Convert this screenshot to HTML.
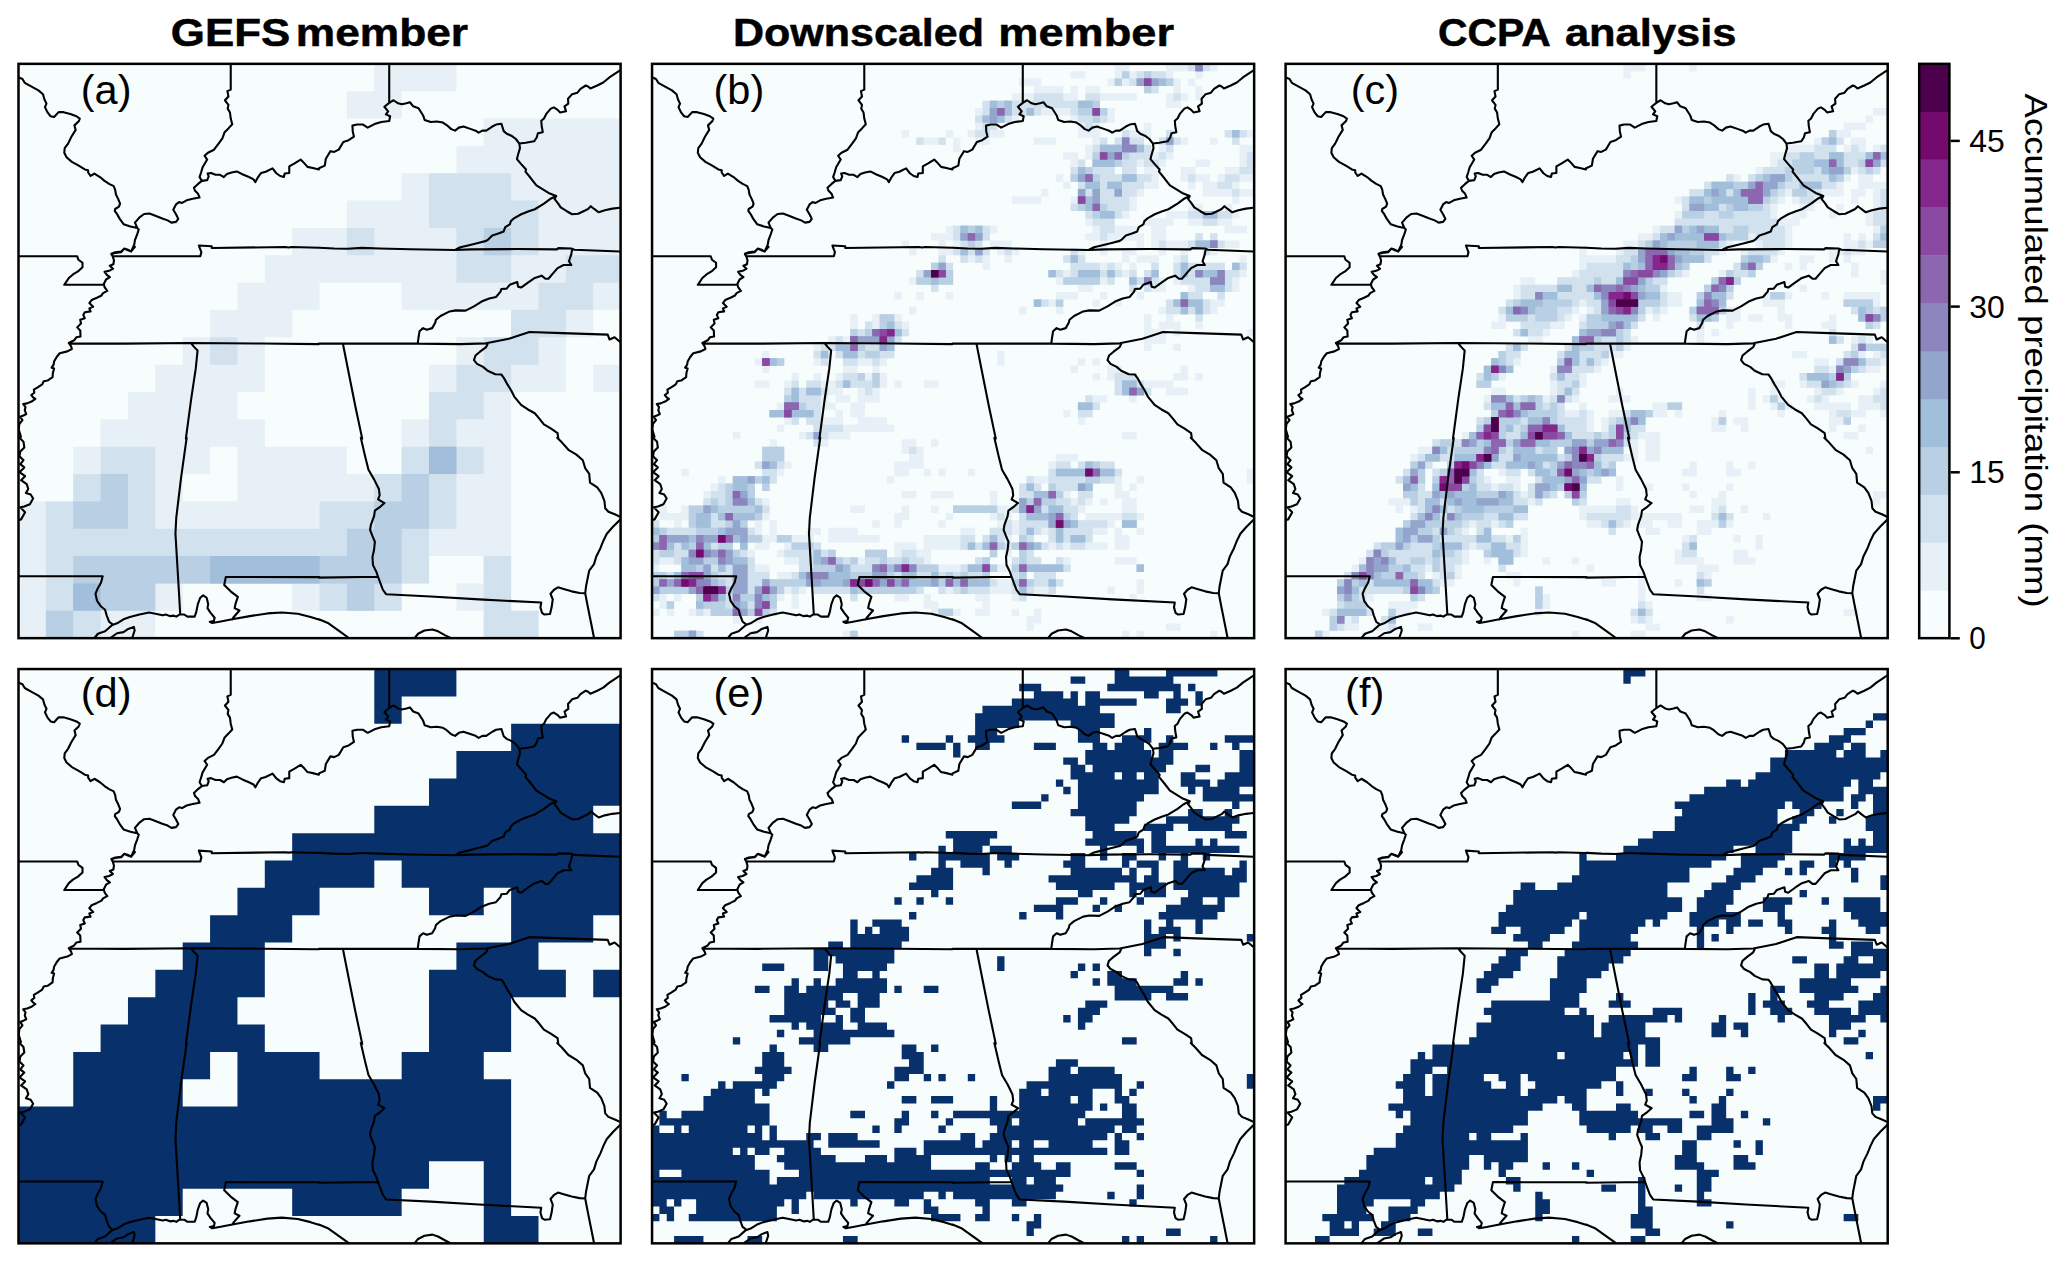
<!DOCTYPE html>
<html><head><meta charset="utf-8"><title>Precipitation downscaling figure</title>
<style>html,body{margin:0;padding:0;background:#fff}svg{display:block}text{font-family:"Liberation Sans",sans-serif;fill:#000}</style></head><body>
<svg width="2067" height="1263" viewBox="0 0 2067 1263">
<defs><clipPath id="pc"><rect x="0" y="0" width="602.1" height="574.3"/></clipPath>
<path id="bd" fill="none" stroke="#000" stroke-width="2.1" stroke-linejoin="round" stroke-linecap="round" d="M0.92 13.94L3.96 15.15L6.24 18.95L13.08 22.75L19.92 26.55L24.48 30.35L26 35.68L27.98 39.78L26.46 43.28L29.04 48.6L32.08 52.4L35.58 53.16L40.14 48.29L45.01 48.29L51.85 50.12L57.93 52.4L61.27 54.68L60.21 57.41L55.95 61.52L57.17 66.08L52.91 72.92L49.57 79.76L46.22 84.32L45.77 88.88L48.05 93.44L53.37 98L60.21 101.8L66.29 105.61L69.63 106.37L69.63 108.65L72.07 112.14L75.87 109.71L81.49 113.21L86.05 117.01L90.61 120.05L95.17 122.33L96.69 126.13L97.45 130.69L99.73 135.25L101.56 139.81L100.49 142.85L96.69 145.13L96.24 147.11L98.21 149.69L101.25 155.01L105.06 160.33L111.9 162.61L118.74 164.13M118.74 164.13L120.26 165.65L118.74 170.21L116.46 176.3L115.7 180.86L112.66 187.7L108.86 186.18L105.82 184.66L102.77 187.7L96.69 188.46L92.89 189.98M118.74 164.13L116.46 158.81L121.02 153.49L125.58 150.15L130.9 149.69L136.22 151.67L143.82 154.71L149.14 156.53L152.94 158.81L157.5 158.05L159.78 155.01L157.5 150.45L154.77 145.89L157.5 140.57L160.54 138.29L163.58 139.05L168.14 136.47L174.23 134.95L181.07 133.73L179.55 129.93L176.51 126.89L175.44 123.85L179.55 120.05L183.35 117.01M183.35 117.01L181.07 113.21L182.59 108.65L184.11 103.32L188.67 95.72L186.08 91.92L189.43 88.88L195.51 85.84L200.07 79.76L203.87 74.44L206.15 68.36L209.95 64.56L213.75 60.45L212.23 54.68L211.47 48.6L209.19 44.8L209.95 41L206.45 36.44L209.95 32.63L208.89 27.31L212.23 25.79L212.23 1.47M183.35 117.01L188.67 116.25L190.19 112.45L189.12 109.71L192.47 109.1L197.03 110.93L201.59 110.93L205.39 113.21L208.43 110.17L212.99 108.65L218.31 107.58L224.39 110.62L230.47 113.21L235.03 115.49L236.86 118.22L239.59 113.21L242.64 109.1L247.2 107.89L254.04 104.54L257.84 109.41L261.64 112.14L265.44 113.21L266.2 109.71L270.76 109.1L270.76 102.56L276.08 99.52L282.16 95.72L285.96 99.52L289 103.02L294.32 104.08L300.4 105.61M180.31 181.62L193.23 182.38L193.23 184.2L266.96 183.14L270 183.59L273.04 183.14L300.4 183.9M300.5 104.35L306.28 101.76L307.34 94.92L311.9 87.32L315.7 88.08L320.26 85.8L324.82 78.2L330.14 76.38L335.47 72.88L334.25 67.56L333.94 61.78L338.51 60.72L344.59 60.72L349.15 63.76L355.99 60.26L362.83 58.13L370.73 57.22L371.65 52.36L367.39 50.53L369.67 47.49L365.87 42.93L370.73 38.98M370.73 38.98L370.73 0.67M370.73 38.98L374.99 36.4L379.55 39.44L383.35 40.5L387.91 39.44L391.41 38.37L394.75 42.48L400.07 44.45L404.63 51.6L406.16 56.16L412.24 58.13L418.32 57.68L424.4 58.74L428.2 61.17L432.76 65.28L436.56 66.8L440.36 63.76L444.92 62.7L452.52 65.28L457.08 66.8L460.12 68.78L463.92 66.8L467.72 66.8L473.8 62.7L477.61 60.72L482.93 59.96L485.21 67.26L488.25 69.84L492.81 71.82L497.37 75.16L500.86 79.72M500.86 79.72L507.25 78.96L515.61 77.44L518.2 73.64L519.41 69.38L524.28 68.32L523.21 62.24L522.76 56.92L525.49 54.64L527.77 50.08L532.33 44.76L535.37 43.54L539.17 45.97L541.45 48.56L547.54 47.49L546.02 42.48L549.82 39.89L549.51 34.88L553.62 30.31L558.94 28.79L561.98 24.99L567.3 21.65L569.58 22.71L571.86 24.69L578.7 21.65L584.78 18.61L590.86 13.59L596.94 9.49L601.5 6.45M500.86 79.72L501.47 84.28L499.65 90.36L498.43 95.23L502.69 100.24L507.55 105.57L506.95 107.85L512.57 114.69L517.89 121.53L523.97 125.33L530.05 129.13L537.65 132.17M537.65 132.17L531.57 135.21L525.49 139.77L516.37 145.4L510.29 147.37L502.69 150.41L495.85 154.21L492.35 157.25L491.29 160.6L486.73 163.33L485.21 167.59L479.89 169.72L473.8 171.69L470 175.5L467.72 177.02L458.6 179.3L449.48 181.58L441.88 183.4L436.56 186.14M537.65 132.17L536.13 135.21L539.17 139.01L542.21 143.57L548.3 147.37L553.62 150.41L559.7 149.96L565.02 147.37L569.58 145.09L572.32 142.35L575.66 145.09L580.22 148.44L586.3 146.31L593.9 144.79L601.5 143.87M300.5 183.86L315.7 184.62L329.38 184.92L343.07 184.01L361.31 184.62L391.71 185.38L436.56 186.14L452.52 185.53L498.13 185.22L538.41 185.53L539.93 184.31L552.86 184.62L555.9 185.83L601.5 187.66M116.46 182.95L112.66 187.51L108.86 185.69L105.82 184.77L102.77 188.27L96.69 189.03L92.89 190.25L94.41 192.83L95.48 196.63L94.87 200.43L91.37 201.95L94.41 204.99L90.61 206.97L86.05 208.03L88.33 211.07L91.37 213.35L87.57 215.63L85.29 220.2L86.05 223.24L88.79 227.04L84.53 229.32L83.01 231.6L78.45 233.88L73.13 236.16L70.85 239.2L74.65 243L70.85 244.52L72.07 247.56L66.29 248.32L64.77 251.06L66.29 254.4L61.73 255.92L62.49 259.72L58.69 263.52L61.73 266.56L62.03 272.64L57.93 273.4L55.65 276.44L50.33 279.03L52.61 282.52L53.37 285.11L48.81 287.54L41.21 289.37L38.17 293.17L35.58 297.73L35.13 300.77L33.15 303.81L35.58 304.57L34.37 309.13L34.06 313.38L29.04 316.73L25.24 317.49L23.72 320.53L19.16 323.57L15.36 325.85L15.82 328.89L12.78 331.17L14.6 333.45L16.88 334.97L13.08 337.71L8.52 339.53L4.72 340.29L7 343.33L6.24 346.37L7.76 350.17L5.48 351.39L1.68 352.91L3.96 356.25L0.92 360.06L0.16 365.38L2.44 372.98M0.16 192.38L58.69 192.38L59.9 195.87L64.01 198.91L64.01 203.47L59.45 207.58L54.43 210.62L50.33 214.11L45.77 220.96L84.53 220.96M94.41 192.38L181.83 192.38L182.89 188.27L180.76 182.95M50.33 279.48L105.82 279.79L172.7 279.18L242.64 279.64L300.4 280.24M172.7 279.48L175.75 283.28L179.09 286.63L177.27 304.57L172.7 334.97L167.38 374.8M553.52 185.99L552.76 190.55L550.48 197.39L552.76 201.19L545.16 201.19L539.07 204.23L534.51 209.55L529.95 214.87L526.91 214.87L523.11 211.83L516.27 214.11L509.43 218.68L502.59 223.69L499.55 222.78L498.79 218.22L491.19 220.96L488.15 224.76L482.83 225.21L482.07 227.8L477.51 233.12L470.66 234.64L463.06 237.68L455.46 242.54L447.1 246.8L437.22 246.5L431.14 247.56L422.02 252.12L417.46 255.92L416.7 258.96L413.66 264.28L408.34 265.8L404.53 264.28L401.04 267.32L399.97 274.16L399.21 279.79M300.4 279.79L399.21 279.79L441.78 280.24L467.62 279.48L490.43 274.92L510.95 268.08L543.64 269.3L589.24 270.82L591.07 275.68L596.08 273.4L601.4 277.96M469.14 280.24L467.62 283.28L461.54 287.85L456.98 291.65L455.46 296.21L458.5 300.01L464.58 303.05L469.14 306.85L476.75 310.34L482.83 310.65L485.11 313.69L488.91 320.53L492.71 326.61L495.75 332.69L502.59 341.05L509.43 345.61L516.27 349.41L520.83 354.73L525.39 360.51L532.23 364.62L539.07 369.18L539.83 374.8M324.72 281.46L330.8 312.17L336.89 342.57L343.73 374.8M1 373.95L5 377.95L5.8 383.55L1.8 387.55L1 392.34L5 396.34L1.8 400.34L5.8 403.54L1 408.34L6.6 412.34L2.6 416.34L8.2 420.34L9.8 425.13L7.4 429.13L12.2 430.73L14.6 434.73L11.4 440.33L5.8 442.73L1.8 443.53L6.6 448.33L2.6 455.52L-0.6 456.32M0.2 512.47L84.17 512.47L82.57 518.7L79.37 524.3L76.98 529.9L78.57 537.1L82.57 542.7L86.57 545.89L88.17 551.49L90.57 557.89L93.77 560.29M168.15 373.95L162.55 413.94L157.75 453.92L156.95 469.92L159.35 509.91L161.75 550.69M301.06 513.27L207.33 513.11L205.73 521.1L212.13 527.5L219.33 533.1L216.93 540.3L216.13 544.3L220.93 546.69L215.33 553.09L213.73 555.49M76.18 573.89L79.37 569.89L86.57 567.49L93.77 561.09L98.57 559.49L104.97 555.49L111.36 553.09L120.96 550.69L130.56 548.61L136.96 549.89L144.15 551.49L147.35 550.69L151.35 552.29L155.35 551.81L157.75 552.77L160.95 550.69L165.75 550.69L168.95 552.77L176.14 552.77L177.74 548.29L179.34 540.3L181.74 533.9L184.62 531.5L188.14 533.9L189.74 540.3L188.94 544.3L192.14 549.09L196.14 553.89L195.34 557.09L191.34 557.89L193.74 559.17L200.94 557.89L213.73 555.49L231.33 552.29L248.92 549.57L263.32 548.61L279.31 549.89L292.11 553.09L301.06 555.97M92.17 573.89L98.57 569.41L104.97 568.29L109.76 565.09L115.36 563.01L116.16 566.69L113.76 573.89M342.31 373.95L346.79 393.14L349.98 405.94L355.58 415.54L360.38 425.13L361.18 431.53L359.58 435.53L365.98 439.21L361.98 442.73L356.38 446.73L355.58 452.32L352.38 461.12L351.58 465.92L353.98 472.32L356.38 477.92L355.58 485.91L353.98 493.11L354.46 501.11L357.98 508.31L359.58 513.11M300.4 513.75L359.58 512.95M359.58 513.11L361.98 519.5L364.38 525.9L367.58 530.38L412.36 532.62L460.35 535.5L522.73 538.7L521.93 543.5L523.53 549.09L525.93 550.69L531.53 550.21L533.13 543.5L534.25 535.5L532.01 529.9L535.52 525.9L539.52 523.5L545.12 525.1L553.12 527.5L561.12 529.1L566.71 529.42M538.72 373.95L543.52 378.75L549.92 385.95L557.92 390.74L564.32 396.34L566.71 404.34L570.71 409.94L571.51 418.74L578.71 423.53L582.71 429.13L585.91 437.13L586.71 444.33L589.91 447.85L596.31 450.41L602.06 453.12M602.06 455.52L594.71 462.72L588.31 469.92L585.11 476.32L581.91 484.31L577.91 492.31L575.51 500.31L570.71 506.71L569.11 514.7L567.51 522.7L566.71 529.42L569.11 541.9L572.31 557.89L575.51 573.89M396.37 573.89L399.57 569.89L405.97 566.69L413.96 565.57L419.56 567.49L426.76 571.49L431.56 573.89M300.4 555.49L310 559.49L321.19 567.49L329.99 573.89"/></defs>
<rect width="2067" height="1263" fill="#fff"/>
<text x="170.8" y="46.3" font-size="38.6" font-weight="bold" stroke="#000" stroke-width="0.5" textLength="119.5" lengthAdjust="spacingAndGlyphs">GEFS</text>
<text x="295.8" y="46.3" font-size="38.6" font-weight="bold" stroke="#000" stroke-width="0.5" textLength="172.3" lengthAdjust="spacingAndGlyphs">member</text>
<text x="733" y="46.3" font-size="38.6" font-weight="bold" stroke="#000" stroke-width="0.5" textLength="251" lengthAdjust="spacingAndGlyphs">Downscaled</text>
<text x="998.3" y="46.3" font-size="38.6" font-weight="bold" stroke="#000" stroke-width="0.5" textLength="175.7" lengthAdjust="spacingAndGlyphs">member</text>
<text x="1438" y="46.3" font-size="38.6" font-weight="bold" stroke="#000" stroke-width="0.5" textLength="112.8" lengthAdjust="spacingAndGlyphs">CCPA</text>
<text x="1564.9" y="46.3" font-size="38.6" font-weight="bold" stroke="#000" stroke-width="0.5" textLength="171.6" lengthAdjust="spacingAndGlyphs">analysis</text>
<g transform="translate(18.5,63.85)">
<rect width="602.1" height="574.3" fill="#f7fcfd"/>
<path fill="#e6f0f6" fill-rule="evenodd" d="M328.42 27.35L328.42 54.7L383.15 54.7L383.15 27.35L437.89 27.35L437.89 0L355.79 0L355.79 27.35ZM191.58 246.13L191.58 273.48L164.21 273.48L164.21 300.82L136.84 300.82L136.84 328.17L109.47 328.17L109.47 355.52L82.1 355.52L82.1 382.87L54.74 382.87L54.74 437.56L0 437.56L0 574.3L136.84 574.3L136.84 546.95L164.21 546.95L164.21 519.6L273.68 519.6L273.68 546.95L383.15 546.95L383.15 519.6L410.52 519.6L410.52 492.26L465.26 492.26L465.26 519.6L437.89 519.6L437.89 546.95L465.26 546.95L465.26 574.3L520 574.3L520 546.95L492.63 546.95L492.63 328.17L547.36 328.17L547.36 273.48L574.73 273.48L574.73 246.13L602.1 246.13L602.1 54.7L465.26 54.7L465.26 82.04L437.89 82.04L437.89 109.39L383.15 109.39L383.15 136.74L328.42 136.74L328.42 164.09L273.68 164.09L273.68 191.43L246.31 191.43L246.31 218.78L218.95 218.78L218.95 246.13ZM328.42 410.21L328.42 382.87L246.31 382.87L246.31 355.52L218.95 355.52L218.95 328.17L246.31 328.17L246.31 273.48L273.68 273.48L273.68 246.13L301.05 246.13L301.05 218.78L383.15 218.78L383.15 246.13L492.63 246.13L492.63 273.48L437.89 273.48L437.89 300.82L410.52 300.82L410.52 355.52L383.15 355.52L383.15 410.21ZM218.95 437.56L164.21 437.56L164.21 410.21L191.58 410.21L191.58 382.87L218.95 382.87ZM574.73 300.82L574.73 328.17L602.1 328.17L602.1 300.82Z"/>
<path fill="#d1e1ee" fill-rule="evenodd" d="M355.79 164.09L328.42 164.09L328.42 191.43L355.79 191.43ZM191.58 273.48L191.58 300.82L218.95 300.82L218.95 273.48ZM410.52 382.87L383.15 382.87L383.15 410.21L355.79 410.21L355.79 437.56L301.05 437.56L301.05 464.91L136.84 464.91L136.84 382.87L82.1 382.87L82.1 410.21L54.74 410.21L54.74 437.56L27.37 437.56L27.37 574.3L82.1 574.3L82.1 546.95L136.84 546.95L136.84 519.6L301.05 519.6L301.05 546.95L383.15 546.95L383.15 519.6L410.52 519.6L410.52 464.91L437.89 464.91L437.89 410.21L465.26 410.21L465.26 382.87L437.89 382.87L437.89 355.52L465.26 355.52L465.26 328.17L492.63 328.17L492.63 300.82L520 300.82L520 273.48L547.36 273.48L547.36 246.13L574.73 246.13L574.73 218.78L602.1 218.78L602.1 191.43L547.36 191.43L547.36 218.78L520 218.78L520 246.13L492.63 246.13L492.63 273.48L465.26 273.48L465.26 300.82L437.89 300.82L437.89 328.17L410.52 328.17ZM437.89 164.09L437.89 218.78L492.63 218.78L492.63 191.43L520 191.43L520 136.74L492.63 136.74L492.63 109.39L410.52 109.39L410.52 164.09ZM520 574.3L520 546.95L492.63 546.95L492.63 492.26L465.26 492.26L465.26 574.3Z"/>
<path fill="#b9cfe4" fill-rule="evenodd" d="M82.1 437.56L54.74 437.56L54.74 464.91L109.47 464.91L109.47 410.21L82.1 410.21ZM54.74 492.26L54.74 546.95L136.84 546.95L136.84 519.6L328.42 519.6L328.42 546.95L355.79 546.95L355.79 519.6L383.15 519.6L383.15 464.91L410.52 464.91L410.52 410.21L383.15 410.21L383.15 437.56L355.79 437.56L355.79 464.91L328.42 464.91L328.42 492.26ZM54.74 574.3L54.74 546.95L27.37 546.95L27.37 574.3ZM492.63 164.09L465.26 164.09L465.26 191.43L492.63 191.43ZM437.89 382.87L410.52 382.87L410.52 410.21L437.89 410.21Z"/>
<path fill="#a1bedb" fill-rule="evenodd" d="M410.52 382.87L410.52 410.21L437.89 410.21L437.89 382.87ZM191.58 519.6L301.05 519.6L301.05 492.26L191.58 492.26ZM54.74 546.95L82.1 546.95L82.1 519.6L54.74 519.6Z"/>
<use href="#bd" clip-path="url(#pc)"/>
<rect width="602.1" height="574.3" fill="none" stroke="#000" stroke-width="2.5"/>
<text x="62.3" y="40.15" font-size="41.5">(a)</text>
</g>
<g transform="translate(652.05,63.85)">
<rect width="602.1" height="574.3" fill="#f7fcfd"/>
<path fill="#e6f0f6" fill-rule="evenodd" d="M117.48 309.24L117.48 301.88L132.17 301.88L132.17 294.51L117.48 294.51L117.48 287.15L110.14 287.15L110.14 294.51L102.8 294.51L102.8 301.88L110.14 301.88L110.14 309.24ZM139.51 309.24L139.51 316.6L132.17 316.6L132.17 338.69L124.83 338.69L124.83 346.05L117.48 346.05L117.48 353.42L132.17 353.42L132.17 360.78L146.85 360.78L146.85 353.42L154.2 353.42L154.2 360.78L161.54 360.78L161.54 368.14L146.85 368.14L146.85 375.5L161.54 375.5L161.54 382.87L176.22 382.87L176.22 375.5L198.25 375.5L198.25 368.14L242.31 368.14L242.31 360.78L234.97 360.78L234.97 353.42L212.94 353.42L212.94 338.69L227.62 338.69L227.62 323.96L234.97 323.96L234.97 309.24L227.62 309.24L227.62 301.88L234.97 301.88L234.97 294.51L242.31 294.51L242.31 279.79L249.65 279.79L249.65 272.42L256.99 272.42L256.99 257.7L249.65 257.7L249.65 250.34L220.28 250.34L220.28 257.7L212.94 257.7L212.94 265.06L205.6 265.06L205.6 250.34L198.25 250.34L198.25 272.42L176.22 272.42L176.22 279.79L161.54 279.79L161.54 301.88L176.22 301.88L176.22 287.15L183.57 287.15L183.57 294.51L190.91 294.51L190.91 309.24L183.57 309.24L183.57 316.6L168.88 316.6L168.88 309.24L161.54 309.24L161.54 316.6L154.2 316.6L154.2 323.96L146.85 323.96L146.85 309.24ZM205.6 309.24L205.6 301.88L220.28 301.88L220.28 309.24ZM168.88 346.05L183.57 346.05L183.57 353.42L168.88 353.42ZM183.57 338.69L198.25 338.69L198.25 353.42L205.6 353.42L205.6 360.78L190.91 360.78L190.91 346.05L183.57 346.05ZM176.22 338.69L176.22 331.33L183.57 331.33L183.57 338.69ZM198.25 331.33L190.91 331.33L190.91 323.96L205.6 323.96L205.6 338.69L198.25 338.69ZM117.48 316.6L102.8 316.6L102.8 323.96L117.48 323.96ZM124.83 360.78L124.83 368.14L132.17 368.14L132.17 360.78ZM88.11 368.14L80.77 368.14L80.77 375.5L88.11 375.5ZM110.14 404.96L110.14 412.32L80.77 412.32L80.77 419.68L73.43 419.68L73.43 412.32L66.08 412.32L66.08 419.68L58.74 419.68L58.74 427.04L51.4 427.04L51.4 441.77L29.37 441.77L29.37 449.13L14.69 449.13L14.69 441.77L7.34 441.77L7.34 456.49L0 456.49L0 537.49L7.34 537.49L7.34 544.85L14.69 544.85L14.69 552.21L22.03 552.21L22.03 537.49L29.37 537.49L29.37 530.12L44.06 530.12L44.06 544.85L36.71 544.85L36.71 552.21L80.77 552.21L80.77 559.57L88.11 559.57L88.11 552.21L102.8 552.21L102.8 559.57L110.14 559.57L110.14 552.21L124.83 552.21L124.83 537.49L132.17 537.49L132.17 530.12L139.51 530.12L139.51 544.85L146.85 544.85L146.85 530.12L154.2 530.12L154.2 522.76L161.54 522.76L161.54 530.12L198.25 530.12L198.25 537.49L205.6 537.49L205.6 530.12L242.31 530.12L242.31 537.49L256.99 537.49L256.99 530.12L271.68 530.12L271.68 522.76L286.36 522.76L286.36 530.12L323.08 530.12L323.08 537.49L330.42 537.49L330.42 544.85L323.08 544.85L323.08 552.21L337.76 552.21L337.76 530.12L359.79 530.12L359.79 537.49L374.48 537.49L374.48 530.12L403.85 530.12L403.85 522.76L411.19 522.76L411.19 515.4L403.85 515.4L403.85 508.03L418.53 508.03L418.53 493.31L403.85 493.31L403.85 500.67L389.16 500.67L389.16 493.31L381.82 493.31L381.82 485.95L455.25 485.95L455.25 478.58L440.56 478.58L440.56 471.22L455.25 471.22L455.25 463.86L462.59 463.86L462.59 456.49L469.93 456.49L469.93 463.86L484.62 463.86L484.62 456.49L491.96 456.49L491.96 449.13L484.62 449.13L484.62 434.41L477.27 434.41L477.27 427.04L469.93 427.04L469.93 404.96L462.59 404.96L462.59 397.59L425.88 397.59L425.88 390.23L403.85 390.23L403.85 397.59L396.5 397.59L396.5 412.32L374.48 412.32L374.48 419.68L367.13 419.68L367.13 441.77L345.11 441.77L345.11 427.04L337.76 427.04L337.76 441.77L301.05 441.77L301.05 449.13L337.76 449.13L337.76 456.49L345.11 456.49L345.11 463.86L337.76 463.86L337.76 471.22L330.42 471.22L330.42 478.58L323.08 478.58L323.08 463.86L308.39 463.86L308.39 471.22L271.68 471.22L271.68 485.95L264.34 485.95L264.34 478.58L242.31 478.58L242.31 493.31L234.97 493.31L234.97 485.95L212.94 485.95L212.94 493.31L183.57 493.31L183.57 485.95L168.88 485.95L168.88 478.58L161.54 478.58L161.54 471.22L168.88 471.22L168.88 463.86L154.2 463.86L154.2 471.22L124.83 471.22L124.83 456.49L117.48 456.49L117.48 434.41L102.8 434.41L102.8 419.68L110.14 419.68L110.14 427.04L117.48 427.04L117.48 419.68L124.83 419.68L124.83 412.32L132.17 412.32L132.17 404.96L139.51 404.96L139.51 397.59L132.17 397.59L132.17 382.87L124.83 382.87L124.83 375.5L117.48 375.5L117.48 382.87L110.14 382.87L110.14 397.59L102.8 397.59L102.8 404.96ZM22.03 456.49L22.03 463.86L7.34 463.86L7.34 456.49ZM14.69 537.49L14.69 530.12L22.03 530.12L22.03 537.49ZM425.88 404.96L418.53 404.96L418.53 397.59L425.88 397.59ZM117.48 471.22L110.14 471.22L110.14 456.49L117.48 456.49ZM374.48 515.4L374.48 508.03L381.82 508.03L381.82 515.4ZM337.76 515.4L337.76 508.03L359.79 508.03L359.79 515.4ZM337.76 500.67L337.76 493.31L345.11 493.31L345.11 485.95L352.45 485.95L352.45 493.31L359.79 493.31L359.79 500.67ZM323.08 493.31L323.08 500.67L279.02 500.67L279.02 485.95L337.76 485.95L337.76 493.31ZM359.79 485.95L367.13 485.95L367.13 493.31L359.79 493.31ZM117.48 500.67L102.8 500.67L102.8 485.95L117.48 485.95L117.48 478.58L132.17 478.58L132.17 485.95L124.83 485.95L124.83 493.31L132.17 493.31L132.17 500.67L146.85 500.67L146.85 508.03L124.83 508.03L124.83 515.4L117.48 515.4ZM95.45 485.95L95.45 478.58L102.8 478.58L102.8 485.95ZM80.77 478.58L88.11 478.58L88.11 485.95L80.77 485.95ZM36.71 456.49L36.71 463.86L29.37 463.86L29.37 456.49ZM102.8 463.86L95.45 463.86L95.45 456.49L102.8 456.49ZM7.34 508.03L7.34 500.67L29.37 500.67L29.37 508.03ZM433.22 441.77L440.56 441.77L440.56 419.68L462.59 419.68L462.59 434.41L469.93 434.41L469.93 449.13L433.22 449.13ZM433.22 456.49L425.88 456.49L425.88 449.13L433.22 449.13ZM425.88 427.04L425.88 434.41L418.53 434.41L418.53 427.04ZM359.79 449.13L367.13 449.13L367.13 456.49L359.79 456.49ZM396.5 419.68L396.5 427.04L389.16 427.04L389.16 419.68ZM367.13 478.58L359.79 478.58L359.79 471.22L367.13 471.22ZM381.82 478.58L381.82 471.22L396.5 471.22L396.5 478.58ZM29.37 404.96L29.37 412.32L36.71 412.32L36.71 404.96ZM0 544.85L0 552.21L7.34 552.21L7.34 544.85ZM22.03 566.94L22.03 574.3L51.4 574.3L51.4 566.94ZM95.45 566.94L95.45 574.3L110.14 574.3L110.14 566.94ZM256.99 176.71L249.65 176.71L249.65 184.07L256.99 184.07ZM242.31 228.25L242.31 235.61L249.65 235.61L249.65 228.25ZM242.31 316.6L242.31 323.96L249.65 323.96L249.65 316.6ZM256.99 412.32L256.99 404.96L271.68 404.96L271.68 382.87L264.34 382.87L264.34 375.5L249.65 375.5L249.65 390.23L256.99 390.23L256.99 397.59L242.31 397.59L242.31 412.32ZM234.97 412.32L234.97 419.68L242.31 419.68L242.31 412.32ZM212.94 441.77L198.25 441.77L198.25 449.13L212.94 449.13ZM256.99 441.77L249.65 441.77L249.65 449.13L242.31 449.13L242.31 463.86L249.65 463.86L249.65 456.49L256.99 456.49ZM220.28 456.49L220.28 463.86L227.62 463.86L227.62 456.49ZM176.22 463.86L176.22 478.58L227.62 478.58L227.62 471.22L205.6 471.22L205.6 463.86ZM205.6 566.94L190.91 566.94L190.91 574.3L205.6 574.3ZM323.08 73.63L323.08 80.99L337.76 80.99L337.76 73.63L352.45 73.63L352.45 66.27L345.11 66.27L345.11 58.9L367.13 58.9L367.13 51.54L418.53 51.54L418.53 58.9L425.88 58.9L425.88 73.63L440.56 73.63L440.56 80.99L433.22 80.99L433.22 95.72L425.88 95.72L425.88 88.35L411.19 88.35L411.19 95.72L418.53 95.72L418.53 117.81L425.88 117.81L425.88 132.53L418.53 132.53L418.53 147.26L433.22 147.26L433.22 161.98L440.56 161.98L440.56 169.34L433.22 169.34L433.22 176.71L447.9 176.71L447.9 191.43L455.25 191.43L455.25 176.71L484.62 176.71L484.62 184.07L491.96 184.07L491.96 169.34L484.62 169.34L484.62 161.98L462.59 161.98L462.59 154.62L477.27 154.62L477.27 147.26L484.62 147.26L484.62 132.53L491.96 132.53L491.96 125.17L506.65 125.17L506.65 103.08L513.99 103.08L513.99 95.72L521.33 95.72L521.33 80.99L536.02 80.99L536.02 73.63L521.33 73.63L521.33 66.27L513.99 66.27L513.99 73.63L506.65 73.63L506.65 88.35L499.3 88.35L499.3 80.99L491.96 80.99L491.96 73.63L499.3 73.63L499.3 58.9L491.96 58.9L491.96 66.27L469.93 66.27L469.93 73.63L462.59 73.63L462.59 80.99L455.25 80.99L455.25 73.63L447.9 73.63L447.9 58.9L462.59 58.9L462.59 44.18L447.9 44.18L447.9 36.81L484.62 36.81L484.62 29.45L447.9 29.45L447.9 22.09L433.22 22.09L433.22 36.81L425.88 36.81L425.88 22.09L418.53 22.09L418.53 29.45L411.19 29.45L411.19 22.09L389.16 22.09L389.16 14.73L367.13 14.73L367.13 22.09L381.82 22.09L381.82 29.45L359.79 29.45L359.79 36.81L330.42 36.81L330.42 44.18L323.08 44.18L323.08 66.27L315.74 66.27L315.74 73.63ZM440.56 95.72L440.56 103.08L433.22 103.08L433.22 95.72ZM484.62 103.08L491.96 103.08L491.96 110.44L484.62 110.44ZM462.59 103.08L469.93 103.08L469.93 110.44L462.59 110.44ZM249.65 66.27L249.65 73.63L256.99 73.63L256.99 66.27ZM293.71 66.27L293.71 73.63L301.05 73.63L301.05 66.27ZM301.05 73.63L301.05 88.35L308.39 88.35L308.39 73.63ZM264.34 73.63L264.34 80.99L293.71 80.99L293.71 73.63ZM286.36 198.8L279.02 198.8L279.02 206.16L264.34 206.16L264.34 213.52L256.99 213.52L256.99 220.88L279.02 220.88L279.02 228.25L286.36 228.25L286.36 220.88L301.05 220.88L301.05 198.8L293.71 198.8L293.71 191.43L308.39 191.43L308.39 198.8L330.42 198.8L330.42 206.16L337.76 206.16L337.76 184.07L330.42 184.07L330.42 176.71L337.76 176.71L337.76 169.34L345.11 169.34L345.11 161.98L293.71 161.98L293.71 169.34L279.02 169.34L279.02 176.71L286.36 176.71ZM301.05 184.07L293.71 184.07L293.71 176.71L301.05 176.71ZM256.99 184.07L256.99 191.43L264.34 191.43L264.34 184.07ZM293.71 228.25L293.71 235.61L301.05 235.61L301.05 228.25ZM264.34 228.25L264.34 235.61L271.68 235.61L271.68 228.25ZM264.34 242.97L256.99 242.97L256.99 250.34L264.34 250.34ZM271.68 316.6L271.68 323.96L286.36 323.96L286.36 316.6ZM279.02 375.5L279.02 382.87L286.36 382.87L286.36 375.5ZM286.36 404.96L286.36 412.32L293.71 412.32L293.71 404.96ZM271.68 404.96L271.68 412.32L279.02 412.32L279.02 404.96ZM323.08 404.96L315.74 404.96L315.74 412.32L323.08 412.32ZM301.05 427.04L279.02 427.04L279.02 434.41L301.05 434.41ZM249.65 427.04L249.65 434.41L264.34 434.41L264.34 427.04ZM279.02 441.77L279.02 449.13L286.36 449.13L286.36 441.77ZM293.71 449.13L293.71 456.49L301.05 456.49L301.05 449.13ZM293.71 456.49L286.36 456.49L286.36 463.86L293.71 463.86ZM308.39 544.85L286.36 544.85L286.36 537.49L279.02 537.49L279.02 530.12L271.68 530.12L271.68 544.85L279.02 544.85L279.02 552.21L308.39 552.21ZM418.53 7.36L418.53 14.73L433.22 14.73L433.22 7.36ZM381.82 73.63L381.82 80.99L403.85 80.99L403.85 73.63ZM411.19 117.81L411.19 110.44L403.85 110.44L403.85 117.81ZM411.19 117.81L411.19 125.17L418.53 125.17L418.53 117.81ZM389.16 125.17L389.16 132.53L396.5 132.53L396.5 125.17ZM389.16 132.53L359.79 132.53L359.79 139.89L389.16 139.89ZM359.79 191.43L367.13 191.43L367.13 184.07L359.79 184.07L359.79 176.71L337.76 176.71L337.76 184.07L345.11 184.07L345.11 191.43L352.45 191.43L352.45 198.8L359.79 198.8ZM433.22 184.07L418.53 184.07L418.53 191.43L411.19 191.43L411.19 198.8L418.53 198.8L418.53 206.16L396.5 206.16L396.5 213.52L403.85 213.52L403.85 220.88L425.88 220.88L425.88 228.25L440.56 228.25L440.56 220.88L462.59 220.88L462.59 213.52L477.27 213.52L477.27 228.25L484.62 228.25L484.62 220.88L491.96 220.88L491.96 228.25L513.99 228.25L513.99 213.52L506.65 213.52L506.65 191.43L484.62 191.43L484.62 198.8L477.27 198.8L477.27 206.16L469.93 206.16L469.93 198.8L433.22 198.8ZM499.3 198.8L499.3 206.16L491.96 206.16L491.96 213.52L484.62 213.52L484.62 198.8ZM403.85 242.97L403.85 250.34L411.19 250.34L411.19 235.61L425.88 235.61L425.88 228.25L403.85 228.25L403.85 235.61L381.82 235.61L381.82 242.97ZM367.13 242.97L367.13 250.34L374.48 250.34L374.48 242.97ZM345.11 287.15L345.11 301.88L352.45 301.88L352.45 287.15ZM418.53 301.88L418.53 309.24L425.88 309.24L425.88 301.88ZM418.53 346.05L411.19 346.05L411.19 353.42L418.53 353.42ZM381.82 559.57L389.16 559.57L389.16 544.85L381.82 544.85L381.82 552.21L374.48 552.21L374.48 566.94L381.82 566.94ZM359.79 544.85L359.79 552.21L367.13 552.21L367.13 544.85ZM462.59 14.73L455.25 14.73L455.25 22.09L491.96 22.09L491.96 29.45L506.65 29.45L506.65 22.09L521.33 22.09L521.33 29.45L513.99 29.45L513.99 44.18L528.67 44.18L528.67 36.81L536.02 36.81L536.02 29.45L528.67 29.45L528.67 14.73L521.33 14.73L521.33 7.36L543.36 7.36L543.36 14.73L550.7 14.73L550.7 7.36L565.39 7.36L565.39 0L513.99 0L513.99 7.36L477.27 7.36L477.27 0L462.59 0ZM477.27 198.8L477.27 191.43L484.62 191.43L484.62 184.07L469.93 184.07L469.93 198.8ZM447.9 235.61L455.25 235.61L455.25 228.25L447.9 228.25ZM440.56 235.61L440.56 242.97L447.9 242.97L447.9 235.61ZM462.59 235.61L462.59 242.97L469.93 242.97L469.93 235.61ZM447.9 294.51L440.56 294.51L440.56 301.88L447.9 301.88ZM425.88 294.51L425.88 301.88L433.22 301.88L433.22 294.51ZM462.59 331.33L477.27 331.33L477.27 338.69L484.62 338.69L484.62 331.33L499.3 331.33L499.3 323.96L513.99 323.96L513.99 331.33L536.02 331.33L536.02 323.96L521.33 323.96L521.33 316.6L484.62 316.6L484.62 309.24L469.93 309.24L469.93 301.88L455.25 301.88L455.25 316.6L462.59 316.6ZM447.9 309.24L440.56 309.24L440.56 316.6L447.9 316.6ZM425.88 360.78L433.22 360.78L433.22 353.42L440.56 353.42L440.56 346.05L447.9 346.05L447.9 338.69L455.25 338.69L455.25 331.33L433.22 331.33L433.22 338.69L425.88 338.69ZM447.9 434.41L447.9 441.77L455.25 441.77L455.25 434.41ZM477.27 471.22L469.93 471.22L469.93 463.86L462.59 463.86L462.59 485.95L477.27 485.95ZM462.59 493.31L462.59 500.67L484.62 500.67L484.62 493.31ZM462.59 522.76L455.25 522.76L455.25 530.12L462.59 530.12ZM469.93 566.94L469.93 574.3L477.27 574.3L477.27 566.94ZM499.3 184.07L506.65 184.07L506.65 191.43L513.99 191.43L513.99 184.07L528.67 184.07L528.67 191.43L521.33 191.43L521.33 220.88L536.02 220.88L536.02 228.25L528.67 228.25L528.67 235.61L513.99 235.61L513.99 242.97L506.65 242.97L506.65 250.34L513.99 250.34L513.99 257.7L506.65 257.7L506.65 265.06L499.3 265.06L499.3 250.34L491.96 250.34L491.96 287.15L499.3 287.15L499.3 279.79L513.99 279.79L513.99 265.06L521.33 265.06L521.33 272.42L528.67 272.42L528.67 257.7L521.33 257.7L521.33 250.34L543.36 250.34L543.36 265.06L550.7 265.06L550.7 250.34L565.39 250.34L565.39 242.97L572.73 242.97L572.73 228.25L587.41 228.25L587.41 213.52L594.76 213.52L594.76 191.43L587.41 191.43L587.41 198.8L580.07 198.8L580.07 206.16L572.73 206.16L572.73 198.8L536.02 198.8L536.02 184.07L550.7 184.07L550.7 191.43L565.39 191.43L565.39 184.07L587.41 184.07L587.41 176.71L565.39 176.71L565.39 169.34L558.04 169.34L558.04 176.71L550.7 176.71L550.7 169.34L543.36 169.34L543.36 176.71L513.99 176.71L513.99 161.98L521.33 161.98L521.33 154.62L536.02 154.62L536.02 161.98L572.73 161.98L572.73 169.34L594.76 169.34L594.76 161.98L580.07 161.98L580.07 154.62L587.41 154.62L587.41 147.26L580.07 147.26L580.07 139.89L572.73 139.89L572.73 147.26L550.7 147.26L550.7 139.89L536.02 139.89L536.02 147.26L513.99 147.26L513.99 154.62L491.96 154.62L491.96 161.98L499.3 161.98ZM565.39 228.25L565.39 235.61L550.7 235.61L550.7 228.25ZM484.62 228.25L484.62 235.61L491.96 235.61L491.96 228.25ZM521.33 279.79L521.33 287.15L528.67 287.15L528.67 279.79ZM484.62 368.14L469.93 368.14L469.93 375.5L484.62 375.5ZM491.96 419.68L491.96 412.32L484.62 412.32L484.62 419.68ZM477.27 419.68L477.27 427.04L484.62 427.04L484.62 419.68ZM484.62 463.86L484.62 471.22L491.96 471.22L491.96 463.86ZM491.96 500.67L484.62 500.67L484.62 508.03L491.96 508.03ZM484.62 530.12L491.96 530.12L491.96 515.4L484.62 515.4ZM484.62 530.12L477.27 530.12L477.27 537.49L484.62 537.49ZM513.99 559.57L513.99 566.94L528.67 566.94L528.67 559.57ZM484.62 566.94L484.62 574.3L491.96 574.3L491.96 566.94ZM536.02 14.73L536.02 22.09L543.36 22.09L543.36 14.73ZM543.36 22.09L543.36 36.81L550.7 36.81L550.7 22.09ZM587.41 73.63L602.1 73.63L602.1 66.27L572.73 66.27L572.73 73.63L580.07 73.63L580.07 80.99L587.41 80.99ZM558.04 73.63L558.04 80.99L565.39 80.99L565.39 73.63ZM565.39 110.44L565.39 117.81L558.04 117.81L558.04 110.44L543.36 110.44L543.36 103.08L528.67 103.08L528.67 117.81L536.02 117.81L536.02 125.17L543.36 125.17L543.36 117.81L550.7 117.81L550.7 132.53L580.07 132.53L580.07 139.89L587.41 139.89L587.41 132.53L602.1 132.53L602.1 125.17L587.41 125.17L587.41 117.81L602.1 117.81L602.1 80.99L587.41 80.99L587.41 103.08L572.73 103.08L572.73 110.44ZM543.36 95.72L543.36 103.08L558.04 103.08L558.04 95.72ZM594.76 265.06L594.76 272.42L602.1 272.42L602.1 265.06ZM536.02 301.88L528.67 301.88L528.67 309.24L521.33 309.24L521.33 316.6L536.02 316.6ZM543.36 309.24L543.36 316.6L550.7 316.6L550.7 309.24ZM594.76 404.96L594.76 419.68L602.1 419.68L602.1 404.96ZM558.04 566.94L558.04 574.3L565.39 574.3L565.39 566.94Z"/>
<path fill="#d1e1ee" fill-rule="evenodd" d="M132.17 301.88L132.17 294.51L110.14 294.51L110.14 301.88ZM139.51 316.6L139.51 323.96L132.17 323.96L132.17 346.05L117.48 346.05L117.48 353.42L139.51 353.42L139.51 360.78L146.85 360.78L146.85 353.42L154.2 353.42L154.2 360.78L161.54 360.78L161.54 368.14L154.2 368.14L154.2 375.5L161.54 375.5L161.54 382.87L168.88 382.87L168.88 375.5L176.22 375.5L176.22 368.14L190.91 368.14L190.91 360.78L168.88 360.78L168.88 331.33L176.22 331.33L176.22 323.96L168.88 323.96L168.88 316.6L154.2 316.6L154.2 323.96L146.85 323.96L146.85 316.6ZM110.14 397.59L102.8 397.59L102.8 404.96L110.14 404.96L110.14 412.32L80.77 412.32L80.77 419.68L66.08 419.68L66.08 427.04L58.74 427.04L58.74 434.41L51.4 434.41L51.4 441.77L36.71 441.77L36.71 463.86L7.34 463.86L7.34 456.49L0 456.49L0 500.67L7.34 500.67L7.34 493.31L22.03 493.31L22.03 500.67L29.37 500.67L29.37 508.03L0 508.03L0 537.49L7.34 537.49L7.34 530.12L44.06 530.12L44.06 552.21L51.4 552.21L51.4 544.85L58.74 544.85L58.74 552.21L124.83 552.21L124.83 530.12L132.17 530.12L132.17 522.76L139.51 522.76L139.51 530.12L146.85 530.12L146.85 522.76L161.54 522.76L161.54 530.12L198.25 530.12L198.25 537.49L205.6 537.49L205.6 530.12L271.68 530.12L271.68 522.76L286.36 522.76L286.36 530.12L293.71 530.12L293.71 522.76L301.05 522.76L301.05 530.12L337.76 530.12L337.76 522.76L345.11 522.76L345.11 515.4L337.76 515.4L337.76 508.03L345.11 508.03L345.11 500.67L337.76 500.67L337.76 493.31L323.08 493.31L323.08 500.67L308.39 500.67L308.39 508.03L286.36 508.03L286.36 500.67L271.68 500.67L271.68 493.31L264.34 493.31L264.34 485.95L249.65 485.95L249.65 493.31L234.97 493.31L234.97 485.95L212.94 485.95L212.94 500.67L205.6 500.67L205.6 493.31L183.57 493.31L183.57 485.95L168.88 485.95L168.88 478.58L139.51 478.58L139.51 485.95L132.17 485.95L132.17 493.31L146.85 493.31L146.85 508.03L139.51 508.03L139.51 515.4L117.48 515.4L117.48 508.03L102.8 508.03L102.8 493.31L95.45 493.31L95.45 478.58L110.14 478.58L110.14 471.22L102.8 471.22L102.8 463.86L95.45 463.86L95.45 456.49L110.14 456.49L110.14 449.13L117.48 449.13L117.48 441.77L110.14 441.77L110.14 434.41L102.8 434.41L102.8 419.68L110.14 419.68L110.14 427.04L117.48 427.04L117.48 419.68L124.83 419.68L124.83 404.96L132.17 404.96L132.17 382.87L110.14 382.87ZM80.77 485.95L80.77 478.58L88.11 478.58L88.11 485.95ZM139.51 471.22L124.83 471.22L124.83 478.58L139.51 478.58ZM22.03 544.85L22.03 537.49L14.69 537.49L14.69 544.85ZM51.4 566.94L22.03 566.94L22.03 574.3L51.4 574.3ZM271.68 73.63L264.34 73.63L264.34 80.99L271.68 80.99ZM293.71 73.63L286.36 73.63L286.36 80.99L293.71 80.99ZM308.39 176.71L308.39 184.07L301.05 184.07L301.05 191.43L308.39 191.43L308.39 198.8L315.74 198.8L315.74 191.43L323.08 191.43L323.08 198.8L330.42 198.8L330.42 191.43L337.76 191.43L337.76 184.07L330.42 184.07L330.42 176.71L337.76 176.71L337.76 161.98L301.05 161.98L301.05 176.71ZM301.05 198.8L293.71 198.8L293.71 191.43L286.36 191.43L286.36 198.8L279.02 198.8L279.02 206.16L264.34 206.16L264.34 220.88L279.02 220.88L279.02 228.25L286.36 228.25L286.36 220.88L301.05 220.88ZM220.28 257.7L212.94 257.7L212.94 265.06L198.25 265.06L198.25 279.79L190.91 279.79L190.91 272.42L183.57 272.42L183.57 279.79L168.88 279.79L168.88 287.15L161.54 287.15L161.54 294.51L168.88 294.51L168.88 301.88L176.22 301.88L176.22 287.15L183.57 287.15L183.57 294.51L190.91 294.51L190.91 301.88L205.6 301.88L205.6 294.51L220.28 294.51L220.28 301.88L227.62 301.88L227.62 294.51L242.31 294.51L242.31 279.79L249.65 279.79L249.65 272.42L256.99 272.42L256.99 265.06L249.65 265.06L249.65 257.7L242.31 257.7L242.31 250.34L227.62 250.34L227.62 265.06L220.28 265.06ZM190.91 316.6L183.57 316.6L183.57 323.96L212.94 323.96L212.94 331.33L220.28 331.33L220.28 323.96L227.62 323.96L227.62 309.24L220.28 309.24L220.28 316.6L212.94 316.6L212.94 309.24L190.91 309.24ZM264.34 382.87L256.99 382.87L256.99 390.23L264.34 390.23ZM345.11 441.77L301.05 441.77L301.05 449.13L345.11 449.13ZM323.08 471.22L308.39 471.22L308.39 485.95L337.76 485.95L337.76 493.31L345.11 493.31L345.11 485.95L367.13 485.95L367.13 493.31L359.79 493.31L359.79 530.12L367.13 530.12L367.13 537.49L374.48 537.49L374.48 530.12L381.82 530.12L381.82 522.76L396.5 522.76L396.5 530.12L403.85 530.12L403.85 522.76L411.19 522.76L411.19 515.4L403.85 515.4L403.85 508.03L418.53 508.03L418.53 500.67L411.19 500.67L411.19 493.31L403.85 493.31L403.85 500.67L389.16 500.67L389.16 493.31L381.82 493.31L381.82 485.95L396.5 485.95L396.5 478.58L403.85 478.58L403.85 485.95L411.19 485.95L411.19 478.58L418.53 478.58L418.53 485.95L433.22 485.95L433.22 478.58L440.56 478.58L440.56 463.86L455.25 463.86L455.25 456.49L425.88 456.49L425.88 441.77L433.22 441.77L433.22 434.41L440.56 434.41L440.56 419.68L462.59 419.68L462.59 412.32L469.93 412.32L469.93 404.96L462.59 404.96L462.59 397.59L425.88 397.59L425.88 404.96L418.53 404.96L418.53 397.59L403.85 397.59L403.85 404.96L396.5 404.96L396.5 427.04L389.16 427.04L389.16 419.68L381.82 419.68L381.82 412.32L374.48 412.32L374.48 419.68L367.13 419.68L367.13 441.77L359.79 441.77L359.79 449.13L367.13 449.13L367.13 478.58L352.45 478.58L352.45 471.22L359.79 471.22L359.79 456.49L352.45 456.49L352.45 463.86L337.76 463.86L337.76 471.22L330.42 471.22L330.42 478.58L323.08 478.58ZM381.82 478.58L381.82 471.22L389.16 471.22L389.16 463.86L396.5 463.86L396.5 478.58ZM418.53 441.77L418.53 434.41L411.19 434.41L411.19 427.04L425.88 427.04L425.88 441.77ZM374.48 508.03L381.82 508.03L381.82 515.4L374.48 515.4ZM301.05 544.85L286.36 544.85L286.36 552.21L301.05 552.21ZM205.6 566.94L198.25 566.94L198.25 574.3L205.6 574.3ZM323.08 51.54L323.08 58.9L330.42 58.9L330.42 66.27L323.08 66.27L323.08 73.63L337.76 73.63L337.76 66.27L345.11 66.27L345.11 58.9L359.79 58.9L359.79 51.54L389.16 51.54L389.16 44.18L418.53 44.18L418.53 51.54L425.88 51.54L425.88 58.9L433.22 58.9L433.22 66.27L440.56 66.27L440.56 58.9L455.25 58.9L455.25 44.18L447.9 44.18L447.9 29.45L433.22 29.45L433.22 36.81L411.19 36.81L411.19 29.45L381.82 29.45L381.82 36.81L330.42 36.81L330.42 51.54ZM411.19 198.8L418.53 198.8L418.53 213.52L411.19 213.52L411.19 220.88L447.9 220.88L447.9 213.52L455.25 213.52L455.25 220.88L462.59 220.88L462.59 213.52L469.93 213.52L469.93 206.16L462.59 206.16L462.59 198.8L455.25 198.8L455.25 206.16L447.9 206.16L447.9 198.8L433.22 198.8L433.22 191.43L425.88 191.43L425.88 184.07L418.53 184.07L418.53 191.43L411.19 191.43ZM359.79 191.43L359.79 184.07L352.45 184.07L352.45 191.43ZM411.19 206.16L396.5 206.16L396.5 213.52L411.19 213.52ZM411.19 235.61L403.85 235.61L403.85 242.97L411.19 242.97ZM396.5 235.61L381.82 235.61L381.82 242.97L396.5 242.97ZM352.45 449.13L345.11 449.13L345.11 456.49L352.45 456.49ZM477.27 7.36L469.93 7.36L469.93 14.73L477.27 14.73ZM469.93 14.73L462.59 14.73L462.59 22.09L469.93 22.09ZM447.9 80.99L440.56 80.99L440.56 103.08L433.22 103.08L433.22 95.72L425.88 95.72L425.88 103.08L418.53 103.08L418.53 117.81L425.88 117.81L425.88 139.89L418.53 139.89L418.53 147.26L433.22 147.26L433.22 154.62L440.56 154.62L440.56 161.98L447.9 161.98L447.9 176.71L455.25 176.71L455.25 169.34L462.59 169.34L462.59 154.62L469.93 154.62L469.93 147.26L477.27 147.26L477.27 132.53L484.62 132.53L484.62 125.17L491.96 125.17L491.96 117.81L499.3 117.81L499.3 110.44L484.62 110.44L484.62 95.72L491.96 95.72L491.96 103.08L506.65 103.08L506.65 95.72L499.3 95.72L499.3 80.99L491.96 80.99L491.96 73.63L477.27 73.63L477.27 66.27L469.93 66.27L469.93 73.63L462.59 73.63L462.59 80.99L455.25 80.99L455.25 73.63L447.9 73.63ZM469.93 110.44L462.59 110.44L462.59 103.08L469.93 103.08ZM477.27 206.16L477.27 228.25L484.62 228.25L484.62 220.88L491.96 220.88L491.96 228.25L499.3 228.25L499.3 220.88L506.65 220.88L506.65 198.8L499.3 198.8L499.3 206.16L491.96 206.16L491.96 213.52L484.62 213.52L484.62 206.16ZM499.3 323.96L491.96 323.96L491.96 316.6L484.62 316.6L484.62 309.24L462.59 309.24L462.59 331.33L499.3 331.33ZM440.56 346.05L447.9 346.05L447.9 338.69L440.56 338.69L440.56 331.33L433.22 331.33L433.22 338.69L425.88 338.69L425.88 353.42L440.56 353.42ZM469.93 463.86L484.62 463.86L484.62 449.13L469.93 449.13ZM558.04 7.36L558.04 0L536.02 0L536.02 7.36ZM506.65 29.45L506.65 22.09L521.33 22.09L521.33 14.73L513.99 14.73L513.99 7.36L484.62 7.36L484.62 14.73L477.27 14.73L477.27 22.09L491.96 22.09L491.96 29.45ZM528.67 29.45L521.33 29.45L521.33 36.81L528.67 36.81ZM506.65 80.99L513.99 80.99L513.99 88.35L521.33 88.35L521.33 80.99L528.67 80.99L528.67 73.63L521.33 73.63L521.33 66.27L513.99 66.27L513.99 73.63L506.65 73.63ZM580.07 80.99L587.41 80.99L587.41 73.63L594.76 73.63L594.76 66.27L572.73 66.27L572.73 73.63L580.07 73.63ZM513.99 88.35L506.65 88.35L506.65 95.72L513.99 95.72ZM594.76 103.08L587.41 103.08L587.41 110.44L602.1 110.44L602.1 88.35L594.76 88.35ZM565.39 125.17L580.07 125.17L580.07 117.81L587.41 117.81L587.41 110.44L572.73 110.44L572.73 117.81L565.39 117.81ZM543.36 110.44L536.02 110.44L536.02 117.81L543.36 117.81ZM580.07 125.17L580.07 132.53L587.41 132.53L587.41 125.17ZM565.39 154.62L580.07 154.62L580.07 147.26L536.02 147.26L536.02 154.62L550.7 154.62L550.7 161.98L565.39 161.98ZM550.7 191.43L558.04 191.43L558.04 184.07L572.73 184.07L572.73 176.71L565.39 176.71L565.39 169.34L558.04 169.34L558.04 176.71L550.7 176.71L550.7 169.34L543.36 169.34L543.36 176.71L536.02 176.71L536.02 184.07L550.7 184.07ZM513.99 176.71L506.65 176.71L506.65 184.07L513.99 184.07ZM528.67 220.88L543.36 220.88L543.36 228.25L528.67 228.25L528.67 235.61L513.99 235.61L513.99 250.34L543.36 250.34L543.36 257.7L550.7 257.7L550.7 250.34L558.04 250.34L558.04 235.61L550.7 235.61L550.7 228.25L565.39 228.25L565.39 235.61L572.73 235.61L572.73 228.25L580.07 228.25L580.07 213.52L587.41 213.52L587.41 206.16L594.76 206.16L594.76 198.8L580.07 198.8L580.07 206.16L572.73 206.16L572.73 198.8L536.02 198.8L536.02 191.43L528.67 191.43L528.67 198.8L521.33 198.8L521.33 213.52L528.67 213.52ZM491.96 500.67L484.62 500.67L484.62 508.03L491.96 508.03Z"/>
<path fill="#b9cfe4" fill-rule="evenodd" d="M73.43 441.77L66.08 441.77L66.08 434.41L58.74 434.41L58.74 441.77L36.71 441.77L36.71 463.86L44.06 463.86L44.06 471.22L14.69 471.22L14.69 463.86L0 463.86L0 485.95L7.34 485.95L7.34 493.31L22.03 493.31L22.03 478.58L29.37 478.58L29.37 485.95L36.71 485.95L36.71 493.31L29.37 493.31L29.37 508.03L22.03 508.03L22.03 515.4L14.69 515.4L14.69 508.03L0 508.03L0 530.12L44.06 530.12L44.06 544.85L58.74 544.85L58.74 552.21L117.48 552.21L117.48 544.85L124.83 544.85L124.83 530.12L132.17 530.12L132.17 522.76L198.25 522.76L198.25 530.12L264.34 530.12L264.34 522.76L308.39 522.76L308.39 530.12L315.74 530.12L315.74 522.76L337.76 522.76L337.76 508.03L345.11 508.03L345.11 500.67L337.76 500.67L337.76 493.31L330.42 493.31L330.42 500.67L315.74 500.67L315.74 508.03L308.39 508.03L308.39 515.4L301.05 515.4L301.05 508.03L293.71 508.03L293.71 515.4L286.36 515.4L286.36 500.67L256.99 500.67L256.99 493.31L249.65 493.31L249.65 500.67L234.97 500.67L234.97 485.95L212.94 485.95L212.94 493.31L227.62 493.31L227.62 500.67L220.28 500.67L220.28 508.03L198.25 508.03L198.25 500.67L190.91 500.67L190.91 493.31L183.57 493.31L183.57 485.95L176.22 485.95L176.22 493.31L168.88 493.31L168.88 485.95L161.54 485.95L161.54 508.03L146.85 508.03L146.85 515.4L110.14 515.4L110.14 522.76L102.8 522.76L102.8 530.12L95.45 530.12L95.45 493.31L88.11 493.31L88.11 485.95L95.45 485.95L95.45 478.58L110.14 478.58L110.14 471.22L95.45 471.22L95.45 456.49L110.14 456.49L110.14 441.77L102.8 441.77L102.8 419.68L110.14 419.68L110.14 427.04L117.48 427.04L117.48 412.32L80.77 412.32L80.77 419.68L73.43 419.68ZM330.42 508.03L330.42 515.4L315.74 515.4L315.74 508.03ZM80.77 485.95L80.77 478.58L88.11 478.58L88.11 485.95ZM264.34 515.4L264.34 508.03L279.02 508.03L279.02 515.4ZM242.31 515.4L242.31 508.03L249.65 508.03L249.65 515.4ZM66.08 508.03L58.74 508.03L58.74 500.67L66.08 500.67ZM73.43 508.03L73.43 500.67L80.77 500.67L80.77 522.76L73.43 522.76L73.43 515.4L66.08 515.4L66.08 508.03ZM66.08 456.49L73.43 456.49L73.43 463.86L58.74 463.86L58.74 449.13L66.08 449.13ZM58.74 478.58L66.08 478.58L66.08 485.95L58.74 485.95ZM80.77 544.85L73.43 544.85L73.43 530.12L80.77 530.12ZM95.45 544.85L95.45 537.49L102.8 537.49L102.8 544.85ZM22.03 544.85L22.03 537.49L14.69 537.49L14.69 544.85ZM44.06 574.3L44.06 566.94L22.03 566.94L22.03 574.3ZM227.62 250.34L227.62 265.06L212.94 265.06L212.94 272.42L205.6 272.42L205.6 265.06L198.25 265.06L198.25 279.79L183.57 279.79L183.57 287.15L190.91 287.15L190.91 294.51L205.6 294.51L205.6 287.15L212.94 287.15L212.94 279.79L227.62 279.79L227.62 287.15L242.31 287.15L242.31 272.42L249.65 272.42L249.65 265.06L242.31 265.06L242.31 250.34ZM176.22 287.15L168.88 287.15L168.88 294.51L176.22 294.51ZM227.62 287.15L212.94 287.15L212.94 294.51L227.62 294.51ZM132.17 301.88L132.17 294.51L110.14 294.51L110.14 301.88ZM220.28 309.24L220.28 323.96L227.62 323.96L227.62 309.24ZM212.94 316.6L212.94 309.24L205.6 309.24L205.6 316.6ZM198.25 316.6L190.91 316.6L190.91 323.96L198.25 323.96ZM168.88 331.33L168.88 323.96L154.2 323.96L154.2 331.33ZM117.48 353.42L161.54 353.42L161.54 346.05L154.2 346.05L154.2 338.69L146.85 338.69L146.85 323.96L139.51 323.96L139.51 331.33L132.17 331.33L132.17 346.05L117.48 346.05ZM168.88 368.14L161.54 368.14L161.54 375.5L168.88 375.5ZM124.83 397.59L132.17 397.59L132.17 382.87L110.14 382.87L110.14 404.96L124.83 404.96ZM139.51 478.58L139.51 471.22L124.83 471.22L124.83 478.58ZM139.51 478.58L139.51 485.95L161.54 485.95L161.54 478.58ZM205.6 500.67L205.6 493.31L198.25 493.31L198.25 500.67ZM205.6 574.3L205.6 566.94L198.25 566.94L198.25 574.3ZM352.45 51.54L359.79 51.54L359.79 36.81L337.76 36.81L337.76 51.54L330.42 51.54L330.42 58.9L352.45 58.9ZM323.08 176.71L330.42 176.71L330.42 161.98L308.39 161.98L308.39 176.71L315.74 176.71L315.74 184.07L323.08 184.07ZM330.42 184.07L323.08 184.07L323.08 191.43L330.42 191.43ZM315.74 184.07L308.39 184.07L308.39 191.43L315.74 191.43ZM264.34 220.88L301.05 220.88L301.05 206.16L293.71 206.16L293.71 198.8L279.02 198.8L279.02 206.16L271.68 206.16L271.68 213.52L264.34 213.52ZM367.13 449.13L374.48 449.13L374.48 456.49L396.5 456.49L396.5 463.86L403.85 463.86L403.85 478.58L411.19 478.58L411.19 463.86L425.88 463.86L425.88 456.49L418.53 456.49L418.53 449.13L411.19 449.13L411.19 441.77L403.85 441.77L403.85 434.41L411.19 434.41L411.19 427.04L403.85 427.04L403.85 419.68L396.5 419.68L396.5 427.04L381.82 427.04L381.82 434.41L367.13 434.41ZM389.16 441.77L396.5 441.77L396.5 449.13L389.16 449.13ZM345.11 449.13L345.11 441.77L301.05 441.77L301.05 449.13ZM374.48 471.22L367.13 471.22L367.13 478.58L359.79 478.58L359.79 485.95L367.13 485.95L367.13 500.67L359.79 500.67L359.79 508.03L367.13 508.03L367.13 515.4L359.79 515.4L359.79 522.76L367.13 522.76L367.13 530.12L374.48 530.12L374.48 522.76L381.82 522.76L381.82 515.4L374.48 515.4L374.48 508.03L411.19 508.03L411.19 500.67L374.48 500.67L374.48 485.95L389.16 485.95L389.16 478.58L374.48 478.58ZM345.11 471.22L337.76 471.22L337.76 478.58L330.42 478.58L330.42 485.95L337.76 485.95L337.76 493.31L345.11 493.31L345.11 485.95L352.45 485.95L352.45 478.58L345.11 478.58ZM323.08 485.95L323.08 478.58L315.74 478.58L315.74 485.95ZM301.05 552.21L301.05 544.85L286.36 544.85L286.36 552.21ZM440.56 51.54L440.56 58.9L447.9 58.9L447.9 51.54L455.25 51.54L455.25 44.18L447.9 44.18L447.9 36.81L425.88 36.81L425.88 51.54ZM381.82 44.18L374.48 44.18L374.48 51.54L381.82 51.54ZM477.27 95.72L477.27 88.35L491.96 88.35L491.96 80.99L477.27 80.99L477.27 73.63L469.93 73.63L469.93 80.99L447.9 80.99L447.9 88.35L440.56 88.35L440.56 103.08L469.93 103.08L469.93 95.72ZM425.88 125.17L425.88 147.26L440.56 147.26L440.56 154.62L462.59 154.62L462.59 147.26L455.25 147.26L455.25 139.89L447.9 139.89L447.9 110.44L440.56 110.44L440.56 103.08L425.88 103.08L425.88 110.44L418.53 110.44L418.53 117.81L433.22 117.81L433.22 125.17ZM440.56 125.17L440.56 132.53L433.22 132.53L433.22 125.17ZM425.88 198.8L425.88 191.43L418.53 191.43L418.53 198.8ZM447.9 220.88L447.9 206.16L425.88 206.16L425.88 213.52L411.19 213.52L411.19 220.88ZM403.85 206.16L396.5 206.16L396.5 213.52L403.85 213.52ZM389.16 235.61L381.82 235.61L381.82 242.97L389.16 242.97ZM411.19 235.61L403.85 235.61L403.85 242.97L411.19 242.97ZM440.56 346.05L440.56 338.69L425.88 338.69L425.88 346.05ZM425.88 419.68L425.88 427.04L440.56 427.04L440.56 419.68L447.9 419.68L447.9 412.32L462.59 412.32L462.59 404.96L447.9 404.96L447.9 397.59L433.22 397.59L433.22 404.96L403.85 404.96L403.85 412.32L433.22 412.32L433.22 419.68ZM381.82 419.68L374.48 419.68L374.48 427.04L381.82 427.04ZM381.82 463.86L374.48 463.86L374.48 471.22L381.82 471.22ZM433.22 471.22L418.53 471.22L418.53 478.58L433.22 478.58ZM403.85 522.76L403.85 515.4L396.5 515.4L396.5 522.76ZM550.7 0L543.36 0L543.36 7.36L550.7 7.36ZM477.27 7.36L469.93 7.36L469.93 14.73L477.27 14.73ZM491.96 29.45L499.3 29.45L499.3 22.09L521.33 22.09L521.33 14.73L499.3 14.73L499.3 7.36L491.96 7.36L491.96 14.73L484.62 14.73L484.62 22.09L491.96 22.09ZM469.93 14.73L462.59 14.73L462.59 22.09L469.93 22.09ZM587.41 66.27L580.07 66.27L580.07 73.63L587.41 73.63ZM521.33 73.63L513.99 73.63L513.99 80.99L521.33 80.99ZM469.93 110.44L469.93 117.81L484.62 117.81L484.62 110.44ZM469.93 117.81L455.25 117.81L455.25 125.17L462.59 125.17L462.59 132.53L469.93 132.53ZM565.39 147.26L550.7 147.26L550.7 154.62L565.39 154.62ZM565.39 176.71L543.36 176.71L543.36 184.07L565.39 184.07ZM587.41 206.16L587.41 198.8L580.07 198.8L580.07 206.16ZM536.02 198.8L528.67 198.8L528.67 213.52L536.02 213.52ZM462.59 206.16L455.25 206.16L455.25 213.52L462.59 213.52ZM558.04 213.52L558.04 228.25L572.73 228.25L572.73 206.16L543.36 206.16L543.36 213.52ZM506.65 206.16L499.3 206.16L499.3 213.52L506.65 213.52ZM499.3 220.88L499.3 213.52L491.96 213.52L491.96 220.88ZM484.62 213.52L477.27 213.52L477.27 220.88L484.62 220.88ZM536.02 250.34L536.02 242.97L543.36 242.97L543.36 250.34L550.7 250.34L550.7 235.61L536.02 235.61L536.02 228.25L528.67 228.25L528.67 235.61L521.33 235.61L521.33 242.97L528.67 242.97L528.67 250.34ZM491.96 323.96L484.62 323.96L484.62 316.6L469.93 316.6L469.93 331.33L491.96 331.33ZM484.62 456.49L469.93 456.49L469.93 463.86L484.62 463.86ZM491.96 500.67L484.62 500.67L484.62 508.03L491.96 508.03Z"/>
<path fill="#a1bedb" fill-rule="evenodd" d="M80.77 441.77L102.8 441.77L102.8 434.41L95.45 434.41L95.45 419.68L102.8 419.68L102.8 412.32L80.77 412.32ZM110.14 449.13L110.14 441.77L102.8 441.77L102.8 449.13ZM58.74 449.13L66.08 449.13L66.08 441.77L51.4 441.77L51.4 449.13L44.06 449.13L44.06 463.86L58.74 463.86ZM66.08 463.86L66.08 471.22L7.34 471.22L7.34 478.58L0 478.58L0 485.95L22.03 485.95L22.03 478.58L29.37 478.58L29.37 485.95L36.71 485.95L36.71 493.31L29.37 493.31L29.37 508.03L22.03 508.03L22.03 515.4L7.34 515.4L7.34 522.76L36.71 522.76L36.71 530.12L51.4 530.12L51.4 537.49L73.43 537.49L73.43 522.76L66.08 522.76L66.08 515.4L58.74 515.4L58.74 500.67L51.4 500.67L51.4 493.31L66.08 493.31L66.08 508.03L73.43 508.03L73.43 500.67L80.77 500.67L80.77 552.21L95.45 552.21L95.45 537.49L88.11 537.49L88.11 530.12L95.45 530.12L95.45 493.31L80.77 493.31L80.77 485.95L58.74 485.95L58.74 478.58L88.11 478.58L88.11 485.95L95.45 485.95L95.45 463.86L88.11 463.86L88.11 456.49L102.8 456.49L102.8 449.13L66.08 449.13L66.08 456.49L80.77 456.49L80.77 463.86ZM36.71 478.58L44.06 478.58L44.06 485.95L36.71 485.95ZM51.4 508.03L44.06 508.03L44.06 500.67L51.4 500.67ZM7.34 471.22L7.34 463.86L0 463.86L0 471.22ZM7.34 530.12L7.34 522.76L0 522.76L0 530.12ZM117.48 530.12L124.83 530.12L124.83 522.76L117.48 522.76L117.48 515.4L110.14 515.4L110.14 522.76L102.8 522.76L102.8 552.21L110.14 552.21L110.14 544.85L117.48 544.85ZM51.4 544.85L51.4 537.49L44.06 537.49L44.06 544.85ZM44.06 574.3L44.06 566.94L36.71 566.94L36.71 574.3ZM315.74 161.98L308.39 161.98L308.39 176.71L330.42 176.71L330.42 161.98L323.08 161.98L323.08 169.34L315.74 169.34ZM330.42 191.43L330.42 184.07L323.08 184.07L323.08 191.43ZM315.74 191.43L315.74 184.07L308.39 184.07L308.39 191.43ZM286.36 220.88L286.36 213.52L293.71 213.52L293.71 198.8L286.36 198.8L286.36 206.16L271.68 206.16L271.68 213.52L279.02 213.52L279.02 220.88ZM220.28 272.42L198.25 272.42L198.25 279.79L183.57 279.79L183.57 287.15L190.91 287.15L190.91 294.51L205.6 294.51L205.6 279.79L227.62 279.79L227.62 287.15L242.31 287.15L242.31 272.42L249.65 272.42L249.65 265.06L242.31 265.06L242.31 257.7L234.97 257.7L234.97 265.06L220.28 265.06ZM176.22 294.51L176.22 287.15L168.88 287.15L168.88 294.51ZM124.83 301.88L124.83 294.51L110.14 294.51L110.14 301.88ZM198.25 323.96L198.25 316.6L190.91 316.6L190.91 323.96ZM168.88 323.96L154.2 323.96L154.2 331.33L168.88 331.33ZM132.17 338.69L132.17 346.05L117.48 346.05L117.48 353.42L161.54 353.42L161.54 346.05L146.85 346.05L146.85 323.96L139.51 323.96L139.51 338.69ZM168.88 375.5L168.88 368.14L161.54 368.14L161.54 375.5ZM124.83 404.96L124.83 397.59L110.14 397.59L110.14 404.96ZM117.48 419.68L117.48 412.32L110.14 412.32L110.14 419.68ZM323.08 485.95L323.08 478.58L315.74 478.58L315.74 485.95ZM168.88 485.95L161.54 485.95L161.54 500.67L183.57 500.67L183.57 493.31L168.88 493.31ZM183.57 500.67L183.57 508.03L146.85 508.03L146.85 515.4L154.2 515.4L154.2 522.76L198.25 522.76L198.25 530.12L205.6 530.12L205.6 522.76L286.36 522.76L286.36 508.03L279.02 508.03L279.02 515.4L264.34 515.4L264.34 500.67L220.28 500.67L220.28 515.4L198.25 515.4L198.25 500.67ZM234.97 508.03L249.65 508.03L249.65 515.4L234.97 515.4ZM337.76 515.4L293.71 515.4L293.71 522.76L337.76 522.76ZM330.42 51.54L330.42 58.9L352.45 58.9L352.45 51.54L359.79 51.54L359.79 36.81L352.45 36.81L352.45 44.18L345.11 44.18L345.11 36.81L337.76 36.81L337.76 51.54ZM440.56 44.18L440.56 36.81L425.88 36.81L425.88 44.18ZM381.82 51.54L381.82 44.18L374.48 44.18L374.48 51.54ZM433.22 117.81L433.22 125.17L425.88 125.17L425.88 139.89L433.22 139.89L433.22 147.26L447.9 147.26L447.9 117.81L440.56 117.81L440.56 110.44L433.22 110.44L433.22 103.08L425.88 103.08L425.88 117.81ZM440.56 125.17L440.56 132.53L433.22 132.53L433.22 125.17ZM425.88 191.43L418.53 191.43L418.53 198.8L425.88 198.8ZM447.9 213.52L447.9 206.16L425.88 206.16L425.88 213.52ZM403.85 213.52L403.85 206.16L396.5 206.16L396.5 213.52ZM389.16 242.97L389.16 235.61L381.82 235.61L381.82 242.97ZM440.56 338.69L425.88 338.69L425.88 346.05L440.56 346.05ZM403.85 412.32L462.59 412.32L462.59 404.96L440.56 404.96L440.56 397.59L433.22 397.59L433.22 404.96L403.85 404.96ZM381.82 427.04L381.82 419.68L374.48 419.68L374.48 427.04ZM440.56 427.04L440.56 419.68L425.88 419.68L425.88 427.04ZM381.82 441.77L374.48 441.77L374.48 434.41L367.13 434.41L367.13 449.13L374.48 449.13L374.48 456.49L396.5 456.49L396.5 463.86L403.85 463.86L403.85 478.58L411.19 478.58L411.19 463.86L425.88 463.86L425.88 456.49L411.19 456.49L411.19 441.77L396.5 441.77L396.5 449.13L389.16 449.13L389.16 434.41L403.85 434.41L403.85 427.04L381.82 427.04ZM381.82 471.22L381.82 463.86L374.48 463.86L374.48 471.22ZM330.42 485.95L345.11 485.95L345.11 471.22L337.76 471.22L337.76 478.58L330.42 478.58ZM433.22 478.58L433.22 471.22L418.53 471.22L418.53 478.58ZM389.16 485.95L389.16 478.58L367.13 478.58L367.13 485.95ZM411.19 500.67L367.13 500.67L367.13 508.03L411.19 508.03ZM337.76 500.67L315.74 500.67L315.74 508.03L337.76 508.03ZM367.13 515.4L367.13 530.12L374.48 530.12L374.48 515.4ZM403.85 522.76L403.85 515.4L396.5 515.4L396.5 522.76ZM550.7 7.36L550.7 0L543.36 0L543.36 7.36ZM513.99 22.09L513.99 14.73L484.62 14.73L484.62 22.09ZM447.9 51.54L447.9 44.18L440.56 44.18L440.56 51.54ZM587.41 73.63L587.41 66.27L580.07 66.27L580.07 73.63ZM521.33 73.63L513.99 73.63L513.99 80.99L521.33 80.99ZM447.9 95.72L440.56 95.72L440.56 103.08L462.59 103.08L462.59 95.72L469.93 95.72L469.93 88.35L491.96 88.35L491.96 80.99L477.27 80.99L477.27 73.63L469.93 73.63L469.93 80.99L447.9 80.99ZM469.93 117.81L484.62 117.81L484.62 110.44L469.93 110.44ZM462.59 132.53L469.93 132.53L469.93 117.81L455.25 117.81L455.25 125.17L462.59 125.17ZM447.9 147.26L447.9 154.62L462.59 154.62L462.59 147.26ZM565.39 154.62L565.39 147.26L550.7 147.26L550.7 154.62ZM565.39 184.07L565.39 176.71L543.36 176.71L543.36 184.07ZM587.41 206.16L587.41 198.8L580.07 198.8L580.07 206.16ZM536.02 213.52L536.02 198.8L528.67 198.8L528.67 213.52ZM506.65 206.16L499.3 206.16L499.3 213.52L506.65 213.52ZM558.04 213.52L558.04 228.25L572.73 228.25L572.73 206.16L543.36 206.16L543.36 213.52ZM462.59 213.52L462.59 206.16L455.25 206.16L455.25 213.52ZM499.3 213.52L491.96 213.52L491.96 220.88L499.3 220.88ZM484.62 213.52L477.27 213.52L477.27 220.88L484.62 220.88ZM528.67 250.34L536.02 250.34L536.02 242.97L543.36 242.97L543.36 250.34L550.7 250.34L550.7 235.61L536.02 235.61L536.02 228.25L528.67 228.25L528.67 235.61L521.33 235.61L521.33 242.97L528.67 242.97ZM484.62 316.6L469.93 316.6L469.93 331.33L491.96 331.33L491.96 323.96L484.62 323.96ZM484.62 456.49L469.93 456.49L469.93 463.86L484.62 463.86ZM491.96 500.67L484.62 500.67L484.62 508.03L491.96 508.03Z"/>
<path fill="#93a4cd" fill-rule="evenodd" d="M95.45 441.77L95.45 427.04L80.77 427.04L80.77 441.77ZM51.4 449.13L58.74 449.13L58.74 441.77L51.4 441.77ZM73.43 449.13L73.43 456.49L80.77 456.49L80.77 449.13ZM44.06 485.95L36.71 485.95L36.71 500.67L51.4 500.67L51.4 493.31L66.08 493.31L66.08 500.67L80.77 500.67L80.77 485.95L51.4 485.95L51.4 478.58L80.77 478.58L80.77 471.22L88.11 471.22L88.11 478.58L95.45 478.58L95.45 463.86L88.11 463.86L88.11 456.49L80.77 456.49L80.77 463.86L73.43 463.86L73.43 471.22L44.06 471.22ZM0 485.95L14.69 485.95L14.69 478.58L36.71 478.58L36.71 471.22L7.34 471.22L7.34 478.58L0 478.58ZM7.34 522.76L36.71 522.76L36.71 530.12L51.4 530.12L51.4 537.49L66.08 537.49L66.08 530.12L73.43 530.12L73.43 522.76L58.74 522.76L58.74 500.67L51.4 500.67L51.4 508.03L29.37 508.03L29.37 515.4L7.34 515.4ZM95.45 500.67L80.77 500.67L80.77 552.21L95.45 552.21L95.45 544.85L88.11 544.85L88.11 530.12L95.45 530.12ZM7.34 530.12L7.34 522.76L0 522.76L0 530.12ZM36.71 574.3L44.06 574.3L44.06 566.94L36.71 566.94ZM205.6 279.79L227.62 279.79L227.62 287.15L234.97 287.15L234.97 279.79L242.31 279.79L242.31 265.06L220.28 265.06L220.28 272.42L198.25 272.42L198.25 287.15L205.6 287.15ZM110.14 301.88L117.48 301.88L117.48 294.51L110.14 294.51ZM139.51 346.05L146.85 346.05L146.85 338.69L132.17 338.69L132.17 353.42L139.51 353.42ZM161.54 375.5L168.88 375.5L168.88 368.14L161.54 368.14ZM117.48 404.96L117.48 397.59L110.14 397.59L110.14 404.96ZM102.8 419.68L102.8 412.32L95.45 412.32L95.45 419.68ZM183.57 500.67L183.57 493.31L168.88 493.31L168.88 500.67ZM190.91 515.4L190.91 522.76L256.99 522.76L256.99 515.4L234.97 515.4L234.97 500.67L220.28 500.67L220.28 515.4ZM190.91 508.03L190.91 500.67L183.57 500.67L183.57 508.03ZM168.88 522.76L168.88 515.4L176.22 515.4L176.22 508.03L154.2 508.03L154.2 522.76ZM102.8 552.21L110.14 552.21L110.14 544.85L117.48 544.85L117.48 537.49L110.14 537.49L110.14 530.12L124.83 530.12L124.83 522.76L117.48 522.76L117.48 515.4L110.14 515.4L110.14 522.76L102.8 522.76ZM352.45 51.54L352.45 44.18L337.76 44.18L337.76 58.9L345.11 58.9L345.11 51.54ZM330.42 176.71L330.42 169.34L308.39 169.34L308.39 176.71ZM330.42 191.43L330.42 184.07L323.08 184.07L323.08 191.43ZM293.71 213.52L293.71 198.8L286.36 198.8L286.36 206.16L271.68 206.16L271.68 213.52ZM433.22 427.04L433.22 419.68L425.88 419.68L425.88 427.04ZM403.85 434.41L403.85 427.04L396.5 427.04L396.5 434.41ZM389.16 434.41L381.82 434.41L381.82 441.77L374.48 441.77L374.48 434.41L367.13 434.41L367.13 449.13L389.16 449.13ZM418.53 456.49L411.19 456.49L411.19 449.13L396.5 449.13L396.5 463.86L418.53 463.86ZM345.11 485.95L345.11 478.58L337.76 478.58L337.76 485.95ZM367.13 485.95L381.82 485.95L381.82 478.58L367.13 478.58ZM264.34 508.03L264.34 500.67L242.31 500.67L242.31 508.03ZM374.48 508.03L374.48 500.67L367.13 500.67L367.13 508.03ZM330.42 508.03L337.76 508.03L337.76 500.67L330.42 500.67ZM315.74 522.76L315.74 515.4L308.39 515.4L308.39 522.76ZM374.48 522.76L374.48 515.4L367.13 515.4L367.13 522.76ZM279.02 522.76L286.36 522.76L286.36 515.4L279.02 515.4ZM301.05 522.76L301.05 515.4L293.71 515.4L293.71 522.76ZM550.7 7.36L550.7 0L543.36 0L543.36 7.36ZM484.62 22.09L506.65 22.09L506.65 14.73L484.62 14.73ZM447.9 51.54L447.9 44.18L440.56 44.18L440.56 51.54ZM521.33 80.99L521.33 73.63L513.99 73.63L513.99 80.99ZM484.62 80.99L477.27 80.99L477.27 73.63L469.93 73.63L469.93 88.35L484.62 88.35ZM469.93 95.72L469.93 88.35L447.9 88.35L447.9 95.72ZM425.88 117.81L440.56 117.81L440.56 110.44L425.88 110.44ZM425.88 139.89L433.22 139.89L433.22 125.17L425.88 125.17ZM440.56 147.26L447.9 147.26L447.9 125.17L440.56 125.17ZM462.59 132.53L469.93 132.53L469.93 125.17L462.59 125.17ZM565.39 184.07L565.39 176.71L558.04 176.71L558.04 184.07ZM550.7 213.52L550.7 206.16L543.36 206.16L543.36 213.52ZM572.73 220.88L572.73 206.16L565.39 206.16L565.39 213.52L558.04 213.52L558.04 220.88ZM499.3 220.88L499.3 213.52L491.96 213.52L491.96 220.88ZM528.67 242.97L536.02 242.97L536.02 235.61L528.67 235.61ZM491.96 331.33L491.96 323.96L477.27 323.96L477.27 331.33ZM447.9 412.32L447.9 404.96L433.22 404.96L433.22 412.32Z"/>
<path fill="#8c86be" fill-rule="evenodd" d="M110.14 301.88L117.48 301.88L117.48 294.51L110.14 294.51ZM88.11 434.41L88.11 427.04L80.77 427.04L80.77 441.77L95.45 441.77L95.45 434.41ZM73.43 456.49L80.77 456.49L80.77 449.13L73.43 449.13ZM14.69 471.22L7.34 471.22L7.34 478.58L0 478.58L0 485.95L14.69 485.95ZM44.06 485.95L36.71 485.95L36.71 493.31L58.74 493.31L58.74 485.95L51.4 485.95L51.4 471.22L44.06 471.22ZM66.08 478.58L80.77 478.58L80.77 471.22L66.08 471.22ZM73.43 485.95L66.08 485.95L66.08 500.67L73.43 500.67ZM44.06 530.12L51.4 530.12L51.4 537.49L66.08 537.49L66.08 530.12L73.43 530.12L73.43 522.76L58.74 522.76L58.74 515.4L51.4 515.4L51.4 508.03L29.37 508.03L29.37 515.4L22.03 515.4L22.03 522.76L44.06 522.76ZM7.34 522.76L14.69 522.76L14.69 515.4L7.34 515.4ZM117.48 530.12L117.48 522.76L110.14 522.76L110.14 530.12ZM80.77 537.49L88.11 537.49L88.11 530.12L80.77 530.12ZM110.14 552.21L110.14 544.85L117.48 544.85L117.48 537.49L110.14 537.49L110.14 530.12L102.8 530.12L102.8 552.21ZM80.77 552.21L88.11 552.21L88.11 544.85L80.77 544.85ZM345.11 51.54L352.45 51.54L352.45 44.18L345.11 44.18ZM315.74 176.71L323.08 176.71L323.08 169.34L315.74 169.34ZM279.02 213.52L293.71 213.52L293.71 206.16L279.02 206.16ZM234.97 272.42L242.31 272.42L242.31 265.06L220.28 265.06L220.28 272.42L227.62 272.42L227.62 279.79L234.97 279.79ZM198.25 287.15L205.6 287.15L205.6 272.42L198.25 272.42ZM146.85 346.05L146.85 338.69L132.17 338.69L132.17 353.42L139.51 353.42L139.51 346.05ZM374.48 485.95L374.48 478.58L367.13 478.58L367.13 485.95ZM345.11 485.95L345.11 478.58L337.76 478.58L337.76 485.95ZM176.22 500.67L183.57 500.67L183.57 493.31L176.22 493.31ZM220.28 508.03L234.97 508.03L234.97 500.67L220.28 500.67ZM367.13 508.03L374.48 508.03L374.48 500.67L367.13 500.67ZM242.31 508.03L264.34 508.03L264.34 500.67L242.31 500.67ZM330.42 508.03L337.76 508.03L337.76 500.67L330.42 500.67ZM154.2 515.4L176.22 515.4L176.22 508.03L154.2 508.03ZM367.13 522.76L374.48 522.76L374.48 515.4L367.13 515.4ZM308.39 522.76L315.74 522.76L315.74 515.4L308.39 515.4ZM293.71 522.76L301.05 522.76L301.05 515.4L293.71 515.4ZM249.65 522.76L256.99 522.76L256.99 515.4L249.65 515.4ZM234.97 522.76L242.31 522.76L242.31 515.4L234.97 515.4ZM198.25 522.76L227.62 522.76L227.62 515.4L198.25 515.4ZM543.36 7.36L550.7 7.36L550.7 0L543.36 0ZM491.96 22.09L499.3 22.09L499.3 14.73L491.96 14.73ZM440.56 51.54L447.9 51.54L447.9 44.18L440.56 44.18ZM477.27 80.99L477.27 73.63L469.93 73.63L469.93 88.35L484.62 88.35L484.62 80.99ZM447.9 95.72L455.25 95.72L455.25 88.35L447.9 88.35ZM462.59 95.72L469.93 95.72L469.93 88.35L462.59 88.35ZM433.22 117.81L440.56 117.81L440.56 110.44L433.22 110.44ZM425.88 139.89L433.22 139.89L433.22 132.53L425.88 132.53ZM440.56 147.26L447.9 147.26L447.9 139.89L440.56 139.89ZM558.04 184.07L565.39 184.07L565.39 176.71L558.04 176.71ZM565.39 213.52L558.04 213.52L558.04 220.88L572.73 220.88L572.73 206.16L565.39 206.16ZM550.7 213.52L550.7 206.16L543.36 206.16L543.36 213.52ZM499.3 220.88L499.3 213.52L491.96 213.52L491.96 220.88ZM528.67 242.97L536.02 242.97L536.02 235.61L528.67 235.61ZM477.27 331.33L484.62 331.33L484.62 323.96L477.27 323.96ZM433.22 412.32L447.9 412.32L447.9 404.96L433.22 404.96ZM396.5 434.41L403.85 434.41L403.85 427.04L396.5 427.04ZM381.82 441.77L389.16 441.77L389.16 434.41L381.82 434.41ZM374.48 449.13L381.82 449.13L381.82 441.77L374.48 441.77ZM411.19 449.13L403.85 449.13L403.85 463.86L411.19 463.86Z"/>
<path fill="#8c67af" fill-rule="evenodd" d="M110.14 294.51L110.14 301.88L117.48 301.88L117.48 294.51ZM139.51 353.42L139.51 346.05L146.85 346.05L146.85 338.69L132.17 338.69L132.17 353.42ZM80.77 434.41L88.11 434.41L88.11 427.04L80.77 427.04ZM73.43 449.13L73.43 456.49L80.77 456.49L80.77 449.13ZM7.34 485.95L14.69 485.95L14.69 471.22L7.34 471.22ZM66.08 478.58L80.77 478.58L80.77 471.22L66.08 471.22ZM44.06 493.31L51.4 493.31L51.4 478.58L44.06 478.58ZM66.08 493.31L73.43 493.31L73.43 485.95L66.08 485.95ZM44.06 515.4L51.4 515.4L51.4 508.03L29.37 508.03L29.37 515.4L22.03 515.4L22.03 522.76L44.06 522.76ZM7.34 522.76L14.69 522.76L14.69 515.4L7.34 515.4ZM51.4 530.12L51.4 537.49L66.08 537.49L66.08 530.12L73.43 530.12L73.43 522.76L44.06 522.76L44.06 530.12ZM110.14 530.12L117.48 530.12L117.48 522.76L110.14 522.76ZM110.14 544.85L117.48 544.85L117.48 537.49L110.14 537.49ZM80.77 552.21L88.11 552.21L88.11 544.85L80.77 544.85ZM102.8 552.21L110.14 552.21L110.14 544.85L102.8 544.85ZM345.11 51.54L352.45 51.54L352.45 44.18L345.11 44.18ZM315.74 169.34L315.74 176.71L323.08 176.71L323.08 169.34ZM279.02 213.52L293.71 213.52L293.71 206.16L279.02 206.16ZM234.97 272.42L242.31 272.42L242.31 265.06L220.28 265.06L220.28 272.42L227.62 272.42L227.62 279.79L234.97 279.79ZM205.6 272.42L198.25 272.42L198.25 287.15L205.6 287.15ZM367.13 478.58L367.13 485.95L374.48 485.95L374.48 478.58ZM337.76 485.95L345.11 485.95L345.11 478.58L337.76 478.58ZM176.22 500.67L183.57 500.67L183.57 493.31L176.22 493.31ZM249.65 508.03L256.99 508.03L256.99 500.67L249.65 500.67ZM330.42 508.03L337.76 508.03L337.76 500.67L330.42 500.67ZM227.62 508.03L234.97 508.03L234.97 500.67L227.62 500.67ZM293.71 522.76L301.05 522.76L301.05 515.4L293.71 515.4ZM308.39 515.4L308.39 522.76L315.74 522.76L315.74 515.4ZM249.65 522.76L256.99 522.76L256.99 515.4L249.65 515.4ZM234.97 522.76L242.31 522.76L242.31 515.4L234.97 515.4ZM198.25 522.76L227.62 522.76L227.62 515.4L198.25 515.4ZM491.96 22.09L499.3 22.09L499.3 14.73L491.96 14.73ZM440.56 51.54L447.9 51.54L447.9 44.18L440.56 44.18ZM462.59 95.72L469.93 95.72L469.93 88.35L462.59 88.35ZM447.9 88.35L447.9 95.72L455.25 95.72L455.25 88.35ZM433.22 117.81L440.56 117.81L440.56 110.44L433.22 110.44ZM425.88 139.89L433.22 139.89L433.22 132.53L425.88 132.53ZM440.56 147.26L447.9 147.26L447.9 139.89L440.56 139.89ZM528.67 242.97L536.02 242.97L536.02 235.61L528.67 235.61ZM477.27 331.33L484.62 331.33L484.62 323.96L477.27 323.96ZM433.22 412.32L447.9 412.32L447.9 404.96L433.22 404.96ZM396.5 427.04L396.5 434.41L403.85 434.41L403.85 427.04ZM389.16 434.41L381.82 434.41L381.82 441.77L389.16 441.77ZM374.48 449.13L381.82 449.13L381.82 441.77L374.48 441.77ZM411.19 449.13L403.85 449.13L403.85 463.86L411.19 463.86ZM367.13 508.03L374.48 508.03L374.48 500.67L367.13 500.67ZM367.13 522.76L374.48 522.76L374.48 515.4L367.13 515.4Z"/>
<path fill="#8949a1" fill-rule="evenodd" d="M234.97 272.42L242.31 272.42L242.31 265.06L227.62 265.06L227.62 279.79L234.97 279.79ZM110.14 294.51L110.14 301.88L117.48 301.88L117.48 294.51ZM132.17 346.05L132.17 353.42L139.51 353.42L139.51 346.05ZM73.43 471.22L66.08 471.22L66.08 478.58L73.43 478.58ZM44.06 485.95L44.06 493.31L51.4 493.31L51.4 485.95ZM36.71 508.03L36.71 515.4L29.37 515.4L29.37 522.76L44.06 522.76L44.06 515.4L51.4 515.4L51.4 508.03ZM198.25 515.4L198.25 522.76L220.28 522.76L220.28 515.4ZM51.4 522.76L51.4 537.49L58.74 537.49L58.74 530.12L73.43 530.12L73.43 522.76ZM117.48 522.76L110.14 522.76L110.14 530.12L117.48 530.12ZM110.14 537.49L110.14 544.85L117.48 544.85L117.48 537.49ZM110.14 544.85L102.8 544.85L102.8 552.21L110.14 552.21ZM491.96 14.73L491.96 22.09L499.3 22.09L499.3 14.73ZM440.56 44.18L440.56 51.54L447.9 51.54L447.9 44.18ZM455.25 88.35L447.9 88.35L447.9 95.72L455.25 95.72ZM425.88 132.53L425.88 139.89L433.22 139.89L433.22 132.53ZM279.02 206.16L279.02 213.52L293.71 213.52L293.71 206.16ZM433.22 404.96L433.22 412.32L440.56 412.32L440.56 404.96ZM374.48 441.77L374.48 449.13L381.82 449.13L381.82 441.77ZM403.85 456.49L403.85 463.86L411.19 463.86L411.19 456.49ZM249.65 500.67L249.65 508.03L256.99 508.03L256.99 500.67ZM330.42 500.67L330.42 508.03L337.76 508.03L337.76 500.67ZM234.97 515.4L234.97 522.76L242.31 522.76L242.31 515.4Z"/>
<path fill="#84268b" fill-rule="evenodd" d="M73.43 478.58L73.43 471.22L66.08 471.22L66.08 478.58ZM51.4 485.95L44.06 485.95L44.06 493.31L51.4 493.31ZM44.06 515.4L29.37 515.4L29.37 522.76L44.06 522.76ZM205.6 515.4L198.25 515.4L198.25 522.76L205.6 522.76ZM220.28 515.4L212.94 515.4L212.94 522.76L220.28 522.76ZM51.4 537.49L58.74 537.49L58.74 530.12L73.43 530.12L73.43 522.76L51.4 522.76ZM286.36 213.52L286.36 206.16L279.02 206.16L279.02 213.52ZM234.97 272.42L242.31 272.42L242.31 265.06L234.97 265.06ZM234.97 272.42L227.62 272.42L227.62 279.79L234.97 279.79ZM440.56 404.96L433.22 404.96L433.22 412.32L440.56 412.32ZM381.82 441.77L374.48 441.77L374.48 449.13L381.82 449.13ZM411.19 456.49L403.85 456.49L403.85 463.86L411.19 463.86ZM256.99 500.67L249.65 500.67L249.65 508.03L256.99 508.03Z"/>
<path fill="#730b6f" fill-rule="evenodd" d="M286.36 213.52L286.36 206.16L279.02 206.16L279.02 213.52ZM440.56 412.32L440.56 404.96L433.22 404.96L433.22 412.32ZM411.19 463.86L411.19 456.49L403.85 456.49L403.85 463.86ZM73.43 478.58L73.43 471.22L66.08 471.22L66.08 478.58ZM51.4 493.31L51.4 485.95L44.06 485.95L44.06 493.31ZM36.71 522.76L36.71 515.4L29.37 515.4L29.37 522.76ZM220.28 522.76L220.28 515.4L212.94 515.4L212.94 522.76ZM66.08 530.12L66.08 522.76L51.4 522.76L51.4 530.12Z"/>
<path fill="#4d004b" fill-rule="evenodd" d="M279.02 206.16L279.02 213.52L286.36 213.52L286.36 206.16ZM51.4 522.76L51.4 530.12L66.08 530.12L66.08 522.76Z"/>
<use href="#bd" clip-path="url(#pc)"/>
<rect width="602.1" height="574.3" fill="none" stroke="#000" stroke-width="2.5"/>
<text x="61.45" y="40.15" font-size="41.5">(b)</text>
</g>
<g transform="translate(1285.6,63.85)">
<rect width="602.1" height="574.3" fill="#f7fcfd"/>
<path fill="#e6f0f6" fill-rule="evenodd" d="M220.28 257.7L234.97 257.7L234.97 265.06L227.62 265.06L227.62 272.42L242.31 272.42L242.31 279.79L256.99 279.79L256.99 272.42L264.34 272.42L264.34 265.06L279.02 265.06L279.02 257.7L286.36 257.7L286.36 250.34L293.71 250.34L293.71 272.42L286.36 272.42L286.36 279.79L279.02 279.79L279.02 287.15L271.68 287.15L271.68 301.88L264.34 301.88L264.34 331.33L220.28 331.33L220.28 323.96L205.6 323.96L205.6 331.33L198.25 331.33L198.25 346.05L205.6 346.05L205.6 353.42L190.91 353.42L190.91 368.14L176.22 368.14L176.22 375.5L146.85 375.5L146.85 382.87L132.17 382.87L132.17 390.23L124.83 390.23L124.83 404.96L117.48 404.96L117.48 412.32L110.14 412.32L110.14 419.68L117.48 419.68L117.48 434.41L102.8 434.41L102.8 441.77L110.14 441.77L110.14 449.13L117.48 449.13L117.48 441.77L124.83 441.77L124.83 456.49L117.48 456.49L117.48 463.86L110.14 463.86L110.14 478.58L88.11 478.58L88.11 485.95L80.77 485.95L80.77 493.31L73.43 493.31L73.43 500.67L66.08 500.67L66.08 508.03L58.74 508.03L58.74 515.4L51.4 515.4L51.4 544.85L36.71 544.85L36.71 552.21L44.06 552.21L44.06 566.94L73.43 566.94L73.43 552.21L88.11 552.21L88.11 544.85L80.77 544.85L80.77 537.49L88.11 537.49L88.11 530.12L124.83 530.12L124.83 537.49L102.8 537.49L102.8 552.21L95.45 552.21L95.45 559.57L88.11 559.57L88.11 566.94L110.14 566.94L110.14 552.21L124.83 552.21L124.83 544.85L132.17 544.85L132.17 537.49L139.51 537.49L139.51 530.12L154.2 530.12L154.2 522.76L168.88 522.76L168.88 515.4L176.22 515.4L176.22 500.67L183.57 500.67L183.57 485.95L198.25 485.95L198.25 500.67L205.6 500.67L205.6 493.31L212.94 493.31L212.94 508.03L220.28 508.03L220.28 500.67L227.62 500.67L227.62 493.31L242.31 493.31L242.31 463.86L234.97 463.86L234.97 471.22L205.6 471.22L205.6 463.86L227.62 463.86L227.62 456.49L242.31 456.49L242.31 441.77L256.99 441.77L256.99 434.41L271.68 434.41L271.68 427.04L279.02 427.04L279.02 434.41L286.36 434.41L286.36 441.77L293.71 441.77L293.71 456.49L301.05 456.49L301.05 463.86L323.08 463.86L323.08 471.22L330.42 471.22L330.42 463.86L345.11 463.86L345.11 456.49L352.45 456.49L352.45 463.86L359.79 463.86L359.79 471.22L374.48 471.22L374.48 463.86L367.13 463.86L367.13 456.49L381.82 456.49L381.82 463.86L396.5 463.86L396.5 449.13L352.45 449.13L352.45 441.77L345.11 441.77L345.11 434.41L330.42 434.41L330.42 441.77L301.05 441.77L301.05 419.68L315.74 419.68L315.74 412.32L330.42 412.32L330.42 397.59L352.45 397.59L352.45 375.5L359.79 375.5L359.79 397.59L374.48 397.59L374.48 368.14L359.79 368.14L359.79 353.42L381.82 353.42L381.82 346.05L389.16 346.05L389.16 353.42L396.5 353.42L396.5 338.69L367.13 338.69L367.13 346.05L323.08 346.05L323.08 353.42L315.74 353.42L315.74 368.14L308.39 368.14L308.39 346.05L301.05 346.05L301.05 338.69L293.71 338.69L293.71 323.96L301.05 323.96L301.05 309.24L315.74 309.24L315.74 301.88L323.08 301.88L323.08 294.51L337.76 294.51L337.76 287.15L345.11 287.15L345.11 279.79L352.45 279.79L352.45 272.42L345.11 272.42L345.11 265.06L352.45 265.06L352.45 257.7L359.79 257.7L359.79 250.34L367.13 250.34L367.13 257.7L374.48 257.7L374.48 250.34L381.82 250.34L381.82 242.97L396.5 242.97L396.5 228.25L381.82 228.25L381.82 213.52L403.85 213.52L403.85 198.8L425.88 198.8L425.88 191.43L440.56 191.43L440.56 184.07L447.9 184.07L447.9 176.71L469.93 176.71L469.93 184.07L455.25 184.07L455.25 198.8L447.9 198.8L447.9 206.16L433.22 206.16L433.22 213.52L425.88 213.52L425.88 220.88L418.53 220.88L418.53 228.25L411.19 228.25L411.19 242.97L403.85 242.97L403.85 257.7L411.19 257.7L411.19 279.79L418.53 279.79L418.53 257.7L433.22 257.7L433.22 250.34L440.56 250.34L440.56 265.06L447.9 265.06L447.9 257.7L455.25 257.7L455.25 242.97L440.56 242.97L440.56 235.61L447.9 235.61L447.9 220.88L455.25 220.88L455.25 213.52L469.93 213.52L469.93 206.16L477.27 206.16L477.27 198.8L491.96 198.8L491.96 191.43L499.3 191.43L499.3 184.07L506.65 184.07L506.65 161.98L513.99 161.98L513.99 154.62L521.33 154.62L521.33 147.26L528.67 147.26L528.67 139.89L536.02 139.89L536.02 132.53L558.04 132.53L558.04 117.81L565.39 117.81L565.39 110.44L572.73 110.44L572.73 125.17L565.39 125.17L565.39 139.89L572.73 139.89L572.73 132.53L580.07 132.53L580.07 125.17L587.41 125.17L587.41 147.26L580.07 147.26L580.07 161.98L587.41 161.98L587.41 176.71L580.07 176.71L580.07 169.34L572.73 169.34L572.73 176.71L565.39 176.71L565.39 169.34L558.04 169.34L558.04 184.07L543.36 184.07L543.36 198.8L550.7 198.8L550.7 191.43L558.04 191.43L558.04 198.8L565.39 198.8L565.39 191.43L580.07 191.43L580.07 184.07L602.1 184.07L602.1 117.81L587.41 117.81L587.41 110.44L594.76 110.44L594.76 103.08L602.1 103.08L602.1 80.99L587.41 80.99L587.41 88.35L580.07 88.35L580.07 73.63L565.39 73.63L565.39 66.27L580.07 66.27L580.07 58.9L558.04 58.9L558.04 66.27L543.36 66.27L543.36 73.63L528.67 73.63L528.67 80.99L499.3 80.99L499.3 88.35L484.62 88.35L484.62 103.08L469.93 103.08L469.93 110.44L462.59 110.44L462.59 117.81L455.25 117.81L455.25 110.44L440.56 110.44L440.56 117.81L418.53 117.81L418.53 125.17L403.85 125.17L403.85 132.53L389.16 132.53L389.16 139.89L396.5 139.89L396.5 147.26L389.16 147.26L389.16 161.98L367.13 161.98L367.13 169.34L352.45 169.34L352.45 176.71L337.76 176.71L337.76 184.07L330.42 184.07L330.42 191.43L301.05 191.43L301.05 184.07L293.71 184.07L293.71 206.16L286.36 206.16L286.36 213.52L271.68 213.52L271.68 220.88L249.65 220.88L249.65 213.52L234.97 213.52L234.97 220.88L227.62 220.88L227.62 235.61L220.28 235.61L220.28 242.97L212.94 242.97L212.94 257.7L205.6 257.7L205.6 265.06L220.28 265.06ZM293.71 242.97L301.05 242.97L301.05 250.34L293.71 250.34ZM293.71 346.05L279.02 346.05L279.02 338.69L293.71 338.69ZM565.39 80.99L558.04 80.99L558.04 73.63L565.39 73.63ZM558.04 88.35L550.7 88.35L550.7 80.99L558.04 80.99ZM279.02 382.87L279.02 390.23L271.68 390.23L271.68 382.87ZM234.97 404.96L242.31 404.96L242.31 412.32L249.65 412.32L249.65 419.68L242.31 419.68L242.31 427.04L234.97 427.04ZM205.6 412.32L198.25 412.32L198.25 404.96L212.94 404.96L212.94 412.32L220.28 412.32L220.28 419.68L205.6 419.68ZM146.85 397.59L161.54 397.59L161.54 404.96L146.85 404.96ZM146.85 427.04L139.51 427.04L139.51 404.96L146.85 404.96ZM190.91 471.22L183.57 471.22L183.57 463.86L190.91 463.86ZM146.85 515.4L139.51 515.4L139.51 508.03L146.85 508.03ZM345.11 382.87L345.11 390.23L337.76 390.23L337.76 382.87ZM491.96 139.89L499.3 139.89L499.3 132.53L506.65 132.53L506.65 139.89L513.99 139.89L513.99 147.26L506.65 147.26L506.65 154.62L491.96 154.62ZM190.91 323.96L205.6 323.96L205.6 316.6L220.28 316.6L220.28 309.24L227.62 309.24L227.62 301.88L234.97 301.88L234.97 287.15L242.31 287.15L242.31 279.79L220.28 279.79L220.28 287.15L212.94 287.15L212.94 294.51L205.6 294.51L205.6 301.88L198.25 301.88L198.25 309.24L190.91 309.24ZM220.28 508.03L220.28 515.4L227.62 515.4L227.62 522.76L234.97 522.76L234.97 508.03ZM146.85 559.57L132.17 559.57L132.17 566.94L146.85 566.94ZM29.37 566.94L29.37 574.3L44.06 574.3L44.06 566.94ZM293.71 493.31L286.36 493.31L286.36 500.67L293.71 500.67ZM256.99 493.31L256.99 500.67L264.34 500.67L264.34 493.31ZM301.05 500.67L301.05 508.03L308.39 508.03L308.39 500.67ZM330.42 515.4L315.74 515.4L315.74 522.76L330.42 522.76ZM256.99 544.85L264.34 544.85L264.34 530.12L256.99 530.12L256.99 522.76L249.65 522.76L249.65 552.21L256.99 552.21ZM293.71 566.94L286.36 566.94L286.36 574.3L293.71 574.3ZM359.79 0L337.76 0L337.76 14.73L345.11 14.73L345.11 7.36L359.79 7.36ZM330.42 331.33L323.08 331.33L323.08 338.69L345.11 338.69L345.11 331.33L337.76 331.33L337.76 323.96L330.42 323.96ZM403.85 397.59L403.85 404.96L396.5 404.96L396.5 412.32L411.19 412.32L411.19 397.59ZM337.76 412.32L330.42 412.32L330.42 427.04L337.76 427.04ZM396.5 419.68L396.5 427.04L403.85 427.04L403.85 419.68ZM367.13 419.68L359.79 419.68L359.79 427.04L367.13 427.04ZM411.19 427.04L403.85 427.04L403.85 434.41L411.19 434.41ZM418.53 493.31L411.19 493.31L411.19 471.22L396.5 471.22L396.5 485.95L389.16 485.95L389.16 500.67L411.19 500.67L411.19 537.49L425.88 537.49L425.88 530.12L418.53 530.12L418.53 522.76L425.88 522.76L425.88 508.03L433.22 508.03L433.22 500.67L418.53 500.67ZM345.11 544.85L345.11 559.57L359.79 559.57L359.79 566.94L374.48 566.94L374.48 559.57L367.13 559.57L367.13 537.49L359.79 537.49L359.79 508.03L352.45 508.03L352.45 544.85ZM396.5 515.4L389.16 515.4L389.16 522.76L396.5 522.76ZM345.11 566.94L345.11 574.3L359.79 574.3L359.79 566.94ZM411.19 0L403.85 0L403.85 7.36L411.19 7.36ZM433.22 265.06L425.88 265.06L425.88 272.42L433.22 272.42ZM462.59 323.96L462.59 346.05L469.93 346.05L469.93 323.96ZM440.56 346.05L433.22 346.05L433.22 353.42L425.88 353.42L425.88 368.14L440.56 368.14ZM462.59 368.14L462.59 353.42L447.9 353.42L447.9 360.78L455.25 360.78L455.25 368.14ZM447.9 397.59L440.56 397.59L440.56 412.32L455.25 412.32L455.25 404.96L447.9 404.96ZM462.59 397.59L462.59 404.96L469.93 404.96L469.93 397.59ZM440.56 427.04L447.9 427.04L447.9 419.68L440.56 419.68ZM440.56 427.04L433.22 427.04L433.22 434.41L425.88 434.41L425.88 456.49L411.19 456.49L411.19 471.22L425.88 471.22L425.88 463.86L447.9 463.86L447.9 449.13L440.56 449.13ZM403.85 441.77L403.85 449.13L418.53 449.13L418.53 441.77ZM462.59 441.77L455.25 441.77L455.25 449.13L462.59 449.13ZM455.25 471.22L447.9 471.22L447.9 478.58L455.25 478.58ZM447.9 485.95L447.9 500.67L469.93 500.67L469.93 493.31L462.59 493.31L462.59 485.95ZM440.56 552.21L440.56 559.57L447.9 559.57L447.9 552.21ZM558.04 139.89L550.7 139.89L550.7 147.26L558.04 147.26ZM550.7 147.26L543.36 147.26L543.36 154.62L550.7 154.62ZM528.67 191.43L513.99 191.43L513.99 206.16L521.33 206.16L521.33 198.8L528.67 198.8ZM506.65 198.8L499.3 198.8L499.3 206.16L506.65 206.16ZM521.33 220.88L513.99 220.88L513.99 228.25L521.33 228.25ZM543.36 228.25L536.02 228.25L536.02 235.61L543.36 235.61ZM506.65 228.25L477.27 228.25L477.27 242.97L491.96 242.97L491.96 257.7L499.3 257.7L499.3 265.06L506.65 265.06L506.65 250.34L499.3 250.34L499.3 235.61L506.65 235.61ZM477.27 250.34L462.59 250.34L462.59 257.7L477.27 257.7ZM543.36 265.06L543.36 279.79L558.04 279.79L558.04 272.42L550.7 272.42L550.7 250.34L543.36 250.34L543.36 257.7L536.02 257.7L536.02 265.06ZM506.65 287.15L506.65 294.51L521.33 294.51L521.33 287.15ZM513.99 309.24L513.99 323.96L528.67 323.96L528.67 331.33L521.33 331.33L521.33 338.69L528.67 338.69L528.67 346.05L543.36 346.05L543.36 368.14L550.7 368.14L550.7 360.78L565.39 360.78L565.39 353.42L580.07 353.42L580.07 346.05L594.76 346.05L594.76 353.42L602.1 353.42L602.1 316.6L594.76 316.6L594.76 323.96L587.41 323.96L587.41 331.33L572.73 331.33L572.73 346.05L565.39 346.05L565.39 338.69L543.36 338.69L543.36 331.33L558.04 331.33L558.04 323.96L572.73 323.96L572.73 316.6L565.39 316.6L565.39 309.24L594.76 309.24L594.76 301.88L602.1 301.88L602.1 279.79L587.41 279.79L587.41 272.42L565.39 272.42L565.39 287.15L558.04 287.15L558.04 294.51L550.7 294.51L550.7 301.88L543.36 301.88L543.36 294.51L528.67 294.51L528.67 309.24ZM587.41 287.15L587.41 294.51L580.07 294.51L580.07 287.15ZM477.27 331.33L477.27 338.69L484.62 338.69L484.62 346.05L491.96 346.05L491.96 353.42L499.3 353.42L499.3 346.05L506.65 346.05L506.65 338.69L499.3 338.69L499.3 331.33L491.96 331.33L491.96 323.96L499.3 323.96L499.3 316.6L484.62 316.6L484.62 331.33ZM484.62 449.13L477.27 449.13L477.27 456.49L484.62 456.49ZM469.93 485.95L477.27 485.95L477.27 471.22L469.93 471.22ZM602.1 51.54L602.1 44.18L587.41 44.18L587.41 51.54ZM580.07 51.54L580.07 58.9L587.41 58.9L587.41 51.54ZM572.73 198.8L565.39 198.8L565.39 213.52L572.73 213.52ZM594.76 220.88L602.1 220.88L602.1 206.16L594.76 206.16ZM572.73 257.7L580.07 257.7L580.07 265.06L594.76 265.06L594.76 257.7L602.1 257.7L602.1 242.97L594.76 242.97L594.76 228.25L558.04 228.25L558.04 242.97L565.39 242.97L565.39 250.34L572.73 250.34ZM572.73 360.78L572.73 368.14L580.07 368.14L580.07 360.78ZM572.73 368.14L558.04 368.14L558.04 375.5L572.73 375.5ZM587.41 382.87L580.07 382.87L580.07 390.23L587.41 390.23ZM602.1 434.41L602.1 427.04L587.41 427.04L587.41 441.77L594.76 441.77L594.76 434.41ZM558.04 544.85L558.04 552.21L572.73 552.21L572.73 544.85Z"/>
<path fill="#d1e1ee" fill-rule="evenodd" d="M205.6 316.6L212.94 316.6L212.94 309.24L227.62 309.24L227.62 294.51L234.97 294.51L234.97 287.15L242.31 287.15L242.31 279.79L220.28 279.79L220.28 287.15L212.94 287.15L212.94 294.51L205.6 294.51L205.6 301.88L198.25 301.88L198.25 309.24L190.91 309.24L190.91 323.96L205.6 323.96ZM110.14 419.68L117.48 419.68L117.48 434.41L124.83 434.41L124.83 441.77L132.17 441.77L132.17 449.13L124.83 449.13L124.83 456.49L117.48 456.49L117.48 463.86L110.14 463.86L110.14 478.58L88.11 478.58L88.11 485.95L80.77 485.95L80.77 500.67L73.43 500.67L73.43 508.03L58.74 508.03L58.74 515.4L51.4 515.4L51.4 544.85L44.06 544.85L44.06 566.94L58.74 566.94L58.74 552.21L66.08 552.21L66.08 559.57L73.43 559.57L73.43 552.21L88.11 552.21L88.11 544.85L80.77 544.85L80.77 530.12L124.83 530.12L124.83 537.49L139.51 537.49L139.51 530.12L154.2 530.12L154.2 515.4L168.88 515.4L168.88 500.67L176.22 500.67L176.22 485.95L183.57 485.95L183.57 478.58L190.91 478.58L190.91 485.95L198.25 485.95L198.25 493.31L212.94 493.31L212.94 508.03L220.28 508.03L220.28 500.67L227.62 500.67L227.62 493.31L234.97 493.31L234.97 471.22L227.62 471.22L227.62 478.58L220.28 478.58L220.28 471.22L205.6 471.22L205.6 456.49L212.94 456.49L212.94 463.86L227.62 463.86L227.62 456.49L242.31 456.49L242.31 434.41L249.65 434.41L249.65 441.77L256.99 441.77L256.99 434.41L271.68 434.41L271.68 427.04L279.02 427.04L279.02 434.41L286.36 434.41L286.36 441.77L301.05 441.77L301.05 419.68L315.74 419.68L315.74 412.32L330.42 412.32L330.42 397.59L337.76 397.59L337.76 382.87L345.11 382.87L345.11 375.5L352.45 375.5L352.45 368.14L359.79 368.14L359.79 353.42L367.13 353.42L367.13 346.05L337.76 346.05L337.76 353.42L323.08 353.42L323.08 368.14L301.05 368.14L301.05 346.05L293.71 346.05L293.71 353.42L279.02 353.42L279.02 338.69L286.36 338.69L286.36 331.33L293.71 331.33L293.71 309.24L308.39 309.24L308.39 301.88L315.74 301.88L315.74 294.51L323.08 294.51L323.08 287.15L337.76 287.15L337.76 279.79L345.11 279.79L345.11 265.06L352.45 265.06L352.45 257.7L359.79 257.7L359.79 242.97L367.13 242.97L367.13 250.34L374.48 250.34L374.48 242.97L381.82 242.97L381.82 228.25L374.48 228.25L374.48 220.88L381.82 220.88L381.82 213.52L396.5 213.52L396.5 206.16L403.85 206.16L403.85 198.8L425.88 198.8L425.88 191.43L433.22 191.43L433.22 184.07L440.56 184.07L440.56 176.71L462.59 176.71L462.59 169.34L469.93 169.34L469.93 176.71L477.27 176.71L477.27 184.07L462.59 184.07L462.59 191.43L455.25 191.43L455.25 198.8L447.9 198.8L447.9 206.16L440.56 206.16L440.56 213.52L425.88 213.52L425.88 220.88L418.53 220.88L418.53 228.25L411.19 228.25L411.19 242.97L403.85 242.97L403.85 257.7L411.19 257.7L411.19 265.06L418.53 265.06L418.53 257.7L433.22 257.7L433.22 250.34L440.56 250.34L440.56 235.61L447.9 235.61L447.9 220.88L455.25 220.88L455.25 213.52L469.93 213.52L469.93 206.16L477.27 206.16L477.27 198.8L484.62 198.8L484.62 191.43L491.96 191.43L491.96 184.07L499.3 184.07L499.3 161.98L491.96 161.98L491.96 154.62L484.62 154.62L484.62 139.89L491.96 139.89L491.96 132.53L499.3 132.53L499.3 125.17L506.65 125.17L506.65 132.53L513.99 132.53L513.99 139.89L528.67 139.89L528.67 132.53L536.02 132.53L536.02 125.17L550.7 125.17L550.7 117.81L558.04 117.81L558.04 110.44L565.39 110.44L565.39 103.08L572.73 103.08L572.73 110.44L594.76 110.44L594.76 103.08L602.1 103.08L602.1 80.99L594.76 80.99L594.76 88.35L572.73 88.35L572.73 80.99L565.39 80.99L565.39 88.35L550.7 88.35L550.7 80.99L558.04 80.99L558.04 73.63L550.7 73.63L550.7 66.27L543.36 66.27L543.36 73.63L536.02 73.63L536.02 80.99L528.67 80.99L528.67 88.35L499.3 88.35L499.3 95.72L491.96 95.72L491.96 103.08L477.27 103.08L477.27 110.44L462.59 110.44L462.59 117.81L447.9 117.81L447.9 110.44L440.56 110.44L440.56 117.81L418.53 117.81L418.53 125.17L403.85 125.17L403.85 132.53L396.5 132.53L396.5 154.62L389.16 154.62L389.16 161.98L374.48 161.98L374.48 169.34L367.13 169.34L367.13 176.71L352.45 176.71L352.45 184.07L337.76 184.07L337.76 191.43L330.42 191.43L330.42 198.8L301.05 198.8L301.05 206.16L293.71 206.16L293.71 213.52L271.68 213.52L271.68 220.88L234.97 220.88L234.97 235.61L220.28 235.61L220.28 242.97L212.94 242.97L212.94 250.34L220.28 250.34L220.28 257.7L234.97 257.7L234.97 265.06L227.62 265.06L227.62 272.42L256.99 272.42L256.99 265.06L264.34 265.06L264.34 257.7L279.02 257.7L279.02 250.34L286.36 250.34L286.36 242.97L293.71 242.97L293.71 235.61L301.05 235.61L301.05 242.97L308.39 242.97L308.39 250.34L301.05 250.34L301.05 257.7L293.71 257.7L293.71 272.42L286.36 272.42L286.36 279.79L279.02 279.79L279.02 287.15L271.68 287.15L271.68 309.24L264.34 309.24L264.34 316.6L271.68 316.6L271.68 331.33L264.34 331.33L264.34 338.69L256.99 338.69L256.99 331.33L205.6 331.33L205.6 338.69L198.25 338.69L198.25 346.05L205.6 346.05L205.6 353.42L190.91 353.42L190.91 368.14L183.57 368.14L183.57 375.5L146.85 375.5L146.85 390.23L132.17 390.23L132.17 397.59L124.83 397.59L124.83 404.96L117.48 404.96L117.48 412.32L110.14 412.32ZM139.51 515.4L139.51 500.67L146.85 500.67L146.85 508.03L154.2 508.03L154.2 515.4ZM234.97 434.41L234.97 427.04L227.62 427.04L227.62 419.68L212.94 419.68L212.94 427.04L205.6 427.04L205.6 419.68L198.25 419.68L198.25 404.96L220.28 404.96L220.28 412.32L234.97 412.32L234.97 404.96L242.31 404.96L242.31 412.32L249.65 412.32L249.65 419.68L242.31 419.68L242.31 434.41ZM271.68 390.23L271.68 382.87L279.02 382.87L279.02 390.23ZM146.85 397.59L161.54 397.59L161.54 404.96L146.85 404.96ZM146.85 427.04L139.51 427.04L139.51 404.96L146.85 404.96ZM190.91 471.22L176.22 471.22L176.22 463.86L183.57 463.86L183.57 456.49L190.91 456.49ZM102.8 559.57L102.8 566.94L110.14 566.94L110.14 544.85L102.8 544.85L102.8 552.21L95.45 552.21L95.45 559.57ZM36.71 566.94L29.37 566.94L29.37 574.3L36.71 574.3ZM256.99 544.85L256.99 522.76L249.65 522.76L249.65 544.85ZM396.5 346.05L396.5 338.69L381.82 338.69L381.82 346.05ZM323.08 463.86L323.08 471.22L330.42 471.22L330.42 463.86L337.76 463.86L337.76 456.49L345.11 456.49L345.11 441.77L330.42 441.77L330.42 449.13L301.05 449.13L301.05 456.49L315.74 456.49L315.74 463.86ZM396.5 493.31L411.19 493.31L411.19 471.22L403.85 471.22L403.85 478.58L396.5 478.58ZM345.11 552.21L352.45 552.21L352.45 559.57L359.79 559.57L359.79 552.21L367.13 552.21L367.13 544.85L359.79 544.85L359.79 537.49L352.45 537.49L352.45 544.85L345.11 544.85ZM499.3 228.25L484.62 228.25L484.62 235.61L499.3 235.61ZM528.67 301.88L528.67 309.24L513.99 309.24L513.99 316.6L521.33 316.6L521.33 323.96L536.02 323.96L536.02 331.33L550.7 331.33L550.7 323.96L565.39 323.96L565.39 309.24L580.07 309.24L580.07 301.88L594.76 301.88L594.76 294.51L602.1 294.51L602.1 279.79L580.07 279.79L580.07 272.42L572.73 272.42L572.73 279.79L565.39 279.79L565.39 287.15L558.04 287.15L558.04 294.51L550.7 294.51L550.7 309.24L543.36 309.24L543.36 301.88ZM572.73 294.51L572.73 287.15L594.76 287.15L594.76 294.51ZM484.62 338.69L491.96 338.69L491.96 331.33L484.62 331.33ZM536.02 331.33L528.67 331.33L528.67 338.69L536.02 338.69ZM499.3 338.69L491.96 338.69L491.96 346.05L499.3 346.05ZM440.56 360.78L440.56 353.42L433.22 353.42L433.22 360.78ZM440.56 463.86L440.56 456.49L447.9 456.49L447.9 449.13L440.56 449.13L440.56 441.77L433.22 441.77L433.22 449.13L425.88 449.13L425.88 456.49L433.22 456.49L433.22 463.86ZM425.88 522.76L425.88 515.4L418.53 515.4L418.53 508.03L411.19 508.03L411.19 530.12L418.53 530.12L418.53 522.76ZM587.41 161.98L594.76 161.98L594.76 169.34L587.41 169.34L587.41 184.07L602.1 184.07L602.1 125.17L594.76 125.17L594.76 147.26L587.41 147.26ZM580.07 176.71L572.73 176.71L572.73 184.07L580.07 184.07ZM565.39 191.43L565.39 184.07L558.04 184.07L558.04 191.43ZM580.07 257.7L580.07 265.06L594.76 265.06L594.76 257.7L602.1 257.7L602.1 242.97L587.41 242.97L587.41 235.61L558.04 235.61L558.04 242.97L565.39 242.97L565.39 250.34L572.73 250.34L572.73 257.7ZM558.04 272.42L550.7 272.42L550.7 265.06L543.36 265.06L543.36 279.79L558.04 279.79ZM602.1 346.05L602.1 323.96L594.76 323.96L594.76 331.33L587.41 331.33L587.41 338.69L594.76 338.69L594.76 346.05ZM565.39 346.05L550.7 346.05L550.7 353.42L558.04 353.42L558.04 360.78L565.39 360.78Z"/>
<path fill="#b9cfe4" fill-rule="evenodd" d="M139.51 390.23L139.51 397.59L154.2 397.59L154.2 390.23L161.54 390.23L161.54 382.87L168.88 382.87L168.88 375.5L154.2 375.5L154.2 382.87L146.85 382.87L146.85 390.23ZM117.48 434.41L124.83 434.41L124.83 441.77L132.17 441.77L132.17 419.68L139.51 419.68L139.51 397.59L124.83 397.59L124.83 412.32L117.48 412.32ZM132.17 456.49L117.48 456.49L117.48 463.86L110.14 463.86L110.14 478.58L95.45 478.58L95.45 485.95L88.11 485.95L88.11 493.31L80.77 493.31L80.77 500.67L73.43 500.67L73.43 508.03L66.08 508.03L66.08 515.4L51.4 515.4L51.4 537.49L58.74 537.49L58.74 544.85L51.4 544.85L51.4 552.21L44.06 552.21L44.06 566.94L51.4 566.94L51.4 559.57L58.74 559.57L58.74 552.21L80.77 552.21L80.77 537.49L73.43 537.49L73.43 522.76L80.77 522.76L80.77 515.4L88.11 515.4L88.11 522.76L117.48 522.76L117.48 530.12L124.83 530.12L124.83 537.49L132.17 537.49L132.17 530.12L154.2 530.12L154.2 522.76L146.85 522.76L146.85 515.4L132.17 515.4L132.17 508.03L124.83 508.03L124.83 500.67L110.14 500.67L110.14 493.31L102.8 493.31L102.8 485.95L124.83 485.95L124.83 478.58L146.85 478.58L146.85 508.03L154.2 508.03L154.2 493.31L168.88 493.31L168.88 485.95L176.22 485.95L176.22 478.58L154.2 478.58L154.2 471.22L168.88 471.22L168.88 463.86L176.22 463.86L176.22 456.49L198.25 456.49L198.25 449.13L212.94 449.13L212.94 456.49L220.28 456.49L220.28 463.86L227.62 463.86L227.62 449.13L242.31 449.13L242.31 441.77L227.62 441.77L227.62 427.04L190.91 427.04L190.91 404.96L205.6 404.96L205.6 397.59L212.94 397.59L212.94 390.23L220.28 390.23L220.28 382.87L227.62 382.87L227.62 397.59L220.28 397.59L220.28 404.96L249.65 404.96L249.65 412.32L256.99 412.32L256.99 419.68L249.65 419.68L249.65 434.41L264.34 434.41L264.34 427.04L279.02 427.04L279.02 434.41L286.36 434.41L286.36 441.77L293.71 441.77L293.71 434.41L301.05 434.41L301.05 412.32L330.42 412.32L330.42 397.59L323.08 397.59L323.08 404.96L315.74 404.96L315.74 390.23L337.76 390.23L337.76 375.5L345.11 375.5L345.11 360.78L359.79 360.78L359.79 353.42L367.13 353.42L367.13 346.05L345.11 346.05L345.11 353.42L330.42 353.42L330.42 360.78L323.08 360.78L323.08 375.5L315.74 375.5L315.74 368.14L308.39 368.14L308.39 375.5L286.36 375.5L286.36 368.14L279.02 368.14L279.02 360.78L271.68 360.78L271.68 338.69L264.34 338.69L264.34 346.05L256.99 346.05L256.99 331.33L234.97 331.33L234.97 338.69L227.62 338.69L227.62 331.33L205.6 331.33L205.6 353.42L198.25 353.42L198.25 360.78L190.91 360.78L190.91 368.14L183.57 368.14L183.57 375.5L176.22 375.5L176.22 382.87L168.88 382.87L168.88 397.59L161.54 397.59L161.54 404.96L154.2 404.96L154.2 412.32L146.85 412.32L146.85 434.41L139.51 434.41L139.51 449.13L132.17 449.13ZM146.85 471.22L146.85 463.86L154.2 463.86L154.2 471.22ZM154.2 449.13L161.54 449.13L161.54 456.49L154.2 456.49ZM161.54 441.77L168.88 441.77L168.88 449.13L161.54 449.13ZM154.2 441.77L154.2 434.41L161.54 434.41L161.54 441.77ZM220.28 368.14L227.62 368.14L227.62 360.78L234.97 360.78L234.97 375.5L220.28 375.5ZM234.97 353.42L242.31 353.42L242.31 360.78L234.97 360.78ZM256.99 397.59L264.34 397.59L264.34 404.96L256.99 404.96ZM271.68 382.87L279.02 382.87L279.02 397.59L271.68 397.59ZM249.65 390.23L249.65 382.87L256.99 382.87L256.99 390.23ZM139.51 493.31L124.83 493.31L124.83 500.67L139.51 500.67ZM110.14 544.85L102.8 544.85L102.8 559.57L110.14 559.57ZM36.71 566.94L29.37 566.94L29.37 574.3L36.71 574.3ZM242.31 250.34L249.65 250.34L249.65 257.7L271.68 257.7L271.68 242.97L286.36 242.97L286.36 235.61L271.68 235.61L271.68 228.25L249.65 228.25L249.65 235.61L227.62 235.61L227.62 242.97L220.28 242.97L220.28 257.7L242.31 257.7ZM242.31 265.06L234.97 265.06L234.97 272.42L242.31 272.42ZM234.97 287.15L234.97 279.79L227.62 279.79L227.62 287.15ZM198.25 316.6L190.91 316.6L190.91 323.96L205.6 323.96L205.6 316.6L212.94 316.6L212.94 309.24L227.62 309.24L227.62 301.88L220.28 301.88L220.28 287.15L212.94 287.15L212.94 294.51L205.6 294.51L205.6 301.88L198.25 301.88ZM190.91 478.58L205.6 478.58L205.6 463.86L198.25 463.86L198.25 471.22L190.91 471.22ZM234.97 471.22L227.62 471.22L227.62 478.58L234.97 478.58ZM227.62 500.67L227.62 485.95L220.28 485.95L220.28 478.58L205.6 478.58L205.6 485.95L198.25 485.95L198.25 493.31L212.94 493.31L212.94 500.67ZM168.88 508.03L161.54 508.03L161.54 515.4L168.88 515.4ZM256.99 522.76L249.65 522.76L249.65 544.85L256.99 544.85ZM315.74 213.52L308.39 213.52L308.39 220.88L301.05 220.88L301.05 228.25L308.39 228.25L308.39 235.61L315.74 235.61L315.74 250.34L301.05 250.34L301.05 265.06L293.71 265.06L293.71 272.42L286.36 272.42L286.36 287.15L279.02 287.15L279.02 294.51L271.68 294.51L271.68 316.6L279.02 316.6L279.02 309.24L286.36 309.24L286.36 301.88L293.71 301.88L293.71 287.15L308.39 287.15L308.39 279.79L315.74 279.79L315.74 272.42L330.42 272.42L330.42 287.15L337.76 287.15L337.76 265.06L345.11 265.06L345.11 257.7L352.45 257.7L352.45 250.34L359.79 250.34L359.79 242.97L374.48 242.97L374.48 220.88L367.13 220.88L367.13 213.52L389.16 213.52L389.16 206.16L403.85 206.16L403.85 198.8L418.53 198.8L418.53 184.07L433.22 184.07L433.22 176.71L462.59 176.71L462.59 161.98L447.9 161.98L447.9 169.34L433.22 169.34L433.22 161.98L389.16 161.98L389.16 169.34L374.48 169.34L374.48 176.71L359.79 176.71L359.79 184.07L352.45 184.07L352.45 191.43L345.11 191.43L345.11 198.8L337.76 198.8L337.76 213.52L330.42 213.52L330.42 220.88L315.74 220.88ZM271.68 228.25L286.36 228.25L286.36 220.88L271.68 220.88ZM323.08 287.15L315.74 287.15L315.74 294.51L323.08 294.51ZM308.39 294.51L301.05 294.51L301.05 301.88L308.39 301.88ZM293.71 316.6L286.36 316.6L286.36 323.96L293.71 323.96ZM279.02 331.33L286.36 331.33L286.36 323.96L279.02 323.96ZM279.02 331.33L271.68 331.33L271.68 338.69L279.02 338.69ZM330.42 456.49L323.08 456.49L323.08 463.86L330.42 463.86ZM403.85 147.26L396.5 147.26L396.5 154.62L418.53 154.62L418.53 147.26L433.22 147.26L433.22 154.62L447.9 154.62L447.9 147.26L477.27 147.26L477.27 139.89L484.62 139.89L484.62 132.53L491.96 132.53L491.96 125.17L499.3 125.17L499.3 117.81L506.65 117.81L506.65 110.44L528.67 110.44L528.67 103.08L536.02 103.08L536.02 110.44L543.36 110.44L543.36 117.81L558.04 117.81L558.04 110.44L565.39 110.44L565.39 103.08L558.04 103.08L558.04 88.35L543.36 88.35L543.36 95.72L528.67 95.72L528.67 88.35L513.99 88.35L513.99 95.72L506.65 95.72L506.65 103.08L499.3 103.08L499.3 110.44L469.93 110.44L469.93 117.81L425.88 117.81L425.88 125.17L418.53 125.17L418.53 132.53L403.85 132.53ZM433.22 139.89L440.56 139.89L440.56 147.26L433.22 147.26ZM440.56 125.17L447.9 125.17L447.9 132.53L440.56 132.53ZM425.88 213.52L425.88 220.88L418.53 220.88L418.53 228.25L411.19 228.25L411.19 242.97L403.85 242.97L403.85 250.34L411.19 250.34L411.19 257.7L433.22 257.7L433.22 250.34L440.56 250.34L440.56 228.25L447.9 228.25L447.9 220.88L455.25 220.88L455.25 213.52L447.9 213.52L447.9 206.16L440.56 206.16L440.56 213.52ZM396.5 346.05L396.5 338.69L381.82 338.69L381.82 346.05ZM440.56 353.42L433.22 353.42L433.22 360.78L440.56 360.78ZM440.56 449.13L433.22 449.13L433.22 463.86L440.56 463.86ZM411.19 478.58L403.85 478.58L403.85 485.95L411.19 485.95ZM425.88 522.76L425.88 515.4L411.19 515.4L411.19 522.76ZM359.79 544.85L352.45 544.85L352.45 552.21L359.79 552.21ZM536.02 80.99L550.7 80.99L550.7 66.27L543.36 66.27L543.36 73.63L536.02 73.63ZM572.73 103.08L580.07 103.08L580.07 110.44L587.41 110.44L587.41 103.08L594.76 103.08L594.76 95.72L602.1 95.72L602.1 88.35L580.07 88.35L580.07 95.72L572.73 95.72ZM506.65 132.53L521.33 132.53L521.33 125.17L536.02 125.17L536.02 117.81L513.99 117.81L513.99 125.17L506.65 125.17ZM602.1 184.07L602.1 161.98L594.76 161.98L594.76 176.71L587.41 176.71L587.41 184.07ZM462.59 213.52L469.93 213.52L469.93 206.16L477.27 206.16L477.27 198.8L484.62 198.8L484.62 191.43L455.25 191.43L455.25 206.16L462.59 206.16ZM499.3 235.61L499.3 228.25L484.62 228.25L484.62 235.61ZM580.07 265.06L587.41 265.06L587.41 257.7L602.1 257.7L602.1 242.97L594.76 242.97L594.76 250.34L587.41 250.34L587.41 235.61L558.04 235.61L558.04 242.97L572.73 242.97L572.73 257.7L580.07 257.7ZM550.7 279.79L550.7 272.42L543.36 272.42L543.36 279.79ZM572.73 287.15L602.1 287.15L602.1 279.79L572.73 279.79ZM558.04 301.88L550.7 301.88L550.7 309.24L521.33 309.24L521.33 316.6L536.02 316.6L536.02 323.96L558.04 323.96L558.04 316.6L565.39 316.6L565.39 309.24L572.73 309.24L572.73 301.88L580.07 301.88L580.07 294.51L572.73 294.51L572.73 287.15L565.39 287.15L565.39 294.51L558.04 294.51ZM491.96 331.33L484.62 331.33L484.62 338.69L491.96 338.69ZM499.3 338.69L491.96 338.69L491.96 346.05L499.3 346.05ZM565.39 353.42L558.04 353.42L558.04 360.78L565.39 360.78Z"/>
<path fill="#a1bedb" fill-rule="evenodd" d="M154.2 397.59L154.2 390.23L161.54 390.23L161.54 382.87L146.85 382.87L146.85 390.23L139.51 390.23L139.51 397.59ZM132.17 397.59L132.17 404.96L139.51 404.96L139.51 397.59ZM132.17 404.96L124.83 404.96L124.83 412.32L117.48 412.32L117.48 427.04L132.17 427.04ZM146.85 434.41L139.51 434.41L139.51 449.13L132.17 449.13L132.17 456.49L124.83 456.49L124.83 463.86L110.14 463.86L110.14 485.95L117.48 485.95L117.48 478.58L124.83 478.58L124.83 471.22L132.17 471.22L132.17 463.86L139.51 463.86L139.51 456.49L154.2 456.49L154.2 449.13L161.54 449.13L161.54 441.77L176.22 441.77L176.22 449.13L198.25 449.13L198.25 441.77L227.62 441.77L227.62 427.04L212.94 427.04L212.94 434.41L190.91 434.41L190.91 419.68L183.57 419.68L183.57 412.32L190.91 412.32L190.91 404.96L205.6 404.96L205.6 397.59L212.94 397.59L212.94 382.87L220.28 382.87L220.28 375.5L212.94 375.5L212.94 353.42L205.6 353.42L205.6 360.78L198.25 360.78L198.25 368.14L183.57 368.14L183.57 375.5L176.22 375.5L176.22 382.87L190.91 382.87L190.91 375.5L198.25 375.5L198.25 390.23L168.88 390.23L168.88 404.96L161.54 404.96L161.54 412.32L154.2 412.32L154.2 419.68L146.85 419.68ZM154.2 441.77L154.2 434.41L161.54 434.41L161.54 441.77ZM183.57 427.04L176.22 427.04L176.22 419.68L183.57 419.68ZM161.54 471.22L161.54 463.86L154.2 463.86L154.2 471.22ZM146.85 471.22L132.17 471.22L132.17 478.58L146.85 478.58ZM176.22 485.95L176.22 478.58L154.2 478.58L154.2 485.95ZM154.2 493.31L154.2 485.95L146.85 485.95L146.85 493.31ZM95.45 493.31L95.45 485.95L88.11 485.95L88.11 493.31L80.77 493.31L80.77 500.67L73.43 500.67L73.43 508.03L66.08 508.03L66.08 515.4L73.43 515.4L73.43 522.76L80.77 522.76L80.77 515.4L88.11 515.4L88.11 522.76L124.83 522.76L124.83 530.12L146.85 530.12L146.85 515.4L117.48 515.4L117.48 508.03L110.14 508.03L110.14 515.4L95.45 515.4L95.45 508.03L102.8 508.03L102.8 500.67L110.14 500.67L110.14 493.31ZM124.83 508.03L124.83 500.67L117.48 500.67L117.48 508.03ZM66.08 537.49L66.08 530.12L73.43 530.12L73.43 522.76L66.08 522.76L66.08 515.4L58.74 515.4L58.74 522.76L51.4 522.76L51.4 530.12L58.74 530.12L58.74 537.49ZM80.77 544.85L51.4 544.85L51.4 559.57L58.74 559.57L58.74 552.21L80.77 552.21ZM110.14 559.57L110.14 552.21L102.8 552.21L102.8 559.57ZM249.65 242.97L256.99 242.97L256.99 235.61L271.68 235.61L271.68 228.25L249.65 228.25L249.65 235.61L234.97 235.61L234.97 242.97L220.28 242.97L220.28 250.34L249.65 250.34ZM234.97 279.79L227.62 279.79L227.62 287.15L234.97 287.15ZM205.6 316.6L205.6 309.24L227.62 309.24L227.62 301.88L212.94 301.88L212.94 294.51L205.6 294.51L205.6 301.88L198.25 301.88L198.25 316.6ZM227.62 331.33L205.6 331.33L205.6 346.05L212.94 346.05L212.94 353.42L242.31 353.42L242.31 346.05L249.65 346.05L249.65 331.33L242.31 331.33L242.31 338.69L227.62 338.69ZM227.62 368.14L227.62 360.78L220.28 360.78L220.28 368.14ZM286.36 368.14L279.02 368.14L279.02 360.78L264.34 360.78L264.34 353.42L242.31 353.42L242.31 368.14L234.97 368.14L234.97 375.5L227.62 375.5L227.62 397.59L220.28 397.59L220.28 404.96L249.65 404.96L249.65 412.32L256.99 412.32L256.99 419.68L249.65 419.68L249.65 434.41L256.99 434.41L256.99 427.04L271.68 427.04L271.68 419.68L279.02 419.68L279.02 427.04L286.36 427.04L286.36 434.41L293.71 434.41L293.71 427.04L301.05 427.04L301.05 404.96L308.39 404.96L308.39 412.32L330.42 412.32L330.42 404.96L315.74 404.96L315.74 397.59L308.39 397.59L308.39 390.23L337.76 390.23L337.76 368.14L345.11 368.14L345.11 360.78L359.79 360.78L359.79 346.05L345.11 346.05L345.11 353.42L337.76 353.42L337.76 360.78L330.42 360.78L330.42 375.5L308.39 375.5L308.39 382.87L301.05 382.87L301.05 375.5L286.36 375.5ZM249.65 382.87L264.34 382.87L264.34 375.5L286.36 375.5L286.36 382.87L279.02 382.87L279.02 390.23L286.36 390.23L286.36 397.59L271.68 397.59L271.68 390.23L249.65 390.23ZM271.68 412.32L264.34 412.32L264.34 404.96L256.99 404.96L256.99 397.59L271.68 397.59ZM227.62 441.77L227.62 449.13L242.31 449.13L242.31 441.77ZM227.62 449.13L212.94 449.13L212.94 456.49L227.62 456.49ZM176.22 456.49L176.22 449.13L161.54 449.13L161.54 456.49ZM205.6 463.86L198.25 463.86L198.25 471.22L190.91 471.22L190.91 478.58L205.6 478.58ZM227.62 485.95L220.28 485.95L220.28 478.58L205.6 478.58L205.6 493.31L212.94 493.31L212.94 500.67L227.62 500.67ZM286.36 228.25L286.36 220.88L271.68 220.88L271.68 228.25ZM242.31 265.06L234.97 265.06L234.97 272.42L242.31 272.42ZM286.36 287.15L279.02 287.15L279.02 301.88L271.68 301.88L271.68 316.6L279.02 316.6L279.02 309.24L286.36 309.24L286.36 301.88L293.71 301.88L293.71 279.79L308.39 279.79L308.39 272.42L330.42 272.42L330.42 265.06L345.11 265.06L345.11 257.7L352.45 257.7L352.45 235.61L374.48 235.61L374.48 228.25L359.79 228.25L359.79 213.52L381.82 213.52L381.82 206.16L396.5 206.16L396.5 198.8L418.53 198.8L418.53 191.43L403.85 191.43L403.85 184.07L381.82 184.07L381.82 176.71L411.19 176.71L411.19 184.07L433.22 184.07L433.22 176.71L440.56 176.71L440.56 169.34L433.22 169.34L433.22 161.98L403.85 161.98L403.85 169.34L396.5 169.34L396.5 161.98L389.16 161.98L389.16 169.34L374.48 169.34L374.48 176.71L367.13 176.71L367.13 184.07L352.45 184.07L352.45 206.16L345.11 206.16L345.11 198.8L337.76 198.8L337.76 213.52L330.42 213.52L330.42 220.88L301.05 220.88L301.05 228.25L308.39 228.25L308.39 235.61L315.74 235.61L315.74 257.7L323.08 257.7L323.08 265.06L293.71 265.06L293.71 272.42L286.36 272.42ZM308.39 294.51L301.05 294.51L301.05 301.88L308.39 301.88ZM279.02 331.33L286.36 331.33L286.36 323.96L279.02 323.96ZM279.02 331.33L271.68 331.33L271.68 338.69L279.02 338.69ZM403.85 147.26L433.22 147.26L433.22 139.89L447.9 139.89L447.9 147.26L462.59 147.26L462.59 139.89L477.27 139.89L477.27 132.53L484.62 132.53L484.62 125.17L491.96 125.17L491.96 117.81L499.3 117.81L499.3 110.44L477.27 110.44L477.27 117.81L462.59 117.81L462.59 125.17L447.9 125.17L447.9 117.81L425.88 117.81L425.88 125.17L418.53 125.17L418.53 132.53L403.85 132.53ZM447.9 132.53L440.56 132.53L440.56 125.17L447.9 125.17ZM425.88 132.53L425.88 139.89L418.53 139.89L418.53 132.53ZM411.19 257.7L425.88 257.7L425.88 250.34L433.22 250.34L433.22 242.97L440.56 242.97L440.56 220.88L447.9 220.88L447.9 213.52L433.22 213.52L433.22 220.88L425.88 220.88L425.88 228.25L418.53 228.25L418.53 235.61L411.19 235.61ZM330.42 456.49L323.08 456.49L323.08 463.86L330.42 463.86ZM411.19 478.58L403.85 478.58L403.85 485.95L411.19 485.95ZM418.53 522.76L418.53 515.4L411.19 515.4L411.19 522.76ZM359.79 552.21L359.79 544.85L352.45 544.85L352.45 552.21ZM550.7 80.99L550.7 73.63L543.36 73.63L543.36 80.99ZM594.76 103.08L594.76 95.72L602.1 95.72L602.1 88.35L580.07 88.35L580.07 103.08ZM528.67 103.08L536.02 103.08L536.02 110.44L543.36 110.44L543.36 117.81L550.7 117.81L550.7 110.44L558.04 110.44L558.04 88.35L543.36 88.35L543.36 95.72L528.67 95.72ZM536.02 125.17L536.02 117.81L513.99 117.81L513.99 125.17ZM602.1 176.71L602.1 169.34L594.76 169.34L594.76 176.71ZM469.93 206.16L469.93 198.8L477.27 198.8L477.27 191.43L462.59 191.43L462.59 198.8L455.25 198.8L455.25 206.16ZM580.07 242.97L572.73 242.97L572.73 257.7L594.76 257.7L594.76 250.34L580.07 250.34ZM550.7 272.42L543.36 272.42L543.36 279.79L550.7 279.79ZM580.07 279.79L572.73 279.79L572.73 287.15L580.07 287.15ZM550.7 316.6L558.04 316.6L558.04 309.24L565.39 309.24L565.39 301.88L580.07 301.88L580.07 294.51L558.04 294.51L558.04 301.88L550.7 301.88ZM543.36 309.24L521.33 309.24L521.33 316.6L536.02 316.6L536.02 323.96L550.7 323.96L550.7 316.6L543.36 316.6ZM440.56 449.13L433.22 449.13L433.22 456.49L440.56 456.49Z"/>
<path fill="#93a4cd" fill-rule="evenodd" d="M146.85 390.23L154.2 390.23L154.2 382.87L146.85 382.87ZM132.17 397.59L132.17 404.96L139.51 404.96L139.51 397.59ZM132.17 419.68L132.17 404.96L124.83 404.96L124.83 419.68ZM161.54 427.04L161.54 434.41L168.88 434.41L168.88 427.04L176.22 427.04L176.22 419.68L183.57 419.68L183.57 404.96L198.25 404.96L198.25 397.59L212.94 397.59L212.94 382.87L220.28 382.87L220.28 375.5L212.94 375.5L212.94 353.42L205.6 353.42L205.6 360.78L198.25 360.78L198.25 368.14L190.91 368.14L190.91 375.5L205.6 375.5L205.6 382.87L198.25 382.87L198.25 390.23L190.91 390.23L190.91 397.59L168.88 397.59L168.88 404.96L161.54 404.96L161.54 412.32L154.2 412.32L154.2 427.04ZM124.83 427.04L124.83 419.68L117.48 419.68L117.48 427.04ZM154.2 434.41L154.2 427.04L146.85 427.04L146.85 434.41ZM154.2 449.13L154.2 441.77L146.85 441.77L146.85 449.13ZM168.88 456.49L168.88 449.13L161.54 449.13L161.54 456.49ZM146.85 456.49L146.85 449.13L139.51 449.13L139.51 456.49ZM117.48 478.58L124.83 478.58L124.83 471.22L132.17 471.22L132.17 463.86L139.51 463.86L139.51 456.49L124.83 456.49L124.83 463.86L117.48 463.86ZM154.2 471.22L161.54 471.22L161.54 463.86L154.2 463.86ZM146.85 478.58L146.85 471.22L132.17 471.22L132.17 478.58ZM117.48 485.95L117.48 478.58L110.14 478.58L110.14 485.95ZM66.08 515.4L88.11 515.4L88.11 508.03L102.8 508.03L102.8 493.31L95.45 493.31L95.45 485.95L88.11 485.95L88.11 493.31L80.77 493.31L80.77 508.03L66.08 508.03ZM110.14 515.4L117.48 515.4L117.48 508.03L110.14 508.03ZM51.4 530.12L58.74 530.12L58.74 537.49L66.08 537.49L66.08 515.4L58.74 515.4L58.74 522.76L51.4 522.76ZM132.17 522.76L132.17 515.4L124.83 515.4L124.83 530.12L139.51 530.12L139.51 522.76ZM51.4 559.57L58.74 559.57L58.74 552.21L51.4 552.21ZM256.99 235.61L256.99 228.25L249.65 228.25L249.65 235.61ZM242.31 250.34L242.31 242.97L227.62 242.97L227.62 250.34ZM220.28 309.24L220.28 301.88L205.6 301.88L205.6 309.24ZM220.28 338.69L220.28 331.33L205.6 331.33L205.6 338.69ZM249.65 346.05L249.65 338.69L234.97 338.69L234.97 346.05ZM212.94 346.05L212.94 353.42L234.97 353.42L234.97 346.05L227.62 346.05L227.62 338.69L220.28 338.69L220.28 346.05ZM242.31 375.5L227.62 375.5L227.62 382.87L249.65 382.87L249.65 375.5L279.02 375.5L279.02 368.14L271.68 368.14L271.68 360.78L264.34 360.78L264.34 353.42L256.99 353.42L256.99 360.78L242.31 360.78ZM190.91 382.87L190.91 375.5L176.22 375.5L176.22 382.87ZM234.97 397.59L234.97 390.23L227.62 390.23L227.62 397.59ZM242.31 404.96L249.65 404.96L249.65 397.59L242.31 397.59ZM256.99 427.04L264.34 427.04L264.34 419.68L249.65 419.68L249.65 434.41L256.99 434.41ZM212.94 427.04L212.94 434.41L220.28 434.41L220.28 427.04ZM212.94 441.77L212.94 434.41L190.91 434.41L190.91 441.77ZM168.88 441.77L176.22 441.77L176.22 434.41L168.88 434.41ZM359.79 198.8L359.79 206.16L337.76 206.16L337.76 220.88L308.39 220.88L308.39 228.25L315.74 228.25L315.74 250.34L352.45 250.34L352.45 235.61L359.79 235.61L359.79 228.25L352.45 228.25L352.45 220.88L359.79 220.88L359.79 213.52L381.82 213.52L381.82 206.16L389.16 206.16L389.16 198.8L396.5 198.8L396.5 191.43L389.16 191.43L389.16 184.07L374.48 184.07L374.48 176.71L367.13 176.71L367.13 184.07L352.45 184.07L352.45 198.8ZM293.71 272.42L293.71 279.79L308.39 279.79L308.39 272.42L330.42 272.42L330.42 265.06L337.76 265.06L337.76 257.7L323.08 257.7L323.08 265.06L301.05 265.06L301.05 272.42ZM271.68 301.88L271.68 309.24L286.36 309.24L286.36 294.51L279.02 294.51L279.02 301.88ZM279.02 338.69L279.02 331.33L271.68 331.33L271.68 338.69ZM352.45 360.78L352.45 353.42L345.11 353.42L345.11 360.78ZM301.05 382.87L301.05 375.5L286.36 375.5L286.36 382.87L279.02 382.87L279.02 390.23L286.36 390.23L286.36 397.59L271.68 397.59L271.68 412.32L279.02 412.32L279.02 427.04L286.36 427.04L286.36 434.41L293.71 434.41L293.71 419.68L301.05 419.68L301.05 412.32L293.71 412.32L293.71 404.96L308.39 404.96L308.39 390.23L315.74 390.23L315.74 382.87L337.76 382.87L337.76 360.78L330.42 360.78L330.42 375.5L308.39 375.5L308.39 382.87ZM323.08 412.32L323.08 404.96L315.74 404.96L315.74 412.32ZM594.76 88.35L587.41 88.35L587.41 95.72L580.07 95.72L580.07 103.08L594.76 103.08ZM550.7 103.08L550.7 95.72L543.36 95.72L543.36 110.44L558.04 110.44L558.04 103.08ZM455.25 125.17L455.25 132.53L462.59 132.53L462.59 139.89L477.27 139.89L477.27 132.53L484.62 132.53L484.62 125.17L491.96 125.17L491.96 117.81L499.3 117.81L499.3 110.44L484.62 110.44L484.62 117.81L462.59 117.81L462.59 125.17ZM433.22 132.53L433.22 125.17L425.88 125.17L425.88 132.53ZM418.53 147.26L418.53 139.89L403.85 139.89L403.85 147.26ZM396.5 169.34L396.5 161.98L389.16 161.98L389.16 169.34ZM418.53 169.34L418.53 161.98L411.19 161.98L411.19 169.34ZM389.16 176.71L389.16 169.34L381.82 169.34L381.82 176.71ZM418.53 176.71L433.22 176.71L433.22 169.34L418.53 169.34ZM469.93 206.16L469.93 198.8L455.25 198.8L455.25 206.16ZM440.56 228.25L440.56 220.88L447.9 220.88L447.9 213.52L433.22 213.52L433.22 220.88L425.88 220.88L425.88 228.25ZM433.22 250.34L433.22 235.61L425.88 235.61L425.88 228.25L418.53 228.25L418.53 242.97L411.19 242.97L411.19 250.34ZM594.76 257.7L594.76 250.34L580.07 250.34L580.07 257.7ZM580.07 287.15L580.07 279.79L572.73 279.79L572.73 287.15ZM550.7 316.6L558.04 316.6L558.04 309.24L565.39 309.24L565.39 301.88L572.73 301.88L572.73 294.51L558.04 294.51L558.04 301.88L550.7 301.88ZM543.36 323.96L543.36 316.6L536.02 316.6L536.02 323.96Z"/>
<path fill="#8c86be" fill-rule="evenodd" d="M205.6 338.69L220.28 338.69L220.28 331.33L205.6 331.33ZM190.91 375.5L205.6 375.5L205.6 382.87L198.25 382.87L198.25 390.23L190.91 390.23L190.91 397.59L168.88 397.59L168.88 404.96L161.54 404.96L161.54 412.32L154.2 412.32L154.2 427.04L176.22 427.04L176.22 419.68L183.57 419.68L183.57 404.96L198.25 404.96L198.25 397.59L205.6 397.59L205.6 390.23L212.94 390.23L212.94 382.87L220.28 382.87L220.28 375.5L212.94 375.5L212.94 353.42L205.6 353.42L205.6 360.78L198.25 360.78L198.25 368.14L190.91 368.14ZM176.22 382.87L183.57 382.87L183.57 375.5L176.22 375.5ZM146.85 390.23L154.2 390.23L154.2 382.87L146.85 382.87ZM124.83 419.68L132.17 419.68L132.17 412.32L124.83 412.32ZM154.2 449.13L154.2 441.77L146.85 441.77L146.85 449.13ZM139.51 456.49L146.85 456.49L146.85 449.13L139.51 449.13ZM161.54 456.49L168.88 456.49L168.88 449.13L161.54 449.13ZM88.11 485.95L88.11 493.31L95.45 493.31L95.45 485.95ZM80.77 508.03L66.08 508.03L66.08 515.4L88.11 515.4L88.11 493.31L80.77 493.31ZM102.8 500.67L102.8 493.31L95.45 493.31L95.45 500.67ZM110.14 515.4L117.48 515.4L117.48 508.03L110.14 508.03ZM58.74 530.12L66.08 530.12L66.08 515.4L58.74 515.4ZM124.83 530.12L139.51 530.12L139.51 522.76L132.17 522.76L132.17 515.4L124.83 515.4ZM51.4 559.57L58.74 559.57L58.74 552.21L51.4 552.21ZM352.45 228.25L345.11 228.25L345.11 220.88L352.45 220.88L352.45 213.52L374.48 213.52L374.48 206.16L389.16 206.16L389.16 191.43L381.82 191.43L381.82 184.07L359.79 184.07L359.79 206.16L337.76 206.16L337.76 220.88L308.39 220.88L308.39 228.25L315.74 228.25L315.74 235.61L323.08 235.61L323.08 250.34L352.45 250.34ZM249.65 235.61L256.99 235.61L256.99 228.25L249.65 228.25ZM227.62 250.34L242.31 250.34L242.31 242.97L227.62 242.97ZM337.76 257.7L330.42 257.7L330.42 265.06L337.76 265.06ZM330.42 272.42L330.42 265.06L315.74 265.06L315.74 272.42ZM308.39 279.79L308.39 272.42L293.71 272.42L293.71 279.79ZM286.36 309.24L286.36 294.51L279.02 294.51L279.02 301.88L271.68 301.88L271.68 309.24ZM220.28 309.24L220.28 301.88L205.6 301.88L205.6 309.24ZM271.68 338.69L279.02 338.69L279.02 331.33L271.68 331.33ZM227.62 338.69L220.28 338.69L220.28 346.05L212.94 346.05L212.94 353.42L234.97 353.42L234.97 346.05L227.62 346.05ZM249.65 346.05L249.65 338.69L234.97 338.69L234.97 346.05ZM234.97 375.5L234.97 382.87L249.65 382.87L249.65 375.5L279.02 375.5L279.02 368.14L271.68 368.14L271.68 360.78L264.34 360.78L264.34 353.42L256.99 353.42L256.99 360.78L242.31 360.78L242.31 375.5ZM323.08 375.5L323.08 382.87L337.76 382.87L337.76 360.78L330.42 360.78L330.42 375.5ZM279.02 404.96L271.68 404.96L271.68 412.32L286.36 412.32L286.36 404.96L308.39 404.96L308.39 390.23L301.05 390.23L301.05 382.87L286.36 382.87L286.36 397.59L279.02 397.59ZM308.39 382.87L308.39 390.23L315.74 390.23L315.74 382.87ZM286.36 427.04L286.36 434.41L293.71 434.41L293.71 412.32L286.36 412.32L286.36 419.68L279.02 419.68L279.02 427.04ZM594.76 88.35L587.41 88.35L587.41 95.72L594.76 95.72ZM587.41 103.08L587.41 95.72L580.07 95.72L580.07 103.08ZM550.7 103.08L550.7 95.72L543.36 95.72L543.36 103.08ZM462.59 132.53L462.59 139.89L477.27 139.89L477.27 117.81L469.93 117.81L469.93 125.17L455.25 125.17L455.25 132.53ZM418.53 176.71L433.22 176.71L433.22 169.34L418.53 169.34ZM469.93 206.16L469.93 198.8L462.59 198.8L462.59 206.16ZM425.88 228.25L440.56 228.25L440.56 220.88L447.9 220.88L447.9 213.52L433.22 213.52L433.22 220.88L425.88 220.88ZM418.53 242.97L411.19 242.97L411.19 250.34L433.22 250.34L433.22 235.61L425.88 235.61L425.88 228.25L418.53 228.25ZM594.76 257.7L594.76 250.34L580.07 250.34L580.07 257.7ZM572.73 287.15L580.07 287.15L580.07 279.79L572.73 279.79ZM558.04 294.51L558.04 301.88L572.73 301.88L572.73 294.51ZM558.04 316.6L558.04 301.88L550.7 301.88L550.7 316.6ZM352.45 360.78L352.45 353.42L345.11 353.42L345.11 360.78Z"/>
<path fill="#8c67af" fill-rule="evenodd" d="M227.62 242.97L227.62 250.34L234.97 250.34L234.97 242.97ZM205.6 309.24L212.94 309.24L212.94 301.88L205.6 301.88ZM212.94 346.05L212.94 353.42L227.62 353.42L227.62 338.69L220.28 338.69L220.28 346.05ZM190.91 375.5L205.6 375.5L205.6 390.23L212.94 390.23L212.94 382.87L220.28 382.87L220.28 375.5L212.94 375.5L212.94 353.42L205.6 353.42L205.6 360.78L198.25 360.78L198.25 368.14L190.91 368.14ZM234.97 382.87L249.65 382.87L249.65 375.5L279.02 375.5L279.02 368.14L271.68 368.14L271.68 360.78L242.31 360.78L242.31 375.5L234.97 375.5ZM190.91 397.59L205.6 397.59L205.6 390.23L190.91 390.23ZM161.54 412.32L154.2 412.32L154.2 427.04L176.22 427.04L176.22 419.68L183.57 419.68L183.57 404.96L190.91 404.96L190.91 397.59L168.88 397.59L168.88 404.96L161.54 404.96ZM124.83 419.68L132.17 419.68L132.17 412.32L124.83 412.32ZM110.14 515.4L117.48 515.4L117.48 508.03L110.14 508.03ZM73.43 515.4L80.77 515.4L80.77 508.03L73.43 508.03ZM132.17 515.4L124.83 515.4L124.83 530.12L132.17 530.12ZM330.42 228.25L323.08 228.25L323.08 250.34L345.11 250.34L345.11 242.97L352.45 242.97L352.45 228.25L337.76 228.25L337.76 220.88L330.42 220.88ZM308.39 228.25L315.74 228.25L315.74 220.88L308.39 220.88ZM293.71 279.79L308.39 279.79L308.39 272.42L293.71 272.42ZM279.02 301.88L286.36 301.88L286.36 294.51L279.02 294.51ZM234.97 346.05L249.65 346.05L249.65 338.69L234.97 338.69ZM330.42 375.5L337.76 375.5L337.76 360.78L330.42 360.78ZM323.08 382.87L330.42 382.87L330.42 375.5L323.08 375.5ZM293.71 397.59L301.05 397.59L301.05 404.96L308.39 404.96L308.39 390.23L301.05 390.23L301.05 382.87L293.71 382.87ZM286.36 397.59L279.02 397.59L279.02 404.96L271.68 404.96L271.68 412.32L286.36 412.32ZM286.36 427.04L286.36 434.41L293.71 434.41L293.71 412.32L286.36 412.32L286.36 419.68L279.02 419.68L279.02 427.04ZM587.41 95.72L594.76 95.72L594.76 88.35L587.41 88.35ZM580.07 103.08L587.41 103.08L587.41 95.72L580.07 95.72ZM543.36 103.08L550.7 103.08L550.7 95.72L543.36 95.72ZM462.59 132.53L462.59 139.89L477.27 139.89L477.27 117.81L469.93 117.81L469.93 125.17L455.25 125.17L455.25 132.53ZM418.53 176.71L433.22 176.71L433.22 169.34L418.53 169.34ZM359.79 206.16L345.11 206.16L345.11 213.52L337.76 213.52L337.76 220.88L352.45 220.88L352.45 213.52L367.13 213.52L367.13 206.16L389.16 206.16L389.16 191.43L381.82 191.43L381.82 184.07L359.79 184.07ZM462.59 206.16L469.93 206.16L469.93 198.8L462.59 198.8ZM433.22 220.88L447.9 220.88L447.9 213.52L433.22 213.52ZM425.88 228.25L433.22 228.25L433.22 220.88L425.88 220.88ZM433.22 250.34L433.22 242.97L425.88 242.97L425.88 235.61L418.53 235.61L418.53 242.97L411.19 242.97L411.19 250.34ZM580.07 257.7L587.41 257.7L587.41 250.34L580.07 250.34ZM550.7 316.6L558.04 316.6L558.04 309.24L550.7 309.24Z"/>
<path fill="#8949a1" fill-rule="evenodd" d="M205.6 301.88L205.6 309.24L212.94 309.24L212.94 301.88ZM220.28 346.05L220.28 353.42L227.62 353.42L227.62 346.05ZM205.6 360.78L198.25 360.78L198.25 375.5L212.94 375.5L212.94 353.42L205.6 353.42ZM256.99 368.14L242.31 368.14L242.31 375.5L271.68 375.5L271.68 360.78L256.99 360.78ZM190.91 390.23L190.91 397.59L205.6 397.59L205.6 390.23ZM161.54 419.68L161.54 412.32L154.2 412.32L154.2 427.04L176.22 427.04L176.22 419.68L183.57 419.68L183.57 404.96L190.91 404.96L190.91 397.59L168.88 397.59L168.88 419.68ZM279.02 404.96L279.02 412.32L286.36 412.32L286.36 404.96ZM279.02 419.68L279.02 427.04L286.36 427.04L286.36 434.41L293.71 434.41L293.71 419.68ZM73.43 515.4L80.77 515.4L80.77 508.03L73.43 508.03ZM124.83 530.12L132.17 530.12L132.17 522.76L124.83 522.76ZM580.07 95.72L580.07 103.08L587.41 103.08L587.41 95.72ZM418.53 169.34L418.53 176.71L433.22 176.71L433.22 169.34ZM381.82 206.16L381.82 191.43L367.13 191.43L367.13 206.16ZM352.45 206.16L352.45 213.52L367.13 213.52L367.13 206.16ZM440.56 213.52L440.56 220.88L447.9 220.88L447.9 213.52ZM337.76 213.52L337.76 220.88L352.45 220.88L352.45 213.52ZM323.08 228.25L323.08 242.97L330.42 242.97L330.42 250.34L345.11 250.34L345.11 242.97L352.45 242.97L352.45 228.25ZM580.07 250.34L580.07 257.7L587.41 257.7L587.41 250.34ZM550.7 309.24L550.7 316.6L558.04 316.6L558.04 309.24ZM337.76 375.5L337.76 360.78L330.42 360.78L330.42 375.5ZM308.39 397.59L308.39 390.23L301.05 390.23L301.05 382.87L293.71 382.87L293.71 397.59Z"/>
<path fill="#84268b" fill-rule="evenodd" d="M212.94 301.88L205.6 301.88L205.6 309.24L212.94 309.24ZM212.94 368.14L212.94 353.42L205.6 353.42L205.6 368.14ZM256.99 360.78L256.99 368.14L271.68 368.14L271.68 360.78ZM198.25 368.14L198.25 375.5L205.6 375.5L205.6 368.14ZM256.99 368.14L249.65 368.14L249.65 375.5L256.99 375.5ZM190.91 390.23L190.91 397.59L205.6 397.59L205.6 390.23ZM168.88 419.68L176.22 419.68L176.22 412.32L183.57 412.32L183.57 397.59L168.88 397.59ZM154.2 412.32L154.2 427.04L161.54 427.04L161.54 412.32ZM381.82 206.16L381.82 191.43L367.13 191.43L367.13 206.16ZM447.9 213.52L440.56 213.52L440.56 220.88L447.9 220.88ZM330.42 242.97L337.76 242.97L337.76 250.34L345.11 250.34L345.11 242.97L352.45 242.97L352.45 235.61L345.11 235.61L345.11 228.25L323.08 228.25L323.08 235.61L330.42 235.61ZM550.7 309.24L550.7 316.6L558.04 316.6L558.04 309.24ZM293.71 397.59L308.39 397.59L308.39 390.23L301.05 390.23L301.05 382.87L293.71 382.87ZM279.02 404.96L279.02 412.32L286.36 412.32L286.36 404.96ZM279.02 419.68L279.02 427.04L293.71 427.04L293.71 419.68Z"/>
<path fill="#730b6f" fill-rule="evenodd" d="M205.6 368.14L212.94 368.14L212.94 353.42L205.6 353.42ZM205.6 390.23L198.25 390.23L198.25 397.59L205.6 397.59ZM168.88 404.96L168.88 419.68L176.22 419.68L176.22 412.32L183.57 412.32L183.57 397.59L176.22 397.59L176.22 404.96ZM161.54 419.68L154.2 419.68L154.2 427.04L161.54 427.04ZM381.82 198.8L381.82 191.43L374.48 191.43L374.48 198.8ZM330.42 235.61L330.42 242.97L352.45 242.97L352.45 235.61L345.11 235.61L345.11 228.25L337.76 228.25L337.76 235.61ZM256.99 368.14L249.65 368.14L249.65 375.5L256.99 375.5ZM301.05 390.23L293.71 390.23L293.71 397.59L301.05 397.59ZM286.36 404.96L279.02 404.96L279.02 412.32L286.36 412.32ZM293.71 419.68L279.02 419.68L279.02 427.04L293.71 427.04Z"/>
<path fill="#4d004b" fill-rule="evenodd" d="M352.45 242.97L352.45 235.61L330.42 235.61L330.42 242.97ZM205.6 368.14L212.94 368.14L212.94 353.42L205.6 353.42ZM256.99 375.5L256.99 368.14L249.65 368.14L249.65 375.5ZM205.6 397.59L205.6 390.23L198.25 390.23L198.25 397.59ZM301.05 397.59L301.05 390.23L293.71 390.23L293.71 397.59ZM168.88 404.96L168.88 419.68L176.22 419.68L176.22 412.32L183.57 412.32L183.57 404.96ZM293.71 419.68L286.36 419.68L286.36 427.04L293.71 427.04Z"/>
<use href="#bd" clip-path="url(#pc)"/>
<rect width="602.1" height="574.3" fill="none" stroke="#000" stroke-width="2.5"/>
<text x="65.2" y="40.15" font-size="41.5">(c)</text>
</g>
<g transform="translate(18.5,669.05)">
<rect width="602.1" height="574.3" fill="#f7fcfd"/>
<path fill="#08306b" fill-rule="evenodd" d="M355.79 54.7L383.15 54.7L383.15 27.35L437.89 27.35L437.89 0L355.79 0ZM218.95 218.78L218.95 246.13L191.58 246.13L191.58 273.48L164.21 273.48L164.21 300.82L136.84 300.82L136.84 328.17L109.47 328.17L109.47 355.52L82.1 355.52L82.1 382.87L54.74 382.87L54.74 437.56L0 437.56L0 574.3L136.84 574.3L136.84 546.95L164.21 546.95L164.21 519.6L273.68 519.6L273.68 546.95L383.15 546.95L383.15 519.6L410.52 519.6L410.52 492.26L465.26 492.26L465.26 574.3L520 574.3L520 546.95L492.63 546.95L492.63 410.21L465.26 410.21L465.26 382.87L492.63 382.87L492.63 328.17L547.36 328.17L547.36 300.82L520 300.82L520 273.48L574.73 273.48L574.73 246.13L602.1 246.13L602.1 164.09L574.73 164.09L574.73 136.74L602.1 136.74L602.1 54.7L492.63 54.7L492.63 82.04L437.89 82.04L437.89 109.39L410.52 109.39L410.52 136.74L355.79 136.74L355.79 164.09L273.68 164.09L273.68 191.43L246.31 191.43L246.31 218.78ZM301.05 410.21L301.05 382.87L246.31 382.87L246.31 355.52L218.95 355.52L218.95 328.17L246.31 328.17L246.31 273.48L273.68 273.48L273.68 246.13L301.05 246.13L301.05 218.78L355.79 218.78L355.79 191.43L383.15 191.43L383.15 218.78L410.52 218.78L410.52 246.13L465.26 246.13L465.26 218.78L492.63 218.78L492.63 273.48L437.89 273.48L437.89 300.82L410.52 300.82L410.52 382.87L383.15 382.87L383.15 410.21ZM218.95 437.56L164.21 437.56L164.21 410.21L191.58 410.21L191.58 382.87L218.95 382.87ZM574.73 300.82L574.73 328.17L602.1 328.17L602.1 300.82Z"/>
<use href="#bd" clip-path="url(#pc)"/>
<rect width="602.1" height="574.3" fill="none" stroke="#000" stroke-width="2.5"/>
<text x="62.3" y="37.95" font-size="41.5">(d)</text>
</g>
<g transform="translate(652.05,669.05)">
<rect width="602.1" height="574.3" fill="#f7fcfd"/>
<path fill="#08306b" fill-rule="evenodd" d="M132.17 294.51L110.14 294.51L110.14 301.88L132.17 301.88ZM139.51 309.24L139.51 316.6L132.17 316.6L132.17 346.05L117.48 346.05L117.48 353.42L139.51 353.42L139.51 360.78L146.85 360.78L146.85 353.42L154.2 353.42L154.2 360.78L161.54 360.78L161.54 368.14L146.85 368.14L146.85 375.5L161.54 375.5L161.54 382.87L176.22 382.87L176.22 375.5L198.25 375.5L198.25 368.14L242.31 368.14L242.31 360.78L234.97 360.78L234.97 353.42L212.94 353.42L212.94 338.69L227.62 338.69L227.62 323.96L234.97 323.96L234.97 309.24L227.62 309.24L227.62 301.88L234.97 301.88L234.97 294.51L242.31 294.51L242.31 279.79L249.65 279.79L249.65 272.42L256.99 272.42L256.99 257.7L249.65 257.7L249.65 250.34L220.28 250.34L220.28 257.7L212.94 257.7L212.94 265.06L205.6 265.06L205.6 250.34L198.25 250.34L198.25 279.79L190.91 279.79L190.91 272.42L176.22 272.42L176.22 279.79L161.54 279.79L161.54 301.88L176.22 301.88L176.22 287.15L183.57 287.15L183.57 294.51L190.91 294.51L190.91 309.24L183.57 309.24L183.57 316.6L168.88 316.6L168.88 309.24L161.54 309.24L161.54 316.6L154.2 316.6L154.2 323.96L146.85 323.96L146.85 309.24ZM227.62 257.7L227.62 265.06L220.28 265.06L220.28 257.7ZM183.57 353.42L168.88 353.42L168.88 346.05L183.57 346.05ZM183.57 338.69L198.25 338.69L198.25 353.42L205.6 353.42L205.6 360.78L190.91 360.78L190.91 346.05L183.57 346.05ZM176.22 338.69L176.22 331.33L183.57 331.33L183.57 338.69ZM198.25 331.33L190.91 331.33L190.91 323.96L205.6 323.96L205.6 338.69L198.25 338.69ZM205.6 309.24L205.6 301.88L220.28 301.88L220.28 309.24ZM117.48 316.6L102.8 316.6L102.8 323.96L117.48 323.96ZM124.83 360.78L124.83 368.14L132.17 368.14L132.17 360.78ZM80.77 368.14L80.77 375.5L88.11 375.5L88.11 368.14ZM102.8 404.96L110.14 404.96L110.14 412.32L80.77 412.32L80.77 419.68L73.43 419.68L73.43 412.32L66.08 412.32L66.08 419.68L58.74 419.68L58.74 427.04L51.4 427.04L51.4 441.77L29.37 441.77L29.37 449.13L14.69 449.13L14.69 441.77L7.34 441.77L7.34 456.49L0 456.49L0 537.49L7.34 537.49L7.34 544.85L14.69 544.85L14.69 552.21L22.03 552.21L22.03 537.49L29.37 537.49L29.37 530.12L44.06 530.12L44.06 544.85L36.71 544.85L36.71 552.21L124.83 552.21L124.83 537.49L132.17 537.49L132.17 530.12L139.51 530.12L139.51 544.85L146.85 544.85L146.85 530.12L154.2 530.12L154.2 522.76L161.54 522.76L161.54 530.12L198.25 530.12L198.25 537.49L205.6 537.49L205.6 530.12L242.31 530.12L242.31 537.49L256.99 537.49L256.99 530.12L271.68 530.12L271.68 522.76L286.36 522.76L286.36 530.12L293.71 530.12L293.71 522.76L301.05 522.76L301.05 530.12L323.08 530.12L323.08 537.49L330.42 537.49L330.42 544.85L323.08 544.85L323.08 552.21L337.76 552.21L337.76 530.12L359.79 530.12L359.79 537.49L374.48 537.49L374.48 530.12L403.85 530.12L403.85 522.76L411.19 522.76L411.19 515.4L403.85 515.4L403.85 508.03L418.53 508.03L418.53 493.31L403.85 493.31L403.85 500.67L389.16 500.67L389.16 493.31L381.82 493.31L381.82 485.95L455.25 485.95L455.25 478.58L440.56 478.58L440.56 471.22L455.25 471.22L455.25 463.86L462.59 463.86L462.59 456.49L469.93 456.49L469.93 463.86L484.62 463.86L484.62 456.49L491.96 456.49L491.96 449.13L484.62 449.13L484.62 434.41L477.27 434.41L477.27 427.04L469.93 427.04L469.93 404.96L462.59 404.96L462.59 397.59L425.88 397.59L425.88 390.23L403.85 390.23L403.85 397.59L396.5 397.59L396.5 412.32L374.48 412.32L374.48 419.68L367.13 419.68L367.13 441.77L345.11 441.77L345.11 427.04L337.76 427.04L337.76 441.77L301.05 441.77L301.05 449.13L337.76 449.13L337.76 456.49L345.11 456.49L345.11 463.86L337.76 463.86L337.76 471.22L330.42 471.22L330.42 478.58L323.08 478.58L323.08 463.86L308.39 463.86L308.39 471.22L271.68 471.22L271.68 485.95L264.34 485.95L264.34 478.58L242.31 478.58L242.31 493.31L234.97 493.31L234.97 485.95L212.94 485.95L212.94 493.31L183.57 493.31L183.57 485.95L168.88 485.95L168.88 478.58L161.54 478.58L161.54 471.22L168.88 471.22L168.88 463.86L154.2 463.86L154.2 471.22L124.83 471.22L124.83 456.49L117.48 456.49L117.48 434.41L102.8 434.41L102.8 419.68L110.14 419.68L110.14 427.04L117.48 427.04L117.48 419.68L124.83 419.68L124.83 412.32L132.17 412.32L132.17 404.96L139.51 404.96L139.51 397.59L132.17 397.59L132.17 382.87L124.83 382.87L124.83 375.5L117.48 375.5L117.48 382.87L110.14 382.87L110.14 397.59L102.8 397.59ZM22.03 456.49L22.03 463.86L7.34 463.86L7.34 456.49ZM14.69 537.49L14.69 530.12L22.03 530.12L22.03 537.49ZM425.88 404.96L418.53 404.96L418.53 397.59L425.88 397.59ZM117.48 471.22L110.14 471.22L110.14 456.49L117.48 456.49ZM374.48 515.4L374.48 508.03L381.82 508.03L381.82 515.4ZM337.76 515.4L337.76 508.03L359.79 508.03L359.79 515.4ZM337.76 500.67L337.76 493.31L345.11 493.31L345.11 485.95L352.45 485.95L352.45 493.31L359.79 493.31L359.79 500.67ZM323.08 493.31L323.08 500.67L279.02 500.67L279.02 485.95L337.76 485.95L337.76 493.31ZM359.79 485.95L367.13 485.95L367.13 493.31L359.79 493.31ZM117.48 500.67L102.8 500.67L102.8 485.95L117.48 485.95L117.48 478.58L132.17 478.58L132.17 485.95L124.83 485.95L124.83 493.31L132.17 493.31L132.17 500.67L146.85 500.67L146.85 508.03L124.83 508.03L124.83 515.4L117.48 515.4ZM95.45 485.95L95.45 478.58L102.8 478.58L102.8 485.95ZM29.37 456.49L36.71 456.49L36.71 463.86L29.37 463.86ZM95.45 456.49L102.8 456.49L102.8 463.86L95.45 463.86ZM88.11 478.58L88.11 485.95L80.77 485.95L80.77 478.58ZM7.34 508.03L7.34 500.67L29.37 500.67L29.37 508.03ZM433.22 441.77L440.56 441.77L440.56 419.68L462.59 419.68L462.59 434.41L469.93 434.41L469.93 449.13L433.22 449.13ZM433.22 456.49L425.88 456.49L425.88 449.13L433.22 449.13ZM425.88 427.04L425.88 434.41L418.53 434.41L418.53 427.04ZM367.13 471.22L367.13 478.58L359.79 478.58L359.79 471.22ZM396.5 471.22L396.5 478.58L381.82 478.58L381.82 471.22ZM396.5 427.04L389.16 427.04L389.16 419.68L396.5 419.68ZM367.13 456.49L359.79 456.49L359.79 449.13L367.13 449.13ZM29.37 404.96L29.37 412.32L36.71 412.32L36.71 404.96ZM7.34 544.85L0 544.85L0 552.21L7.34 552.21ZM51.4 566.94L22.03 566.94L22.03 574.3L51.4 574.3ZM95.45 566.94L95.45 574.3L110.14 574.3L110.14 566.94ZM242.31 228.25L242.31 235.61L249.65 235.61L249.65 228.25ZM249.65 316.6L242.31 316.6L242.31 323.96L249.65 323.96ZM256.99 412.32L256.99 404.96L271.68 404.96L271.68 382.87L264.34 382.87L264.34 375.5L249.65 375.5L249.65 390.23L256.99 390.23L256.99 397.59L242.31 397.59L242.31 412.32ZM234.97 412.32L234.97 419.68L242.31 419.68L242.31 412.32ZM256.99 441.77L249.65 441.77L249.65 449.13L242.31 449.13L242.31 463.86L249.65 463.86L249.65 456.49L256.99 456.49ZM198.25 441.77L198.25 449.13L212.94 449.13L212.94 441.77ZM227.62 456.49L220.28 456.49L220.28 463.86L227.62 463.86ZM205.6 463.86L176.22 463.86L176.22 478.58L227.62 478.58L227.62 471.22L205.6 471.22ZM190.91 566.94L190.91 574.3L205.6 574.3L205.6 566.94ZM323.08 73.63L323.08 80.99L337.76 80.99L337.76 73.63L352.45 73.63L352.45 66.27L345.11 66.27L345.11 58.9L367.13 58.9L367.13 51.54L418.53 51.54L418.53 58.9L425.88 58.9L425.88 73.63L440.56 73.63L440.56 80.99L433.22 80.99L433.22 95.72L425.88 95.72L425.88 88.35L411.19 88.35L411.19 95.72L418.53 95.72L418.53 110.44L425.88 110.44L425.88 139.89L418.53 139.89L418.53 147.26L433.22 147.26L433.22 161.98L440.56 161.98L440.56 169.34L433.22 169.34L433.22 176.71L447.9 176.71L447.9 191.43L455.25 191.43L455.25 176.71L484.62 176.71L484.62 184.07L491.96 184.07L491.96 169.34L484.62 169.34L484.62 161.98L462.59 161.98L462.59 154.62L477.27 154.62L477.27 147.26L484.62 147.26L484.62 132.53L491.96 132.53L491.96 125.17L506.65 125.17L506.65 103.08L513.99 103.08L513.99 95.72L521.33 95.72L521.33 80.99L536.02 80.99L536.02 73.63L521.33 73.63L521.33 66.27L513.99 66.27L513.99 73.63L506.65 73.63L506.65 88.35L499.3 88.35L499.3 80.99L491.96 80.99L491.96 73.63L499.3 73.63L499.3 58.9L491.96 58.9L491.96 66.27L469.93 66.27L469.93 73.63L462.59 73.63L462.59 80.99L455.25 80.99L455.25 73.63L447.9 73.63L447.9 58.9L462.59 58.9L462.59 44.18L447.9 44.18L447.9 36.81L484.62 36.81L484.62 29.45L447.9 29.45L447.9 22.09L433.22 22.09L433.22 36.81L425.88 36.81L425.88 22.09L418.53 22.09L418.53 29.45L411.19 29.45L411.19 22.09L389.16 22.09L389.16 14.73L367.13 14.73L367.13 22.09L381.82 22.09L381.82 29.45L359.79 29.45L359.79 36.81L330.42 36.81L330.42 44.18L323.08 44.18L323.08 66.27L315.74 66.27L315.74 73.63ZM440.56 95.72L440.56 103.08L433.22 103.08L433.22 95.72ZM484.62 103.08L491.96 103.08L491.96 110.44L484.62 110.44ZM462.59 103.08L469.93 103.08L469.93 110.44L462.59 110.44ZM249.65 66.27L249.65 73.63L256.99 73.63L256.99 66.27ZM293.71 66.27L293.71 73.63L301.05 73.63L301.05 66.27ZM308.39 73.63L301.05 73.63L301.05 88.35L308.39 88.35ZM293.71 73.63L264.34 73.63L264.34 80.99L293.71 80.99ZM301.05 184.07L293.71 184.07L293.71 176.71L286.36 176.71L286.36 198.8L279.02 198.8L279.02 206.16L264.34 206.16L264.34 213.52L256.99 213.52L256.99 220.88L279.02 220.88L279.02 228.25L286.36 228.25L286.36 220.88L301.05 220.88L301.05 198.8L293.71 198.8L293.71 191.43L308.39 191.43L308.39 198.8L330.42 198.8L330.42 206.16L337.76 206.16L337.76 184.07L330.42 184.07L330.42 176.71L337.76 176.71L337.76 169.34L345.11 169.34L345.11 161.98L293.71 161.98L293.71 169.34L301.05 169.34ZM256.99 184.07L256.99 191.43L264.34 191.43L264.34 184.07ZM293.71 228.25L293.71 235.61L301.05 235.61L301.05 228.25ZM264.34 228.25L264.34 235.61L271.68 235.61L271.68 228.25ZM264.34 242.97L256.99 242.97L256.99 250.34L264.34 250.34ZM271.68 316.6L271.68 323.96L286.36 323.96L286.36 316.6ZM279.02 375.5L279.02 382.87L286.36 382.87L286.36 375.5ZM315.74 404.96L315.74 412.32L323.08 412.32L323.08 404.96ZM286.36 404.96L286.36 412.32L293.71 412.32L293.71 404.96ZM279.02 404.96L271.68 404.96L271.68 412.32L279.02 412.32ZM301.05 427.04L279.02 427.04L279.02 434.41L301.05 434.41ZM264.34 427.04L249.65 427.04L249.65 434.41L264.34 434.41ZM279.02 441.77L279.02 449.13L286.36 449.13L286.36 441.77ZM293.71 456.49L301.05 456.49L301.05 449.13L293.71 449.13ZM286.36 456.49L286.36 463.86L293.71 463.86L293.71 456.49ZM279.02 552.21L308.39 552.21L308.39 544.85L286.36 544.85L286.36 537.49L279.02 537.49L279.02 530.12L271.68 530.12L271.68 544.85L279.02 544.85ZM381.82 73.63L381.82 80.99L403.85 80.99L403.85 73.63ZM411.19 117.81L411.19 110.44L403.85 110.44L403.85 117.81ZM411.19 117.81L411.19 125.17L418.53 125.17L418.53 117.81ZM389.16 125.17L389.16 132.53L396.5 132.53L396.5 125.17ZM389.16 132.53L359.79 132.53L359.79 139.89L389.16 139.89ZM359.79 191.43L367.13 191.43L367.13 184.07L359.79 184.07L359.79 176.71L337.76 176.71L337.76 184.07L345.11 184.07L345.11 191.43L352.45 191.43L352.45 198.8L359.79 198.8ZM411.19 191.43L411.19 198.8L418.53 198.8L418.53 206.16L396.5 206.16L396.5 213.52L403.85 213.52L403.85 220.88L425.88 220.88L425.88 228.25L440.56 228.25L440.56 220.88L462.59 220.88L462.59 213.52L477.27 213.52L477.27 228.25L484.62 228.25L484.62 220.88L491.96 220.88L491.96 228.25L513.99 228.25L513.99 213.52L506.65 213.52L506.65 191.43L484.62 191.43L484.62 198.8L477.27 198.8L477.27 206.16L469.93 206.16L469.93 198.8L433.22 198.8L433.22 184.07L418.53 184.07L418.53 191.43ZM499.3 198.8L499.3 206.16L491.96 206.16L491.96 213.52L484.62 213.52L484.62 198.8ZM403.85 242.97L403.85 250.34L411.19 250.34L411.19 235.61L425.88 235.61L425.88 228.25L403.85 228.25L403.85 235.61L381.82 235.61L381.82 242.97ZM367.13 242.97L367.13 250.34L374.48 250.34L374.48 242.97ZM345.11 287.15L345.11 301.88L352.45 301.88L352.45 287.15ZM418.53 301.88L418.53 309.24L425.88 309.24L425.88 301.88ZM418.53 346.05L411.19 346.05L411.19 353.42L418.53 353.42ZM367.13 544.85L359.79 544.85L359.79 552.21L367.13 552.21ZM389.16 559.57L389.16 544.85L381.82 544.85L381.82 552.21L374.48 552.21L374.48 566.94L381.82 566.94L381.82 559.57ZM462.59 14.73L455.25 14.73L455.25 22.09L491.96 22.09L491.96 29.45L506.65 29.45L506.65 22.09L521.33 22.09L521.33 29.45L513.99 29.45L513.99 44.18L528.67 44.18L528.67 36.81L536.02 36.81L536.02 29.45L528.67 29.45L528.67 14.73L521.33 14.73L521.33 7.36L565.39 7.36L565.39 0L513.99 0L513.99 7.36L477.27 7.36L477.27 0L462.59 0ZM433.22 7.36L418.53 7.36L418.53 14.73L433.22 14.73ZM477.27 198.8L477.27 191.43L484.62 191.43L484.62 184.07L469.93 184.07L469.93 198.8ZM447.9 228.25L447.9 235.61L455.25 235.61L455.25 228.25ZM447.9 235.61L440.56 235.61L440.56 242.97L447.9 242.97ZM462.59 235.61L462.59 242.97L469.93 242.97L469.93 235.61ZM425.88 294.51L425.88 301.88L433.22 301.88L433.22 294.51ZM447.9 294.51L440.56 294.51L440.56 301.88L447.9 301.88ZM462.59 331.33L499.3 331.33L499.3 323.96L513.99 323.96L513.99 331.33L536.02 331.33L536.02 323.96L521.33 323.96L521.33 316.6L484.62 316.6L484.62 309.24L469.93 309.24L469.93 301.88L455.25 301.88L455.25 316.6L462.59 316.6ZM440.56 309.24L440.56 316.6L447.9 316.6L447.9 309.24ZM433.22 360.78L433.22 353.42L440.56 353.42L440.56 346.05L447.9 346.05L447.9 338.69L455.25 338.69L455.25 331.33L433.22 331.33L433.22 338.69L425.88 338.69L425.88 360.78ZM447.9 434.41L447.9 441.77L455.25 441.77L455.25 434.41ZM469.93 471.22L469.93 463.86L462.59 463.86L462.59 485.95L477.27 485.95L477.27 471.22ZM462.59 493.31L462.59 500.67L484.62 500.67L484.62 493.31ZM455.25 522.76L455.25 530.12L462.59 530.12L462.59 522.76ZM506.65 184.07L506.65 191.43L513.99 191.43L513.99 184.07L528.67 184.07L528.67 191.43L521.33 191.43L521.33 220.88L536.02 220.88L536.02 228.25L528.67 228.25L528.67 235.61L513.99 235.61L513.99 242.97L506.65 242.97L506.65 250.34L513.99 250.34L513.99 257.7L506.65 257.7L506.65 265.06L499.3 265.06L499.3 250.34L491.96 250.34L491.96 287.15L499.3 287.15L499.3 279.79L513.99 279.79L513.99 265.06L521.33 265.06L521.33 272.42L528.67 272.42L528.67 257.7L521.33 257.7L521.33 250.34L543.36 250.34L543.36 265.06L550.7 265.06L550.7 250.34L565.39 250.34L565.39 242.97L572.73 242.97L572.73 228.25L587.41 228.25L587.41 213.52L594.76 213.52L594.76 191.43L587.41 191.43L587.41 198.8L580.07 198.8L580.07 206.16L572.73 206.16L572.73 198.8L536.02 198.8L536.02 184.07L550.7 184.07L550.7 191.43L558.04 191.43L558.04 184.07L587.41 184.07L587.41 176.71L565.39 176.71L565.39 169.34L558.04 169.34L558.04 176.71L550.7 176.71L550.7 169.34L543.36 169.34L543.36 176.71L513.99 176.71L513.99 161.98L521.33 161.98L521.33 154.62L536.02 154.62L536.02 161.98L572.73 161.98L572.73 169.34L594.76 169.34L594.76 161.98L580.07 161.98L580.07 154.62L587.41 154.62L587.41 147.26L580.07 147.26L580.07 139.89L572.73 139.89L572.73 147.26L550.7 147.26L550.7 139.89L536.02 139.89L536.02 147.26L513.99 147.26L513.99 154.62L491.96 154.62L491.96 161.98L499.3 161.98L499.3 184.07ZM550.7 235.61L550.7 228.25L565.39 228.25L565.39 235.61ZM484.62 228.25L484.62 235.61L491.96 235.61L491.96 228.25ZM469.93 368.14L469.93 375.5L484.62 375.5L484.62 368.14ZM484.62 419.68L491.96 419.68L491.96 412.32L484.62 412.32ZM477.27 419.68L477.27 427.04L484.62 427.04L484.62 419.68ZM484.62 471.22L491.96 471.22L491.96 463.86L484.62 463.86ZM491.96 500.67L484.62 500.67L484.62 508.03L491.96 508.03ZM484.62 530.12L491.96 530.12L491.96 515.4L484.62 515.4ZM484.62 530.12L477.27 530.12L477.27 537.49L484.62 537.49ZM513.99 559.57L513.99 566.94L528.67 566.94L528.67 559.57ZM469.93 566.94L469.93 574.3L477.27 574.3L477.27 566.94ZM491.96 566.94L484.62 566.94L484.62 574.3L491.96 574.3ZM536.02 14.73L536.02 22.09L543.36 22.09L543.36 14.73ZM543.36 36.81L550.7 36.81L550.7 22.09L543.36 22.09ZM587.41 73.63L602.1 73.63L602.1 66.27L572.73 66.27L572.73 73.63L580.07 73.63L580.07 80.99L587.41 80.99ZM565.39 73.63L558.04 73.63L558.04 80.99L565.39 80.99ZM565.39 117.81L558.04 117.81L558.04 110.44L543.36 110.44L543.36 103.08L528.67 103.08L528.67 117.81L536.02 117.81L536.02 125.17L543.36 125.17L543.36 117.81L550.7 117.81L550.7 132.53L580.07 132.53L580.07 139.89L587.41 139.89L587.41 132.53L602.1 132.53L602.1 125.17L587.41 125.17L587.41 117.81L602.1 117.81L602.1 80.99L587.41 80.99L587.41 103.08L572.73 103.08L572.73 110.44L565.39 110.44ZM543.36 95.72L543.36 103.08L558.04 103.08L558.04 95.72ZM602.1 265.06L594.76 265.06L594.76 272.42L602.1 272.42ZM521.33 279.79L521.33 287.15L528.67 287.15L528.67 279.79ZM536.02 316.6L536.02 301.88L528.67 301.88L528.67 309.24L521.33 309.24L521.33 316.6ZM550.7 309.24L543.36 309.24L543.36 316.6L550.7 316.6ZM594.76 404.96L594.76 419.68L602.1 419.68L602.1 404.96ZM558.04 566.94L558.04 574.3L565.39 574.3L565.39 566.94Z"/>
<use href="#bd" clip-path="url(#pc)"/>
<rect width="602.1" height="574.3" fill="none" stroke="#000" stroke-width="2.5"/>
<text x="61.45" y="37.95" font-size="41.5">(e)</text>
</g>
<g transform="translate(1285.6,669.05)">
<rect width="602.1" height="574.3" fill="#f7fcfd"/>
<path fill="#08306b" fill-rule="evenodd" d="M220.28 257.7L234.97 257.7L234.97 265.06L227.62 265.06L227.62 272.42L242.31 272.42L242.31 279.79L256.99 279.79L256.99 272.42L264.34 272.42L264.34 265.06L279.02 265.06L279.02 257.7L286.36 257.7L286.36 250.34L293.71 250.34L293.71 272.42L286.36 272.42L286.36 279.79L279.02 279.79L279.02 287.15L271.68 287.15L271.68 309.24L264.34 309.24L264.34 331.33L205.6 331.33L205.6 338.69L198.25 338.69L198.25 346.05L205.6 346.05L205.6 353.42L190.91 353.42L190.91 368.14L183.57 368.14L183.57 375.5L146.85 375.5L146.85 390.23L139.51 390.23L139.51 382.87L132.17 382.87L132.17 390.23L124.83 390.23L124.83 404.96L117.48 404.96L117.48 412.32L110.14 412.32L110.14 419.68L117.48 419.68L117.48 434.41L102.8 434.41L102.8 441.77L110.14 441.77L110.14 449.13L117.48 449.13L117.48 441.77L124.83 441.77L124.83 456.49L117.48 456.49L117.48 463.86L110.14 463.86L110.14 478.58L88.11 478.58L88.11 485.95L80.77 485.95L80.77 500.67L73.43 500.67L73.43 508.03L58.74 508.03L58.74 515.4L51.4 515.4L51.4 544.85L36.71 544.85L36.71 552.21L44.06 552.21L44.06 566.94L73.43 566.94L73.43 552.21L88.11 552.21L88.11 544.85L80.77 544.85L80.77 537.49L88.11 537.49L88.11 530.12L124.83 530.12L124.83 537.49L102.8 537.49L102.8 552.21L95.45 552.21L95.45 559.57L88.11 559.57L88.11 566.94L110.14 566.94L110.14 552.21L124.83 552.21L124.83 544.85L132.17 544.85L132.17 537.49L139.51 537.49L139.51 530.12L154.2 530.12L154.2 522.76L168.88 522.76L168.88 515.4L176.22 515.4L176.22 500.67L183.57 500.67L183.57 485.95L198.25 485.95L198.25 500.67L205.6 500.67L205.6 493.31L212.94 493.31L212.94 508.03L220.28 508.03L220.28 500.67L227.62 500.67L227.62 493.31L242.31 493.31L242.31 463.86L234.97 463.86L234.97 471.22L205.6 471.22L205.6 463.86L227.62 463.86L227.62 456.49L242.31 456.49L242.31 441.77L256.99 441.77L256.99 434.41L271.68 434.41L271.68 427.04L279.02 427.04L279.02 434.41L286.36 434.41L286.36 441.77L293.71 441.77L293.71 456.49L301.05 456.49L301.05 463.86L323.08 463.86L323.08 471.22L330.42 471.22L330.42 463.86L345.11 463.86L345.11 456.49L352.45 456.49L352.45 463.86L359.79 463.86L359.79 471.22L374.48 471.22L374.48 463.86L367.13 463.86L367.13 456.49L381.82 456.49L381.82 463.86L396.5 463.86L396.5 449.13L352.45 449.13L352.45 441.77L345.11 441.77L345.11 434.41L330.42 434.41L330.42 441.77L301.05 441.77L301.05 419.68L315.74 419.68L315.74 412.32L330.42 412.32L330.42 397.59L352.45 397.59L352.45 375.5L359.79 375.5L359.79 397.59L374.48 397.59L374.48 368.14L359.79 368.14L359.79 353.42L381.82 353.42L381.82 346.05L389.16 346.05L389.16 353.42L396.5 353.42L396.5 338.69L367.13 338.69L367.13 346.05L323.08 346.05L323.08 353.42L315.74 353.42L315.74 368.14L308.39 368.14L308.39 346.05L301.05 346.05L301.05 338.69L293.71 338.69L293.71 323.96L301.05 323.96L301.05 309.24L315.74 309.24L315.74 301.88L323.08 301.88L323.08 294.51L337.76 294.51L337.76 287.15L345.11 287.15L345.11 279.79L352.45 279.79L352.45 272.42L345.11 272.42L345.11 265.06L352.45 265.06L352.45 257.7L359.79 257.7L359.79 250.34L367.13 250.34L367.13 257.7L374.48 257.7L374.48 250.34L381.82 250.34L381.82 242.97L396.5 242.97L396.5 228.25L381.82 228.25L381.82 213.52L403.85 213.52L403.85 198.8L425.88 198.8L425.88 191.43L440.56 191.43L440.56 184.07L447.9 184.07L447.9 176.71L469.93 176.71L469.93 184.07L455.25 184.07L455.25 198.8L447.9 198.8L447.9 206.16L440.56 206.16L440.56 213.52L425.88 213.52L425.88 220.88L418.53 220.88L418.53 228.25L411.19 228.25L411.19 242.97L403.85 242.97L403.85 257.7L411.19 257.7L411.19 279.79L418.53 279.79L418.53 257.7L433.22 257.7L433.22 250.34L440.56 250.34L440.56 265.06L447.9 265.06L447.9 257.7L455.25 257.7L455.25 242.97L440.56 242.97L440.56 235.61L447.9 235.61L447.9 220.88L455.25 220.88L455.25 213.52L469.93 213.52L469.93 206.16L477.27 206.16L477.27 198.8L491.96 198.8L491.96 191.43L499.3 191.43L499.3 184.07L506.65 184.07L506.65 161.98L513.99 161.98L513.99 154.62L521.33 154.62L521.33 147.26L528.67 147.26L528.67 139.89L536.02 139.89L536.02 132.53L558.04 132.53L558.04 117.81L565.39 117.81L565.39 110.44L572.73 110.44L572.73 125.17L565.39 125.17L565.39 139.89L572.73 139.89L572.73 132.53L580.07 132.53L580.07 125.17L587.41 125.17L587.41 147.26L580.07 147.26L580.07 161.98L587.41 161.98L587.41 176.71L580.07 176.71L580.07 169.34L572.73 169.34L572.73 176.71L565.39 176.71L565.39 169.34L558.04 169.34L558.04 184.07L543.36 184.07L543.36 198.8L550.7 198.8L550.7 191.43L558.04 191.43L558.04 198.8L565.39 198.8L565.39 191.43L580.07 191.43L580.07 184.07L602.1 184.07L602.1 117.81L587.41 117.81L587.41 110.44L594.76 110.44L594.76 103.08L602.1 103.08L602.1 80.99L594.76 80.99L594.76 88.35L580.07 88.35L580.07 73.63L565.39 73.63L565.39 66.27L580.07 66.27L580.07 58.9L558.04 58.9L558.04 66.27L543.36 66.27L543.36 73.63L528.67 73.63L528.67 80.99L499.3 80.99L499.3 88.35L484.62 88.35L484.62 103.08L469.93 103.08L469.93 110.44L462.59 110.44L462.59 117.81L455.25 117.81L455.25 110.44L440.56 110.44L440.56 117.81L418.53 117.81L418.53 125.17L403.85 125.17L403.85 132.53L389.16 132.53L389.16 139.89L396.5 139.89L396.5 147.26L389.16 147.26L389.16 161.98L367.13 161.98L367.13 169.34L352.45 169.34L352.45 176.71L337.76 176.71L337.76 184.07L330.42 184.07L330.42 191.43L301.05 191.43L301.05 184.07L293.71 184.07L293.71 206.16L286.36 206.16L286.36 213.52L271.68 213.52L271.68 220.88L249.65 220.88L249.65 213.52L234.97 213.52L234.97 220.88L227.62 220.88L227.62 235.61L220.28 235.61L220.28 242.97L212.94 242.97L212.94 257.7L205.6 257.7L205.6 265.06L220.28 265.06ZM293.71 242.97L301.05 242.97L301.05 250.34L293.71 250.34ZM293.71 346.05L279.02 346.05L279.02 338.69L293.71 338.69ZM565.39 80.99L558.04 80.99L558.04 73.63L565.39 73.63ZM558.04 88.35L550.7 88.35L550.7 80.99L558.04 80.99ZM279.02 382.87L279.02 390.23L271.68 390.23L271.68 382.87ZM234.97 404.96L242.31 404.96L242.31 412.32L249.65 412.32L249.65 419.68L242.31 419.68L242.31 427.04L234.97 427.04ZM220.28 412.32L220.28 419.68L205.6 419.68L205.6 412.32L198.25 412.32L198.25 404.96L212.94 404.96L212.94 412.32ZM146.85 397.59L161.54 397.59L161.54 404.96L146.85 404.96ZM146.85 427.04L139.51 427.04L139.51 404.96L146.85 404.96ZM190.91 471.22L183.57 471.22L183.57 463.86L190.91 463.86ZM139.51 515.4L139.51 508.03L146.85 508.03L146.85 515.4ZM58.74 552.21L66.08 552.21L66.08 559.57L58.74 559.57ZM345.11 382.87L345.11 390.23L337.76 390.23L337.76 382.87ZM491.96 139.89L499.3 139.89L499.3 132.53L506.65 132.53L506.65 139.89L513.99 139.89L513.99 147.26L506.65 147.26L506.65 154.62L491.96 154.62ZM190.91 323.96L205.6 323.96L205.6 316.6L212.94 316.6L212.94 309.24L227.62 309.24L227.62 301.88L234.97 301.88L234.97 287.15L242.31 287.15L242.31 279.79L220.28 279.79L220.28 287.15L212.94 287.15L212.94 294.51L205.6 294.51L205.6 301.88L198.25 301.88L198.25 309.24L190.91 309.24ZM146.85 559.57L132.17 559.57L132.17 566.94L146.85 566.94ZM29.37 566.94L29.37 574.3L44.06 574.3L44.06 566.94ZM256.99 493.31L256.99 500.67L264.34 500.67L264.34 493.31ZM286.36 493.31L286.36 500.67L293.71 500.67L293.71 493.31ZM308.39 500.67L301.05 500.67L301.05 508.03L308.39 508.03ZM220.28 508.03L220.28 515.4L227.62 515.4L227.62 522.76L234.97 522.76L234.97 508.03ZM330.42 515.4L315.74 515.4L315.74 522.76L330.42 522.76ZM256.99 544.85L264.34 544.85L264.34 530.12L256.99 530.12L256.99 522.76L249.65 522.76L249.65 552.21L256.99 552.21ZM286.36 566.94L286.36 574.3L293.71 574.3L293.71 566.94ZM359.79 7.36L359.79 0L337.76 0L337.76 14.73L345.11 14.73L345.11 7.36ZM337.76 331.33L337.76 323.96L330.42 323.96L330.42 331.33L323.08 331.33L323.08 338.69L345.11 338.69L345.11 331.33ZM411.19 412.32L411.19 397.59L403.85 397.59L403.85 404.96L396.5 404.96L396.5 412.32ZM330.42 427.04L337.76 427.04L337.76 412.32L330.42 412.32ZM403.85 419.68L396.5 419.68L396.5 427.04L403.85 427.04ZM359.79 419.68L359.79 427.04L367.13 427.04L367.13 419.68ZM411.19 427.04L403.85 427.04L403.85 434.41L411.19 434.41ZM418.53 441.77L403.85 441.77L403.85 449.13L418.53 449.13ZM389.16 500.67L411.19 500.67L411.19 537.49L425.88 537.49L425.88 530.12L418.53 530.12L418.53 522.76L425.88 522.76L425.88 508.03L433.22 508.03L433.22 500.67L418.53 500.67L418.53 493.31L411.19 493.31L411.19 471.22L396.5 471.22L396.5 485.95L389.16 485.95ZM352.45 544.85L345.11 544.85L345.11 559.57L359.79 559.57L359.79 566.94L374.48 566.94L374.48 559.57L367.13 559.57L367.13 537.49L359.79 537.49L359.79 508.03L352.45 508.03ZM389.16 515.4L389.16 522.76L396.5 522.76L396.5 515.4ZM359.79 566.94L345.11 566.94L345.11 574.3L359.79 574.3ZM477.27 250.34L462.59 250.34L462.59 257.7L477.27 257.7ZM433.22 265.06L425.88 265.06L425.88 272.42L433.22 272.42ZM462.59 346.05L469.93 346.05L469.93 323.96L462.59 323.96ZM440.56 346.05L433.22 346.05L433.22 353.42L425.88 353.42L425.88 368.14L440.56 368.14ZM447.9 353.42L447.9 360.78L455.25 360.78L455.25 368.14L462.59 368.14L462.59 353.42ZM440.56 397.59L440.56 412.32L455.25 412.32L455.25 404.96L447.9 404.96L447.9 397.59ZM469.93 397.59L462.59 397.59L462.59 404.96L469.93 404.96ZM440.56 419.68L440.56 427.04L447.9 427.04L447.9 419.68ZM411.19 456.49L411.19 471.22L425.88 471.22L425.88 463.86L447.9 463.86L447.9 449.13L440.56 449.13L440.56 427.04L433.22 427.04L433.22 434.41L425.88 434.41L425.88 456.49ZM462.59 441.77L455.25 441.77L455.25 449.13L462.59 449.13ZM447.9 471.22L447.9 478.58L455.25 478.58L455.25 471.22ZM477.27 471.22L469.93 471.22L469.93 485.95L477.27 485.95ZM462.59 485.95L447.9 485.95L447.9 500.67L469.93 500.67L469.93 493.31L462.59 493.31ZM447.9 552.21L440.56 552.21L440.56 559.57L447.9 559.57ZM550.7 139.89L550.7 147.26L558.04 147.26L558.04 139.89ZM550.7 147.26L543.36 147.26L543.36 154.62L550.7 154.62ZM528.67 191.43L513.99 191.43L513.99 206.16L521.33 206.16L521.33 198.8L528.67 198.8ZM499.3 198.8L499.3 206.16L506.65 206.16L506.65 198.8ZM521.33 220.88L513.99 220.88L513.99 228.25L521.33 228.25ZM491.96 242.97L491.96 257.7L499.3 257.7L499.3 265.06L506.65 265.06L506.65 250.34L499.3 250.34L499.3 235.61L506.65 235.61L506.65 228.25L477.27 228.25L477.27 242.97ZM543.36 228.25L536.02 228.25L536.02 235.61L543.36 235.61ZM543.36 265.06L543.36 279.79L558.04 279.79L558.04 272.42L550.7 272.42L550.7 250.34L543.36 250.34L543.36 257.7L536.02 257.7L536.02 265.06ZM506.65 287.15L506.65 294.51L521.33 294.51L521.33 287.15ZM513.99 323.96L528.67 323.96L528.67 331.33L521.33 331.33L521.33 338.69L528.67 338.69L528.67 346.05L543.36 346.05L543.36 368.14L550.7 368.14L550.7 360.78L565.39 360.78L565.39 353.42L580.07 353.42L580.07 346.05L594.76 346.05L594.76 353.42L602.1 353.42L602.1 316.6L594.76 316.6L594.76 323.96L587.41 323.96L587.41 331.33L572.73 331.33L572.73 346.05L565.39 346.05L565.39 338.69L543.36 338.69L543.36 331.33L558.04 331.33L558.04 323.96L572.73 323.96L572.73 316.6L565.39 316.6L565.39 309.24L594.76 309.24L594.76 301.88L602.1 301.88L602.1 279.79L587.41 279.79L587.41 272.42L565.39 272.42L565.39 287.15L558.04 287.15L558.04 294.51L550.7 294.51L550.7 309.24L543.36 309.24L543.36 294.51L528.67 294.51L528.67 309.24L513.99 309.24ZM587.41 294.51L572.73 294.51L572.73 287.15L587.41 287.15ZM477.27 338.69L484.62 338.69L484.62 346.05L491.96 346.05L491.96 353.42L499.3 353.42L499.3 346.05L506.65 346.05L506.65 338.69L499.3 338.69L499.3 331.33L491.96 331.33L491.96 323.96L499.3 323.96L499.3 316.6L484.62 316.6L484.62 331.33L477.27 331.33ZM484.62 449.13L477.27 449.13L477.27 456.49L484.62 456.49ZM587.41 51.54L602.1 51.54L602.1 44.18L587.41 44.18ZM587.41 58.9L587.41 51.54L580.07 51.54L580.07 58.9ZM572.73 198.8L565.39 198.8L565.39 213.52L572.73 213.52ZM602.1 206.16L594.76 206.16L594.76 220.88L602.1 220.88ZM572.73 257.7L580.07 257.7L580.07 265.06L594.76 265.06L594.76 257.7L602.1 257.7L602.1 242.97L594.76 242.97L594.76 228.25L558.04 228.25L558.04 242.97L565.39 242.97L565.39 250.34L572.73 250.34ZM572.73 360.78L572.73 368.14L580.07 368.14L580.07 360.78ZM572.73 368.14L558.04 368.14L558.04 375.5L572.73 375.5ZM587.41 382.87L580.07 382.87L580.07 390.23L587.41 390.23ZM602.1 434.41L602.1 427.04L587.41 427.04L587.41 441.77L594.76 441.77L594.76 434.41ZM558.04 544.85L558.04 552.21L572.73 552.21L572.73 544.85Z"/>
<use href="#bd" clip-path="url(#pc)"/>
<rect width="602.1" height="574.3" fill="none" stroke="#000" stroke-width="2.5"/>
<text x="59.5" y="37.95" font-size="41.5">(f)</text>
</g>
<rect x="1919.2" y="590.29" width="30.2" height="48.16" fill="#f7fcfd"/>
<rect x="1919.2" y="542.43" width="30.2" height="48.16" fill="#e6f0f6"/>
<rect x="1919.2" y="494.57" width="30.2" height="48.16" fill="#d1e1ee"/>
<rect x="1919.2" y="446.72" width="30.2" height="48.16" fill="#b9cfe4"/>
<rect x="1919.2" y="398.86" width="30.2" height="48.16" fill="#a1bedb"/>
<rect x="1919.2" y="351" width="30.2" height="48.16" fill="#93a4cd"/>
<rect x="1919.2" y="303.14" width="30.2" height="48.16" fill="#8c86be"/>
<rect x="1919.2" y="255.28" width="30.2" height="48.16" fill="#8c67af"/>
<rect x="1919.2" y="207.43" width="30.2" height="48.16" fill="#8949a1"/>
<rect x="1919.2" y="159.57" width="30.2" height="48.16" fill="#84268b"/>
<rect x="1919.2" y="111.71" width="30.2" height="48.16" fill="#730b6f"/>
<rect x="1919.2" y="63.85" width="30.2" height="48.16" fill="#4d004b"/>
<rect x="1919.2" y="63.85" width="30.2" height="574.3" fill="none" stroke="#000" stroke-width="2.5"/>
<path d="M1950.6 140.9h9.2" stroke="#000" stroke-width="2.5"/>
<text x="1969.3" y="151.9" font-size="30.6" textLength="35.5" lengthAdjust="spacingAndGlyphs">45</text>
<path d="M1950.6 306.6h9.2" stroke="#000" stroke-width="2.5"/>
<text x="1969.3" y="317.6" font-size="30.6" textLength="35.5" lengthAdjust="spacingAndGlyphs">30</text>
<path d="M1950.6 472.3h9.2" stroke="#000" stroke-width="2.5"/>
<text x="1969.3" y="483.3" font-size="30.6" textLength="35.5" lengthAdjust="spacingAndGlyphs">15</text>
<path d="M1950.6 638.3h9.2" stroke="#000" stroke-width="2.5"/>
<text x="1969.3" y="649.3" font-size="30.6" textLength="16.5" lengthAdjust="spacingAndGlyphs">0</text>
<text transform="translate(2025,350.6) rotate(90)" text-anchor="middle" font-size="32" textLength="514" lengthAdjust="spacingAndGlyphs">Accumulated precipitation (mm)</text>
</svg></body></html>
